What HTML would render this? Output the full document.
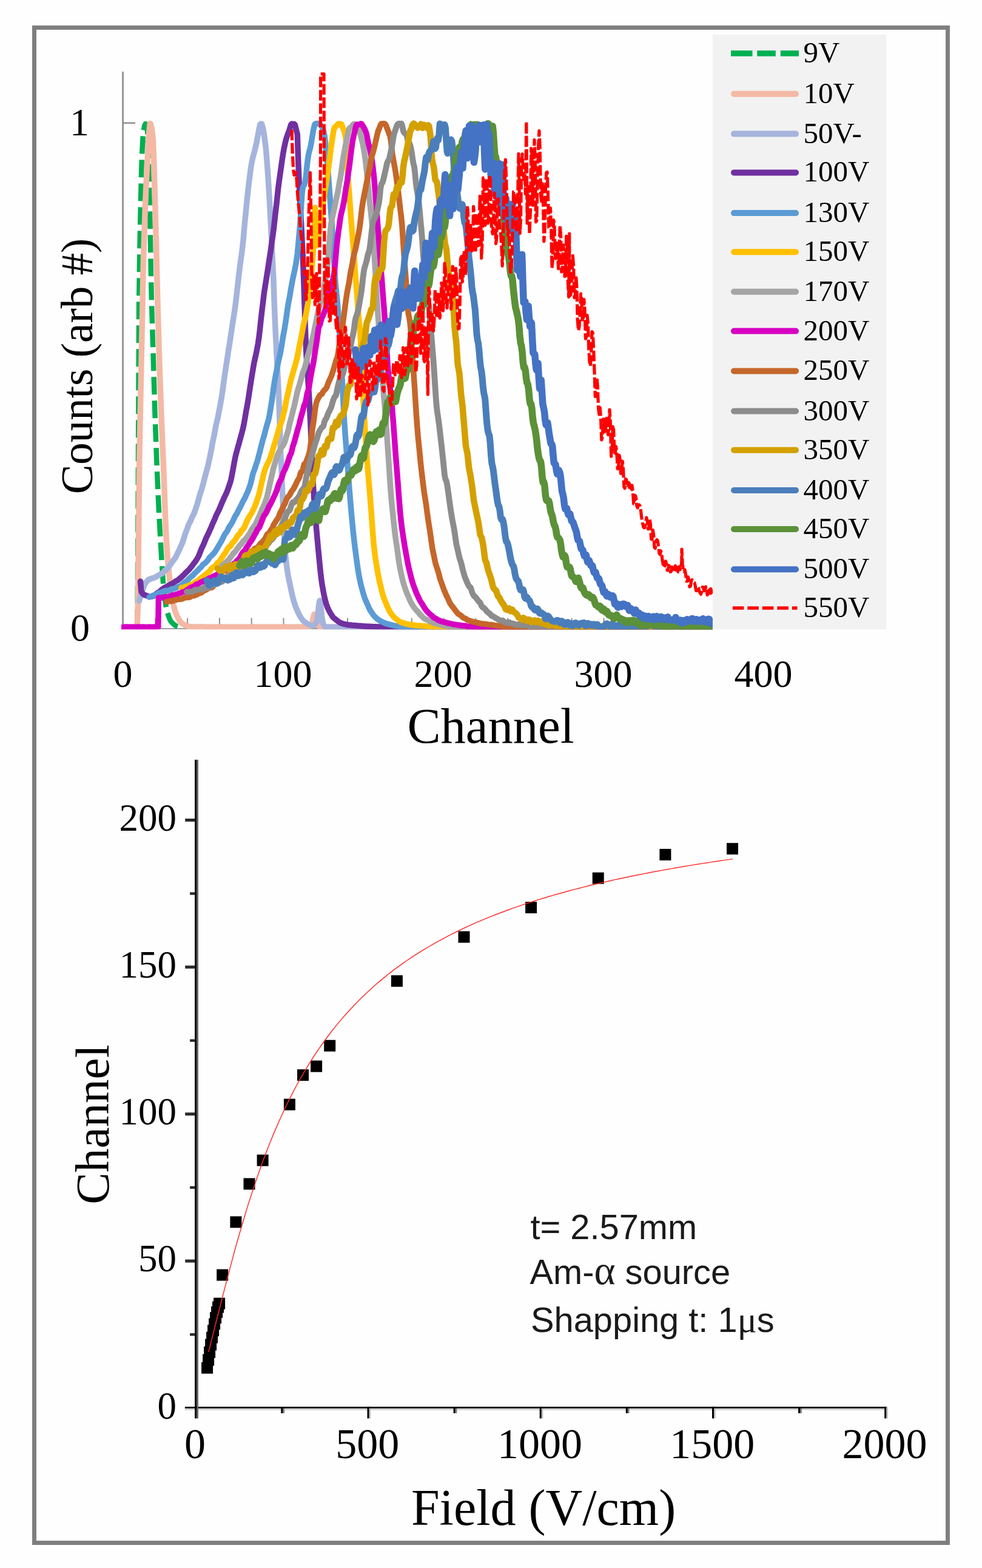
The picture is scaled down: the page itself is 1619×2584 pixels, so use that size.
<!DOCTYPE html>
<html lang="en">
<head>
<meta charset="utf-8">
<title>Normalised pulse-height spectra and channel vs. field</title>
<style>
html,body{margin:0;padding:0;background:#fefefe;}
body{width:1619px;height:2584px;overflow:hidden;}
figure{margin:0;padding:0;width:1619px;height:2584px;position:relative;}
svg{display:block;position:absolute;left:0;top:0;}
svg text{font-family:"Liberation Serif", "DejaVu Serif", serif;fill:#000;}
svg .note text{font-family:"Liberation Sans","DejaVu Sans",sans-serif;fill:#1a1a1a;}
svg .note .sym{font-family:"Liberation Serif","DejaVu Serif",serif;}
</style>
</head>
<body>
<figure>
<svg width="1619" height="2584" viewBox="0 0 1619 2584" role="img">
<defs>
<clipPath id="plotclip"><rect x="200" y="100" width="975" height="937.2"/></clipPath>
</defs>
<rect id="frame" x="56.5" y="45.5" width="1506" height="2497" fill="none" stroke="#7f7f7f" stroke-width="7"/>
<g id="charts">
<g id="spectra-chart">
<g class="axis" fill="none">
<path d="M202.6 118V1037" stroke="#969696" stroke-width="3"/>
<path d="M201.1 1035.9H1176" stroke="#a0a0a0" stroke-width="2"/>
<path d="M202.6 202.7H223" stroke="#8c8c8c" stroke-width="2.4"/>
</g>
<g class="ticks" stroke="#909090" stroke-width="2" fill="none">
<path d="M256.3 1018.4V1035.5M309.1 1018.4V1035.5M361.9 1018.4V1035.5M414.7 1018.4V1035.5M467.5 1018.4V1035.5M520.3 1018.4V1035.5M573.1 1018.4V1035.5M625.9 1018.4V1035.5M678.7 1018.4V1035.5M731.5 1018.4V1035.5M784.3 1018.4V1035.5M837.1 1018.4V1035.5M889.9 1018.4V1035.5M942.7 1018.4V1035.5M995.5 1018.4V1035.5M1048.3 1018.4V1035.5M1101.1 1018.4V1035.5M1153.9 1018.4V1035.5"/>
</g>
<g class="series" fill="none" stroke-linejoin="round" stroke-linecap="butt" clip-path="url(#plotclip)">
<path class="s9v" stroke="#00b050" stroke-width="8.5" stroke-dasharray="29 10" d="M226.5 1033.3L227.8 795.8L228 760L229.1 501.3L229.2 494L230.2 420L230.5 404.8L231.8 340.9L231.8 340L233.1 284.8L233.8 263L234.4 248.8L235.7 224.7L236.6 216L237.1 213.4L238.4 207.2L239.7 204.1L240 204L241 205.4L242.3 210.9L243 215L243.7 225.7L245 268.9L245.3 280L246.3 317.3L247.5 370L247.6 375.8L248.9 450.9L249.6 484L250.3 509.7L251.6 552.7L252.7 588L252.9 594.7L254.2 639.9L255.5 683.1L255.8 691L256.9 721.4L258.2 756.3L258.9 774L259.5 788.2L260.8 817.7L262.1 845.1L262.8 858L263.5 870.4L264.8 893.7L266.1 915.5L266.7 925L267.4 936.4L268.7 956.2L269.4 964L270.1 970.6L271.4 982.7L272.7 992.9L274 1000.9L274.7 1004L275.3 1006.5L276.7 1011.3L278 1015.6L279.3 1019.1L280.6 1022L281.9 1024.2L282.6 1025L283.3 1025.7L284.6 1027L285.9 1028.3L287.2 1029.4L288.5 1030.4L289.9 1031.3L291.2 1032L292.5 1032.6L293.8 1033L295.1 1033.3L296 1033.3"/>
<path class="s10v" stroke="#f4b9a5" stroke-width="9.5" stroke-linecap="round" d="M226 1033.3L227.3 1002.9L227.4 1000L228.6 880.2L229.7 765L230 748L231.3 679.5L232.3 632L232.6 617.1L233.9 552.5L235 500L235.2 488L236.5 427L236.6 424.8L237.9 384L238.2 375L239.2 347.2L240.2 322L240.5 314.7L241.8 287.5L242.8 269L243.2 261.9L244.5 236.8L245 229L245.8 218.2L247.1 204.7L247.6 203.5L248.4 204.3L249.8 209.6L251.1 218.8L252.2 229L252.4 231.5L253.7 265.9L254.6 295L255 309.5L256.4 358.3L256.8 375L257.7 409.2L259 462.1L260 500L260.3 511.5L261.6 557.6L263 600.9L264 632L264.3 639.8L265.6 674.4L266.9 706.1L268.2 737.1L269.4 765L269.6 769L270.9 804.3L272.2 840.7L273.5 873.8L274.7 897L274.8 899.2L276.2 917.2L277.3 930L277.5 931.9L278.8 945.8L280.1 958.8L281.4 970L282.6 978L282.8 979L284.1 986.5L285.4 993.3L286.7 999.4L288 1004.6L289.4 1009L290.5 1012L290.7 1012.4L292 1015.3L293.3 1018L294.6 1020.5L296 1022.6L297.3 1024.5L298.6 1026.1L299.9 1027.3L301 1028L301.2 1028.1L302.6 1028.8L303.9 1029.5L305.2 1030.1L306.5 1030.7L307.8 1031.2L309.2 1031.6L310.5 1032L311.8 1032.4L313.1 1032.6L314.4 1032.8L315.8 1033L317 1033L317.1 1033L318.4 1033L319.7 1033L321 1033L322.4 1033L323.7 1033.1L325 1033.1L326.3 1033.1L327.6 1033.1L329 1033.1L330.3 1033.1L331.6 1033.1L332.9 1033.1L334.2 1033.1L335.6 1033.1L336.9 1033.1L338.2 1033.2L339.5 1033.2L340.8 1033.2L342.2 1033.2L343.5 1033.2L344.8 1033.2L346.1 1033.2L347.4 1033.2L348.8 1033.2L350.1 1033.2L351.4 1033.2L352.7 1033.2L354 1033.2L355.4 1033.2L356.7 1033.2L358 1033.2L359.3 1033.2L360.6 1033.3L362 1033.3L363.3 1033.3L364.6 1033.3L365.9 1033.3L367.2 1033.3L368.6 1033.3L369.9 1033.3L371.2 1033.3L372.5 1033.3L373.8 1033.3L375.2 1033.3L376.5 1033.3L377.8 1033.3L379.1 1033.3L380.4 1033.3L381.8 1033.3L383.1 1033.3L384.4 1033.3L385.7 1033.3L387 1033.3L388.4 1033.3L389.7 1033.3L391 1033.3L392.3 1033.3L393.6 1033.3L395 1033.3L396.3 1033.3L397.6 1033.3L398.9 1033.3L400 1033.3L400.2 1033.3L401.6 1033.3L402.9 1033.3L404.2 1033.3L405.5 1033.3L406.8 1033.3L408.2 1033.3L409.5 1033.3L410.8 1033.3L412.1 1033.3L413.4 1033.3L414.8 1033.3L416.1 1033.3L417.4 1033.3L418.7 1033.3L420 1033.3L421.4 1033.3L422.7 1033.3L424 1033.3L425.3 1033.3L426.6 1033.3L428 1033.3L429.3 1033.3L430.6 1033.3L431.9 1033.3L433.2 1033.3L434.6 1033.3L435.9 1033.3L437.2 1033.3L438.5 1033.3L439.8 1033.3L441.2 1033.3L442.5 1033.3L443.8 1033.3L445.1 1033.3L446.4 1033.3L447.8 1033.3L449.1 1033.3L450.4 1033.3L451.7 1033.3L453 1033.3L454.4 1033.3L455.7 1033.3L457 1033.3L458.3 1033.3L459.6 1033.3L461 1033.3L462.3 1033.3L463.6 1033.3L464.9 1033.3L466.2 1033.3L467.6 1033.3L468.9 1033.3L470.2 1033.3L471.5 1033.3L472.8 1033.3L474.2 1033.3L475.5 1033.3L476.8 1033.3L478.1 1033.3L479.4 1033.3L480.8 1033.3L482.1 1033.3L483.4 1033.3L484.7 1033.3L486 1033.3L487.4 1033.3L488.7 1033.3L490 1033.3L491.3 1033.3L492.6 1033.3L494 1033.3L495.3 1033.3L496.6 1033.3L497.9 1033.3L499.2 1033.3L500.6 1033.3L501.9 1033.3L503.2 1033.3L504.5 1033.3L505.8 1033.3L507.2 1033.3L508 1033.3L508.5 1033.3L509.8 1032.7L511.1 1031.6L512.4 1030.1L513.8 1028.3L514 1028L515.1 1024.8L516.4 1018.4L517.7 1013.1L518.5 1012L519 1012.6L520.4 1017.3L521.7 1023.7L523 1028L524.3 1029.8L525.6 1031.4L527 1032.5L528.3 1033.2L529 1033.3L529.6 1033.3L530.9 1033.3L532.2 1033.3L533.6 1033.3L534.9 1033.3L536.2 1033.3L537.5 1033.3L538.8 1033.3L540.2 1033.3L541.5 1033.3L542.8 1033.3L544.1 1033.3L545.4 1033.3L546.8 1033.3L548.1 1033.3L549.4 1033.3L550.7 1033.3L552 1033.3L553.4 1033.3L554.7 1033.3L556 1033.3L557.3 1033.3L558.6 1033.3L560 1033.3L561.3 1033.3L562.6 1033.3L563.9 1033.3L565.2 1033.3L566.6 1033.3L567.9 1033.3L569.2 1033.3L570.5 1033.3L571.8 1033.3L573.2 1033.3L574.5 1033.3L575.8 1033.3L577.1 1033.3L578.4 1033.3L579.8 1033.3L581.1 1033.3L582.4 1033.3L583.7 1033.3L585 1033.3L586.4 1033.3L587.7 1033.3L589 1033.3L590.3 1033.3L591.6 1033.3L593 1033.3L594.3 1033.3L595.6 1033.3L596.9 1033.3L598.2 1033.3L599.6 1033.3L600.9 1033.3L602.2 1033.3L603.5 1033.3L604.8 1033.3L606.2 1033.3L607.5 1033.3L608.8 1033.3L610.1 1033.3L611.4 1033.3L612.8 1033.3L614.1 1033.3L615.4 1033.3L616.7 1033.3L618 1033.3L619.4 1033.3L620.7 1033.3L622 1033.3L623.3 1033.3L624.6 1033.3L626 1033.3L627.3 1033.3L628.6 1033.3L629.9 1033.3L631.2 1033.3L632.6 1033.3L633.9 1033.3L635.2 1033.3L636.5 1033.3L637.8 1033.3L639.2 1033.3L640.5 1033.3L641.8 1033.3L643.1 1033.3L644.4 1033.3L645.8 1033.3L647.1 1033.3L648.4 1033.3L649.7 1033.3L651 1033.3L652.4 1033.3L653.7 1033.3L655 1033.3L656.3 1033.3L657.6 1033.3L659 1033.3L660.3 1033.3L661.6 1033.3L662.9 1033.3L664.2 1033.3L665.6 1033.3L666.9 1033.3L668.2 1033.3L669.5 1033.3L670.8 1033.3L672.2 1033.3L673.5 1033.3L674.8 1033.3L676.1 1033.3L677.4 1033.3L678.8 1033.3L680.1 1033.3L681.4 1033.3L682.7 1033.3L684 1033.3L685.4 1033.3L686.7 1033.3L688 1033.3L689.3 1033.3L690.6 1033.3L692 1033.3L693.3 1033.3L694.6 1033.3L695.9 1033.3L697.2 1033.3L698.6 1033.3L699.9 1033.3L700 1033.3L701.2 1033.3L702.5 1033.3L703.8 1033.3L705.2 1033.3L706.5 1033.3L707.8 1033.3L709.1 1033.3L710.4 1033.3L711.8 1033.3L713.1 1033.3L714.4 1033.3L715.7 1033.3L717 1033.3L718.4 1033.3L719.7 1033.3L721 1033.3L722.3 1033.3L723.6 1033.3L725 1033.3L726.3 1033.3L727.6 1033.3L728.9 1033.3L730.2 1033.3L731.6 1033.3L732.9 1033.3L734.2 1033.3L735.5 1033.3L736.8 1033.3L738.2 1033.3L739.5 1033.3L740.8 1033.3L742.1 1033.3L743.4 1033.3L744.8 1033.3L746.1 1033.3L747.4 1033.3L748.7 1033.3L750 1033.3L751.4 1033.3L752.7 1033.3L754 1033.3L755.3 1033.3L756.6 1033.3L758 1033.3L759.3 1033.3L760.6 1033.3L761.9 1033.3L763.2 1033.3L764.6 1033.3L765.9 1033.3L767.2 1033.3L768.5 1033.3L769.8 1033.3L771.2 1033.3L772.5 1033.3L773.8 1033.3L775.1 1033.3L776.4 1033.3L777.8 1033.3L779.1 1033.3L780.4 1033.3L781.7 1033.3L783 1033.3L784.4 1033.3L785.7 1033.3L787 1033.3L788.3 1033.3L789.6 1033.3L791 1033.3L792.3 1033.3L793.6 1033.3L794.9 1033.3L796.2 1033.3L797.6 1033.3L798.9 1033.3L800.2 1033.3L801.5 1033.3L802.8 1033.3L804.2 1033.3L805.5 1033.3L806.8 1033.3L808.1 1033.3L809.4 1033.3L810.8 1033.3L812.1 1033.3L813.4 1033.3L814.7 1033.3L816 1033.3L817.4 1033.3L818.7 1033.3L820 1033.3L821.3 1033.3L822.6 1033.3L824 1033.3L825.3 1033.3L826.6 1033.3L827.9 1033.3L829.2 1033.3L830.6 1033.3L831.9 1033.3L833.2 1033.3L834.5 1033.3L835.8 1033.3L837.2 1033.3L838.5 1033.3L839.8 1033.3L841.1 1033.3L842.4 1033.3L843.8 1033.3L845.1 1033.3L846.4 1033.3L847.7 1033.3L849 1033.3L850.4 1033.3L851.7 1033.3L853 1033.3L854.3 1033.3L855.6 1033.3L857 1033.3L858.3 1033.3L859.6 1033.3L860.9 1033.3L862.2 1033.3L863.6 1033.3L864.9 1033.3L866.2 1033.3L867.5 1033.3L868.8 1033.3L870.2 1033.3L871.5 1033.3L872.8 1033.3L874.1 1033.3L875.4 1033.3L876.8 1033.3L878.1 1033.3L879.4 1033.3L880.7 1033.3L882 1033.3L883.4 1033.3L884.7 1033.3L886 1033.3L887.3 1033.3L888.6 1033.3L890 1033.3L891.3 1033.3L892.6 1033.3L893.9 1033.3L895.2 1033.3L896.6 1033.3L897.9 1033.3L899.2 1033.3L900.5 1033.3L901.8 1033.3L903.2 1033.3L904.5 1033.3L905.8 1033.3L907.1 1033.3L908.4 1033.3L909.8 1033.3L911.1 1033.3L912.4 1033.3L913.7 1033.3L915 1033.3L916.4 1033.3L917.7 1033.3L919 1033.3L920.3 1033.3L921.6 1033.3L923 1033.3L924.3 1033.3L925.6 1033.3L926.9 1033.3L928.2 1033.3L929.6 1033.3L930.9 1033.3L932.2 1033.3L933.5 1033.3L934.8 1033.3L936.2 1033.3L937.5 1033.3L938.8 1033.3L940.1 1033.3L941.4 1033.3L942.8 1033.3L944.1 1033.3L945.4 1033.3L946.7 1033.3L948 1033.3L949.4 1033.3L950.7 1033.3L952 1033.3L953.3 1033.3L954.6 1033.3L956 1033.3L957.3 1033.3L958.6 1033.3L959.9 1033.3L961.2 1033.3L962.6 1033.3L963.9 1033.3L965.2 1033.3L966.5 1033.3L967.8 1033.3L969.2 1033.3L970.5 1033.3L971.8 1033.3L973.1 1033.3L974.4 1033.3L975.8 1033.3L977.1 1033.3L978.4 1033.3L979.7 1033.3L981 1033.3L982.4 1033.3L983.7 1033.3L985 1033.3L986.3 1033.3L987.6 1033.3L989 1033.3L990.3 1033.3L991.6 1033.3L992.9 1033.3L994.2 1033.3L995.6 1033.3L996.9 1033.3L998.2 1033.3L999.5 1033.3L1000.8 1033.3L1002.2 1033.3L1003.5 1033.3L1004.8 1033.3L1006.1 1033.3L1007.4 1033.3L1008.8 1033.3L1010.1 1033.3L1011.4 1033.3L1012.7 1033.3L1014 1033.3L1015.4 1033.3L1016.7 1033.3L1018 1033.3L1019.3 1033.3L1020.6 1033.3L1022 1033.3L1023.3 1033.3L1024.6 1033.3L1025.9 1033.3L1027.2 1033.3L1028.6 1033.3L1029.9 1033.3L1031.2 1033.3L1032.5 1033.3L1033.8 1033.3L1035.2 1033.3L1036.5 1033.3L1037.8 1033.3L1039.1 1033.3L1040.4 1033.3L1041.8 1033.3L1043.1 1033.3L1044.4 1033.3L1045.7 1033.3L1047 1033.3L1048.4 1033.3L1049.7 1033.3L1051 1033.3L1052.3 1033.3L1053.6 1033.3L1055 1033.3L1056.3 1033.3L1057.6 1033.3L1058.9 1033.3L1060.2 1033.3L1061.6 1033.3L1062.9 1033.3L1064.2 1033.3L1065.5 1033.3L1066.8 1033.3L1068.2 1033.3L1069.5 1033.3L1070.8 1033.3L1072.1 1033.3L1073.4 1033.3L1074.8 1033.3L1076.1 1033.3L1077.4 1033.3L1078.7 1033.3L1080 1033.3L1081.4 1033.3L1082.7 1033.3L1084 1033.3L1085.3 1033.3L1086.6 1033.3L1088 1033.3L1089.3 1033.3L1090.6 1033.3L1091.9 1033.3L1093.2 1033.3L1094.6 1033.3L1095.9 1033.3L1097.2 1033.3L1098.5 1033.3L1099.8 1033.3L1101.2 1033.3L1102.5 1033.3L1103.8 1033.3L1105.1 1033.3L1106.4 1033.3L1107.8 1033.3L1109.1 1033.3L1110.4 1033.3L1111.7 1033.3L1113 1033.3L1114.4 1033.3L1115.7 1033.3L1117 1033.3L1118.3 1033.3L1119.6 1033.3L1121 1033.3L1122.3 1033.3L1123.6 1033.3L1124.9 1033.3L1126.2 1033.3L1127.6 1033.3L1128.9 1033.3L1130.2 1033.3L1131.5 1033.3L1132.8 1033.3L1134.2 1033.3L1135.5 1033.3L1136.8 1033.3L1138.1 1033.3L1139.4 1033.3L1140.8 1033.3L1142.1 1033.3L1143.4 1033.3L1144.7 1033.3L1146 1033.3L1147.4 1033.3L1148.7 1033.3L1150 1033.3L1151.3 1033.3L1152.6 1033.3L1154 1033.3L1155.3 1033.3L1156.6 1033.3L1157.9 1033.3L1159.2 1033.3L1160.6 1033.3L1161.9 1033.3L1163.2 1033.3L1164.5 1033.3L1165.8 1033.3L1167.2 1033.3L1168.5 1033.3L1169.8 1033.3L1171.1 1033.3L1172.4 1033.3L1173.8 1033.3L1175 1033.3"/>
<path class="s50v" stroke="#a5b4dc" stroke-width="9.5" stroke-linecap="round" d="M229.5 990.2L230.8 985.2L232.1 980.5L233.5 976.4L234 974.9L234.8 972.9L236.1 969.4L237.4 966.1L238.7 963.2L240.1 960.7L241.4 958.9L242.7 957.5L243 957.2L244 956.1L245.3 954.9L246.7 954.5L248 954.2L249.3 953.6L250.6 953L251.9 952.6L253.3 952.3L254.6 951.9L255.9 951.5L256 951.4L257.2 950.7L258.5 949.9L259.9 949L261.2 948.1L262.5 947.4L263.8 946.6L265.1 946.1L266.5 945.4L267.8 944.4L269.1 943.3L269.4 942.9L270.4 941.7L271.7 940.2L273.1 939.4L274.4 938.5L275.7 937.2L277 935.7L278.3 934L279.7 932.2L281 930.4L282.3 928.5L283.6 926.7L284.9 924.9L286.3 923L287.6 921L288.9 919.3L290.2 917.4L291.5 914.4L292.9 911.3L294.2 908.9L295.5 906.5L295.8 905.8L296.8 903.5L298.1 900.1L299.5 897.4L300.8 894.3L302.1 890.2L303.4 886.1L304.7 881.9L306.1 877.8L307.4 874.4L308.7 871.2L309 870.3L310 867.4L311.3 863.7L312.7 861.3L314 858.9L315.3 855.7L316.6 852.5L317.9 850.1L319.3 847.5L320.6 844L321.9 840.4L322.3 839.4L323.2 836.8L324.5 832.9L325.9 828.5L327.2 823.8L328.5 819.1L329.8 814.3L331.1 810.3L332.5 806.2L332.9 804.6L333.8 801.6L335.1 797L336.4 791.8L337.7 786.5L339.1 781.6L340.4 776.5L341.7 771.9L343 766.9L343.4 765.3L344.3 761L345.7 754.7L347 748.3L348.3 741.7L349.6 734.4L350.9 727.2L352.3 721L353.6 714.7L354 712.4L354.9 707.4L356.2 700.5L357.5 695L358.9 689.5L360.2 682.6L361.5 675.6L362.8 668.8L364.1 661.6L364.6 658.9L365.5 653.8L366.8 645.3L368.1 635.6L369.4 625.8L370.7 616.7L372.1 607.8L372.5 604.9L373.4 599.1L374.7 590.5L376 582L377.3 573.5L378.7 565L380 556.4L380.5 552.9L381.3 547.5L382.6 538.9L383.9 530.5L385.3 522L386.6 513.4L387.9 504.3L388 503.5L389.2 493.9L390.5 482.4L391.9 470.2L393.2 458.3L393.7 453.8L394.5 447.3L395.8 437.2L397.1 427.9L398.5 417.9L399 413.7L399.8 407.2L401.1 394.9L402.4 380L403.7 365.1L404.3 359.5L405.1 351.9L406.4 338.3L407.7 325.3L409 313.1L409.6 308.1L410.3 302L411.7 291.4L413 281L414.3 272L414.9 268.6L415.6 265L416.9 259.2L418.3 254.3L419.6 249.6L420.9 244.2L422.2 238.6L422.8 236.1L423.5 232.5L424.9 224.8L426.2 217.6L427.5 211L428.8 205.2L430.1 204L430.2 204L431.5 204.2L432.8 208.5L434.1 214.4L435.4 221.9L436.7 231.6L437.4 236.5L438.1 242.2L439.4 256.7L440.7 274.1L441.3 282L442 292L443.3 312.8L444.7 336.4L445.3 348.2L446 361.2L447.3 388L448 402.4L448.6 414.7L449.9 439.5L450.6 453.9L451.3 471.8L452.3 502.6L452.6 509.7L453.9 540L454.5 552.9L455.2 567.6L456.5 593.1L457.2 605.9L457.9 618.7L459.2 644.7L459.8 658.8L460.5 677.8L461.8 718.7L462.5 738L463.1 754.2L464.5 785.5L465.8 815.2L466.5 831.1L467.1 844.9L468.4 876.3L469.7 903L470.4 912.1L471.1 919L472.4 930.8L473.7 940.3L475 948.3L476.3 955.1L477.7 961.4L478.4 965L479 967.7L480.3 973.8L481.6 979.7L482.9 985.1L484.3 990.1L485.6 994.7L486.9 998.4L488.2 1001.6L489 1003.6L489.5 1004.9L490.9 1008L492.2 1010.7L493.5 1013.2L494.8 1015.7L496.1 1017.9L497.5 1019.9L498.8 1021.6L500.1 1023.1L501.4 1024.3L502.2 1024.9L502.7 1025.2L504.1 1026.1L505.4 1027.1L506.7 1028.1L508 1028.8L509.3 1029.5L510.7 1030L512 1030.4L513.3 1030.8L514.6 1031L515.4 1031L515.9 1030.9L517.3 1030.4L518.6 1029.4L519.9 1028L521.2 1026.3L522 1025.1L522.5 1023.4L523.9 1013.9L525.2 1001.5L526.5 991.9L527.3 989.8L527.8 990.9L529.1 1000.6L530.5 1014.3L531.8 1024.3L532 1025.1L533.1 1028.2L534.4 1031.1L535.7 1032.9L536.6 1033.3L537.1 1033.3L538.4 1033.3L539.7 1033.3L541 1033.3L542.3 1033.3L543.7 1033.3L545 1033.3L546.3 1033.3L547.6 1033.3L548.9 1033.4L550.3 1033.4L551.6 1033.4L552.9 1033.4L554.2 1033.3L555.5 1033.3L556.9 1033.3L558.2 1033.2L559.5 1033.2L560.8 1033.3L562.1 1033.3L563.5 1033.3L564.8 1033.3L566.1 1033.3L567.4 1033.3L568.7 1033.4L570.1 1033.4L571.4 1033.3L572.7 1033.3L574 1033.2L575.3 1033.1L576.7 1033.2L578 1033.3L579.3 1033.3L580.6 1033.3L581.9 1033.2L583.3 1033.2L584.6 1033.3L585.9 1033.3L587.2 1033.4L588.5 1033.4L589.9 1033.4L591.2 1033.4L592.5 1033.4L593.8 1033.4L595.1 1033.4L596.5 1033.4L597.8 1033.4L599.1 1033.3L600 1033.3L600.4 1033.3L601.7 1033.3L603.1 1033.3L604.4 1033.4L605.7 1033.4L607 1033.3L608.3 1033.3L609.7 1033.2L611 1033.3L612.3 1033.4L613.6 1033.3L614.9 1033.2L616.3 1033.3L617.6 1033.4L618.9 1033.4L620.2 1033.4L621.5 1033.3L622.9 1033.3L624.2 1033.3L625.5 1033.4L626.8 1033.3L628.1 1033.2L629.5 1033.2L630.8 1033.2L632.1 1033.3L633.4 1033.4L634.7 1033.3L636.1 1033.3L637.4 1033.3L638.7 1033.3L640 1033.3L641.3 1033.3L642.7 1033.3L644 1033.3L645.3 1033.3L646.6 1033.3L647.9 1033.3L649.3 1033.3L650.6 1033.3L651.9 1033.2L653.2 1033.3L654.5 1033.3L655.9 1033.3L657.2 1033.3L658.5 1033.2L659.8 1033.2L661.1 1033.2L662.5 1033.2L663.8 1033.3L665.1 1033.3L666.4 1033.3L667.7 1033.3L669.1 1033.3L670.4 1033.4L671.7 1033.4L673 1033.3L674.3 1033.3L675.7 1033.3L677 1033.3L678.3 1033.3L679.6 1033.4L680.9 1033.5L682.3 1033.4L683.6 1033.3L684.9 1033.3L686.2 1033.2L687.5 1033.3L688.9 1033.3L690.2 1033.4L691.5 1033.4L692.8 1033.4L694.1 1033.4L695.5 1033.3L696.8 1033.3L698.1 1033.4L699.4 1033.4L700.7 1033.4L702.1 1033.3L703.4 1033.4L704.7 1033.4L706 1033.3L707.3 1033.3L708.7 1033.3L710 1033.3L711.3 1033.3L712.6 1033.3L713.9 1033.3L715.3 1033.2L716.6 1033.2L717.9 1033.2L719.2 1033.2L720.5 1033.2L721.9 1033.2L723.2 1033.2L724.5 1033.3L725.8 1033.4L727.1 1033.3L728.5 1033.3L729.8 1033.3L731.1 1033.3L732.4 1033.3L733.7 1033.3L735.1 1033.3L736.4 1033.3L737.7 1033.3L739 1033.3L740.3 1033.3L741.7 1033.3L743 1033.3L744.3 1033.3L745.6 1033.3L746.9 1033.3L748.3 1033.3L749.6 1033.3L750.9 1033.3L752.2 1033.3L753.5 1033.3L754.9 1033.3L756.2 1033.2L757.5 1033.1L758.8 1033.3L760.1 1033.4L761.5 1033.4L762.8 1033.4L764.1 1033.4L765.4 1033.3L766.7 1033.3L768.1 1033.2L769.4 1033.3L770.7 1033.3L772 1033.3L773.3 1033.3L774.7 1033.3L776 1033.3L777.3 1033.3L778.6 1033.2L779.9 1033.3L781.3 1033.3L782.6 1033.3L783.9 1033.3L785.2 1033.3L786.5 1033.4L787.9 1033.3L789.2 1033.2L790.5 1033.3L791.8 1033.3L793.1 1033.3L794.5 1033.2L795.8 1033.3L797.1 1033.3L798.4 1033.3L799.7 1033.3L801.1 1033.3L802.4 1033.3L803.7 1033.4L805 1033.4L806.3 1033.3L807.7 1033.2L809 1033.2L810.3 1033.2L811.6 1033.2L812.9 1033.2L814.3 1033.3L815.6 1033.4L816.9 1033.3L818.2 1033.3L819.5 1033.3L820.9 1033.4L822.2 1033.3L823.5 1033.2L824.8 1033.2L826.1 1033.3L827.5 1033.3L828.8 1033.3L830.1 1033.3L831.4 1033.3L832.7 1033.3L834.1 1033.3L835.4 1033.4L836.7 1033.4L838 1033.3L839.3 1033.3L840.7 1033.3L842 1033.3L843.3 1033.3L844.6 1033.3L845.9 1033.2L847.3 1033.2L848.6 1033.3L849.9 1033.4L851.2 1033.4L852.5 1033.4L853.9 1033.3L855.2 1033.3L856.5 1033.3L857.8 1033.3L859.1 1033.4L860.5 1033.4L861.8 1033.3L863.1 1033.2L864.4 1033.3L865.7 1033.3L867.1 1033.3L868.4 1033.3L869.7 1033.3L871 1033.2L872.3 1033.2L873.7 1033.3L875 1033.3L876.3 1033.3L877.6 1033.2L878.9 1033.2L880.3 1033.3L881.6 1033.3L882.9 1033.3L884.2 1033.3L885.5 1033.3L886.9 1033.3L888.2 1033.3L889.5 1033.4L890.8 1033.4L892.1 1033.3L893.5 1033.3L894.8 1033.3L896.1 1033.3L897.4 1033.3L898.7 1033.4L900.1 1033.4L901.4 1033.3L902.7 1033.3L904 1033.3L905.3 1033.3L906.7 1033.2L908 1033.2L909.3 1033.3L910.6 1033.3L911.9 1033.3L913.3 1033.3L914.6 1033.3L915.9 1033.3L917.2 1033.3L918.5 1033.3L919.9 1033.3L921.2 1033.3L922.5 1033.3L923.8 1033.4L925.1 1033.3L926.5 1033.3L927.8 1033.2L929.1 1033.2L930.4 1033.3L931.7 1033.3L933.1 1033.3L934.4 1033.2L935.7 1033.3L937 1033.3L938.3 1033.3L939.7 1033.3L941 1033.3L942.3 1033.3L943.6 1033.3L944.9 1033.4L946.3 1033.4L947.6 1033.4L948.9 1033.3L950.2 1033.2L951.5 1033.3L952.9 1033.3L954.2 1033.3L955.5 1033.3L956.8 1033.3L958.1 1033.3L959.5 1033.3L960.8 1033.3L962.1 1033.3L963.4 1033.2L964.7 1033.3L966.1 1033.3L967.4 1033.4L968.7 1033.4L970 1033.4L971.3 1033.3L972.7 1033.3L974 1033.3L975.3 1033.3L976.6 1033.4L977.9 1033.4L979.3 1033.4L980.6 1033.4L981.9 1033.4L983.2 1033.4L984.5 1033.4L985.9 1033.4L987.2 1033.3L988.5 1033.4L989.8 1033.4L991.1 1033.3L992.5 1033.2L993.8 1033.3L995.1 1033.3L996.4 1033.3L997.7 1033.4L999.1 1033.3L1000.4 1033.3L1001.7 1033.3L1003 1033.3L1004.3 1033.3L1005.7 1033.4L1007 1033.3L1008.3 1033.3L1009.6 1033.3L1010.9 1033.3L1012.3 1033.3L1013.6 1033.3L1014.9 1033.3L1016.2 1033.3L1017.5 1033.3L1018.9 1033.3L1020.2 1033.3L1021.5 1033.4L1022.8 1033.3L1024.1 1033.2L1025.5 1033.3L1026.8 1033.3L1028.1 1033.3L1029.4 1033.3L1030.7 1033.3L1032.1 1033.3L1033.4 1033.3L1034.7 1033.3L1036 1033.3L1037.3 1033.3L1038.7 1033.3L1040 1033.3L1041.3 1033.3L1042.6 1033.3L1043.9 1033.3L1045.3 1033.2L1046.6 1033.3L1047.9 1033.3L1049.2 1033.3L1050.5 1033.3L1051.9 1033.4L1053.2 1033.4L1054.5 1033.4L1055.8 1033.4L1057.1 1033.4L1058.5 1033.3L1059.8 1033.3L1061.1 1033.3L1062.4 1033.3L1063.7 1033.3L1065.1 1033.3L1066.4 1033.3L1067.7 1033.2L1069 1033.2L1070.3 1033.2L1071.7 1033.3L1073 1033.3L1074.3 1033.3L1075.6 1033.3L1076.9 1033.3L1078.3 1033.3L1079.6 1033.3L1080.9 1033.3L1082.2 1033.3L1083.5 1033.3L1084.9 1033.2L1086.2 1033.2L1087.5 1033.3L1088.8 1033.3L1090.1 1033.3L1091.5 1033.3L1092.8 1033.3L1094.1 1033.3L1095.4 1033.3L1096.7 1033.3L1098.1 1033.3L1099.4 1033.3L1100.7 1033.3L1102 1033.2L1103.3 1033.2L1104.7 1033.2L1106 1033.3L1107.3 1033.3L1108.6 1033.2L1109.9 1033.2L1111.3 1033.3L1112.6 1033.3L1113.9 1033.3L1115.2 1033.3L1116.5 1033.3L1117.9 1033.3L1119.2 1033.2L1120.5 1033.2L1121.8 1033.3L1123.1 1033.3L1124.5 1033.4L1125.8 1033.3L1127.1 1033.3L1128.4 1033.3L1129.7 1033.4L1131.1 1033.4L1132.4 1033.4L1133.7 1033.3L1135 1033.3L1136.3 1033.3L1137.7 1033.4L1139 1033.3L1140.3 1033.2L1141.6 1033.3L1142.9 1033.3L1144.3 1033.3L1145.6 1033.3L1146.9 1033.3L1148.2 1033.3L1149.5 1033.3L1150.9 1033.3L1152.2 1033.3L1153.5 1033.3L1154.8 1033.3L1156.1 1033.3L1157.5 1033.3L1158.8 1033.3L1160.1 1033.3L1161.4 1033.4L1162.7 1033.3L1164.1 1033.3L1165.4 1033.3L1166.7 1033.4L1168 1033.3L1169.3 1033.3L1170.7 1033.3L1172 1033.3L1173.3 1033.3L1174.6 1033.4L1175 1033.4"/>
<path class="s100v" stroke="#7030a0" stroke-width="9.5" stroke-linecap="round" d="M231.5 958L232.8 974.4L233 975.1L234.1 976.7L235.5 978.3L236.8 979.6L238.1 980.4L239.4 980.8L240.7 981.3L242.1 981.7L243.4 982.3L244.7 982.9L246 983.1L247.3 983L248 983L248.7 983L250 983L251.3 982.7L252.6 982.3L253.9 981.7L255.3 980.9L256.6 979.8L257.9 978.4L259.2 977.4L260.5 976.7L261.9 975.9L263.2 975L264.5 973.8L265.8 972.5L267.1 971.4L268.5 970.4L269.4 969.7L269.8 969.5L271.1 968.7L272.4 968L273.7 967.5L275.1 966.7L276.4 965.8L277.7 965.1L279 964.5L280.3 963.7L281.7 962.7L283 962.1L284.3 961.6L285.6 960.8L286.9 959.8L288.3 958.8L289.6 957.8L290.9 957.1L292.2 956.7L293.5 955.8L294.9 954.6L295.8 953.7L296.2 953.5L297.5 952.4L298.8 951.3L300.1 950.1L301.5 948.8L302.8 947.4L304.1 946L305.4 944.7L306.7 943.4L307.9 942.2L308.1 942.1L309.4 940.8L310.7 939.6L312 938.3L313.3 936.7L314.7 935.1L316 933.5L317.3 931.7L318.6 929.8L319.9 928.1L321.3 926.5L322.3 925.1L322.6 924.6L323.9 922.5L325.2 920.4L326.5 918.2L327.9 915.4L329.2 912.1L330.5 908.7L331.8 905.3L333.1 902.3L334.5 899.6L335.8 896.7L337.1 893.6L338.4 890.3L339.7 887.1L339.7 887L341.1 884.1L342.4 881.6L343.7 878.8L345 875.8L346.3 872.9L347.7 870L349 866.9L350.3 863.7L351.6 860.7L352.9 857.9L354.3 854.8L355.6 851.3L355.6 851.3L356.9 848.4L358.2 845.9L359.5 843.2L360.9 840.5L362.2 837.5L363.5 834.4L364.8 831.3L366.1 828.1L367.5 825.1L368.8 822L369.8 819.8L370.1 819.1L371.4 816.5L372.7 813.7L374.1 810.6L375.4 807.2L376.7 803.4L378 799.7L379.3 795.9L380.5 791.8L380.7 791.2L382 785L383.3 778.2L384.6 771.2L385.9 763.7L387.3 756.4L388.4 751.1L388.6 750.4L389.9 745.5L391.2 740.6L392.5 735.8L393.9 731.1L395.2 726.3L396.5 721.6L397.8 716.7L399 712.3L399.1 711.8L400.5 706.6L401.8 700.5L403.1 693.5L404.4 686L405.7 678.1L407 671.1L407.1 670.8L408.4 663.4L409.7 655.4L411 646.9L412.3 638.2L413.7 629.3L415 621L416.3 613.2L417.5 606.1L417.6 605.4L418.9 597.9L420.3 591.6L421.6 585.9L422.9 579.8L424.2 573L425.4 566.3L425.5 565.4L426.9 556.6L428.2 545.5L429.5 533L430.8 521.2L432.1 510.1L433.4 499.5L433.5 499L434.8 487.8L436 478.9L436.1 478.3L437.4 470.3L438.7 461.9L440.1 453.3L441.4 444.8L442.7 436.2L444 427.7L444 427.6L445.3 419.2L446.7 410L448 400.1L449.3 391.1L450.6 382.5L450.6 382.3L451.9 371.4L453.3 358.8L454.5 348L454.6 347.3L455.9 336.4L457.2 324.1L458.5 311.5L459.8 301.3L459.9 300.8L461.2 291.7L462.5 282.4L463.8 273.2L465.1 263.9L466.5 254.7L467.8 247.1L467.8 247L469.1 240.7L470.4 234.7L471.7 229.4L473.1 225L474.4 221.4L474.4 221.3L475.7 217.9L477 214.4L478.3 210L479.7 205.4L481 204L482.3 204.5L483.6 204.6L484.9 204.3L486.3 205.4L487.6 210.7L488.9 215.8L490.2 221.2L490.3 221.6L491.5 258.6L491.9 270.5L492.9 295.1L494.2 323.4L494.2 323.8L495.5 347.7L496.8 372.4L496.9 374L498.1 398.3L499.5 426.2L499.5 427.2L500.8 463L502.1 503.8L502.2 506.7L503.4 543.6L504.7 578.3L504.8 579.6L506.1 601.7L507.4 620.6L508.7 638.9L510 659.3L510 659.6L511.3 685.9L512.7 716.4L514 748.2L515.3 778.1L516.6 803.2L516.7 804.5L517.9 823.6L519.3 842.1L520.6 858.8L521.9 874.1L523.2 888.8L523.3 889.7L524.5 903.3L525.9 917.4L527.2 930.9L528.5 943.4L529.8 954.7L531.1 963.9L531.3 964.9L532.5 971.6L533.8 978.4L535.1 984.4L536.4 989.9L537.7 994.8L539.1 998.8L539.2 999.1L540.4 1002L541.7 1004.9L543 1007.4L544.3 1009.8L545.7 1012L547 1014.1L548.3 1016.1L549.6 1017.6L549.8 1017.8L550.9 1018.9L552.3 1019.9L553.6 1020.8L554.9 1021.9L556.2 1023L557.5 1024L558.9 1025L560.2 1025.8L561.5 1026.5L562.8 1027L564.1 1027.4L565.5 1027.9L565.7 1027.9L566.8 1028.3L568.1 1028.6L569.4 1028.8L570.7 1029.1L572.1 1029.5L573.4 1029.7L574.7 1029.9L576 1030L577.3 1030L578.7 1030.1L580 1030.4L581.3 1030.5L582.6 1030.6L583.9 1030.7L585.3 1030.7L586.6 1030.8L586.8 1030.8L587.9 1031L589.2 1031.1L590.5 1031.3L591.9 1031.3L593.2 1031.3L594.5 1031.5L595.8 1031.6L597.1 1031.7L598.5 1031.8L599.8 1031.9L601.1 1032L602.4 1032.1L603.7 1032.2L605.1 1032.3L606.4 1032.2L607.7 1032.3L609 1032.3L610.3 1032.4L611.7 1032.6L613 1032.6L614.3 1032.7L615.6 1032.7L616.9 1032.8L618.3 1032.8L619.6 1032.8L620.9 1032.9L622.2 1033L623.5 1033.1L624.9 1033.2L626.2 1033.2L627.5 1033.1L628.8 1033.1L630.1 1033.1L631.5 1033.2L632.8 1033.3L634.1 1033.3L635.4 1033.3L636.7 1033.3L638.1 1033.2L639.4 1033.2L640 1033.2L640.7 1033.2L642 1033.3L643.3 1033.3L644.7 1033.3L646 1033.3L647.3 1033.3L648.6 1033.3L649.9 1033.3L651.3 1033.2L652.6 1033.2L653.9 1033.2L655.2 1033.2L656.5 1033.2L657.9 1033.2L659.2 1033.2L660.5 1033.2L661.8 1033.2L663.1 1033.3L664.5 1033.4L665.8 1033.4L667.1 1033.4L668.4 1033.4L669.7 1033.5L671.1 1033.5L672.4 1033.4L673.7 1033.4L675 1033.4L676.3 1033.3L677.7 1033.2L679 1033.2L680.3 1033.3L681.6 1033.3L682.9 1033.2L684.3 1033.3L685.6 1033.4L686.9 1033.5L688.2 1033.4L689.5 1033.4L690.9 1033.4L692.2 1033.3L693.5 1033.2L694.8 1033.2L696.1 1033.2L697.5 1033.2L698.8 1033.3L700.1 1033.3L701.4 1033.3L702.7 1033.2L704.1 1033.1L705.4 1033.1L706.7 1033.2L708 1033.3L709.3 1033.2L710.7 1033.2L712 1033.2L713.3 1033.2L714.6 1033.3L715.9 1033.3L717.3 1033.3L718.6 1033.3L719.9 1033.2L721.2 1033.2L722.5 1033.3L723.9 1033.3L725.2 1033.3L726.5 1033.3L727.8 1033.3L729.1 1033.3L730.5 1033.3L731.8 1033.3L733.1 1033.3L734.4 1033.3L735.7 1033.2L737.1 1033.2L738.4 1033.3L739.7 1033.4L741 1033.3L742.3 1033.3L743.7 1033.3L745 1033.3L746.3 1033.3L747.6 1033.3L748.9 1033.3L750.3 1033.3L751.6 1033.3L752.9 1033.3L754.2 1033.3L755.5 1033.3L756.9 1033.4L758.2 1033.3L759.5 1033.2L760.8 1033.2L762.1 1033.2L763.5 1033.2L764.8 1033.3L766.1 1033.3L767.4 1033.3L768.7 1033.3L770.1 1033.3L771.4 1033.3L772.7 1033.3L774 1033.3L775.3 1033.4L776.7 1033.3L778 1033.3L779.3 1033.3L780.6 1033.2L781.9 1033.2L783.3 1033.3L784.6 1033.4L785.9 1033.4L787.2 1033.4L788.5 1033.3L789.9 1033.3L791.2 1033.4L792.5 1033.4L793.8 1033.3L795.1 1033.3L796.5 1033.3L797.8 1033.3L799.1 1033.4L800.4 1033.4L801.7 1033.4L803.1 1033.3L804.4 1033.3L805.7 1033.3L807 1033.4L808.3 1033.4L809.7 1033.2L811 1033.2L812.3 1033.2L813.6 1033.3L814.9 1033.3L816.3 1033.3L817.6 1033.3L818.9 1033.2L820.2 1033.2L821.5 1033.2L822.9 1033.3L824.2 1033.3L825.5 1033.2L826.8 1033.3L828.1 1033.4L829.5 1033.3L830.8 1033.2L832.1 1033.2L833.4 1033.3L834.7 1033.3L836.1 1033.2L837.4 1033.3L838.7 1033.4L840 1033.4L841.3 1033.3L842.7 1033.3L844 1033.3L845.3 1033.3L846.6 1033.2L847.9 1033.2L849.3 1033.3L850.6 1033.3L851.9 1033.2L853.2 1033.2L854.5 1033.3L855.9 1033.3L857.2 1033.4L858.5 1033.3L859.8 1033.2L861.1 1033.2L862.5 1033.3L863.8 1033.4L865.1 1033.4L866.4 1033.3L867.7 1033.2L869.1 1033.2L870.4 1033.3L871.7 1033.3L873 1033.3L874.3 1033.3L875.7 1033.2L877 1033.2L878.3 1033.3L879.6 1033.3L880.9 1033.4L882.3 1033.4L883.6 1033.3L884.9 1033.3L886.2 1033.3L887.5 1033.3L888.9 1033.3L890.2 1033.4L891.5 1033.4L892.8 1033.3L894.1 1033.3L895.5 1033.3L896.8 1033.3L898.1 1033.3L899.4 1033.3L900.7 1033.3L902.1 1033.4L903.4 1033.3L904.7 1033.2L906 1033.2L907.3 1033.2L908.7 1033.2L910 1033.2L911.3 1033.2L912.6 1033.3L913.9 1033.3L915.3 1033.2L916.6 1033.2L917.9 1033.3L919.2 1033.4L920.5 1033.4L921.9 1033.3L923.2 1033.3L924.5 1033.3L925.8 1033.3L927.1 1033.3L928.5 1033.3L929.8 1033.3L931.1 1033.3L932.4 1033.3L933.7 1033.3L935.1 1033.3L936.4 1033.2L937.7 1033.2L939 1033.3L940.3 1033.3L941.7 1033.1L943 1033.1L944.3 1033.2L945.6 1033.3L946.9 1033.4L948.3 1033.3L949.6 1033.2L950.9 1033.2L952.2 1033.3L953.5 1033.2L954.9 1033.2L956.2 1033.2L957.5 1033.3L958.8 1033.3L960.1 1033.3L961.5 1033.3L962.8 1033.4L964.1 1033.4L965.4 1033.3L966.7 1033.3L968.1 1033.3L969.4 1033.3L970.7 1033.3L972 1033.3L973.3 1033.2L974.7 1033.2L976 1033.4L977.3 1033.4L978.6 1033.3L979.9 1033.3L981.3 1033.3L982.6 1033.3L983.9 1033.2L985.2 1033.2L986.5 1033.3L987.9 1033.3L989.2 1033.3L990.5 1033.3L991.8 1033.3L993.1 1033.3L994.5 1033.2L995.8 1033.2L997.1 1033.3L998.4 1033.3L999.7 1033.3L1001.1 1033.2L1002.4 1033.2L1003.7 1033.3L1005 1033.3L1006.3 1033.3L1007.7 1033.3L1009 1033.3L1010.3 1033.3L1011.6 1033.4L1012.9 1033.4L1014.3 1033.3L1015.6 1033.3L1016.9 1033.3L1018.2 1033.2L1019.5 1033.2L1020.9 1033.3L1022.2 1033.3L1023.5 1033.3L1024.8 1033.3L1026.1 1033.3L1027.5 1033.3L1028.8 1033.4L1030.1 1033.4L1031.4 1033.3L1032.7 1033.3L1034.1 1033.3L1035.4 1033.3L1036.7 1033.4L1038 1033.4L1039.3 1033.3L1040.7 1033.2L1042 1033.2L1043.3 1033.3L1044.6 1033.4L1045.9 1033.4L1047.3 1033.3L1048.6 1033.2L1049.9 1033.2L1051.2 1033.2L1052.5 1033.3L1053.9 1033.4L1055.2 1033.3L1056.5 1033.3L1057.8 1033.3L1059.1 1033.3L1060.5 1033.3L1061.8 1033.3L1063.1 1033.3L1064.4 1033.3L1065.7 1033.3L1067.1 1033.3L1068.4 1033.3L1069.7 1033.3L1071 1033.3L1072.3 1033.3L1073.7 1033.3L1075 1033.3L1076.3 1033.3L1077.6 1033.3L1078.9 1033.4L1080.3 1033.3L1081.6 1033.3L1082.9 1033.3L1084.2 1033.3L1085.5 1033.3L1086.9 1033.4L1088.2 1033.4L1089.5 1033.3L1090.8 1033.3L1092.1 1033.3L1093.5 1033.3L1094.8 1033.3L1096.1 1033.3L1097.4 1033.3L1098.7 1033.3L1100.1 1033.4L1101.4 1033.3L1102.7 1033.3L1104 1033.2L1105.3 1033.3L1106.7 1033.3L1108 1033.3L1109.3 1033.3L1110.6 1033.3L1111.9 1033.3L1113.3 1033.3L1114.6 1033.3L1115.9 1033.3L1117.2 1033.3L1118.5 1033.4L1119.9 1033.3L1121.2 1033.2L1122.5 1033.2L1123.8 1033.2L1125.1 1033.2L1126.5 1033.2L1127.8 1033.2L1129.1 1033.3L1130.4 1033.2L1131.7 1033.2L1133.1 1033.2L1134.4 1033.3L1135.7 1033.3L1137 1033.3L1138.3 1033.3L1139.7 1033.3L1141 1033.3L1142.3 1033.5L1143.6 1033.5L1144.9 1033.4L1146.3 1033.4L1147.6 1033.4L1148.9 1033.3L1150.2 1033.3L1151.5 1033.3L1152.9 1033.3L1154.2 1033.3L1155.5 1033.4L1156.8 1033.4L1158.1 1033.4L1159.5 1033.3L1160.8 1033.3L1162.1 1033.3L1163.4 1033.3L1164.7 1033.3L1166.1 1033.2L1167.4 1033.2L1168.7 1033.3L1170 1033.4L1171.3 1033.4L1172.7 1033.4L1174 1033.4L1175 1033.4"/>
<path class="s130v" stroke="#5b9bd5" stroke-width="9.5" stroke-linecap="round" d="M246 984.1L247.3 983.3L248.6 982.8L250 982.5L251.3 981.9L252.6 981.1L253.9 980.7L255.2 980.6L256.6 980.3L257.9 979.8L259.2 979L260.5 977.9L261.8 977.2L263.2 977L264.5 976.6L265.8 976.1L267.1 975.6L268.4 975.1L269.4 974.7L269.8 974.5L271.1 974L272.4 973.7L273.7 973.5L275 973.3L276.4 973.2L277.7 973L279 972.7L280.3 972.1L281.6 971.3L283 970.8L284.3 970.5L285.6 970.3L286.9 970.1L288.2 969.8L289.6 969.2L290.9 968.4L292.2 967.5L293.5 966.9L294.8 966.3L295.8 966L296.2 965.9L297.5 965.4L298.8 964.6L300.1 963.7L301.4 962.5L302.8 961.2L304.1 960L305.4 959L306.7 958.1L308 957.4L309.4 956.2L310.7 954.5L312 953.2L313.3 952L314.6 950.8L315.9 949.9L316 949.8L317.3 948.7L318.6 947.4L319.9 946L321.2 944.6L322.6 943.3L323.9 942L325.2 940.8L326.5 939.5L327.8 938.1L329.2 936.6L330.5 935.4L331.7 934.4L331.8 934.3L333.1 932.6L334.4 930.5L335.8 929.3L337.1 928.7L338.4 927.7L339.7 926.5L341 925.1L342.4 923.6L343.7 921.6L345 919.3L346.3 917.8L347.6 916.7L349 915.5L350.3 914.1L351.6 912.8L352.9 911.4L354.2 909.6L355.6 907.6L355.6 907.5L356.9 905.5L358.2 903.4L359.5 901.2L360.8 898.8L362.2 896.6L363.5 894.4L364.8 892.2L366.1 889.8L367.4 887L368.8 884.1L370.1 881.6L371.4 879.5L372.7 877.7L374 876.1L375.4 873.6L376.7 870.5L378 868.1L379.3 866.4L380.6 864.5L382 862.3L383.3 859.9L384.6 857.2L385.9 854.5L387.2 851.6L387.3 851.5L388.6 849.3L389.9 847.4L391.2 845.1L392.5 842.3L393.8 839.7L395.2 837.3L396.5 834.7L397.8 832.1L399.1 829.4L400.4 826.7L401.6 824.4L401.8 824.2L403.1 821.9L404.4 819.3L405.7 816.2L407 813.3L408.4 810.4L409.7 807.1L411 803.5L412.2 800L412.3 799.7L413.6 795.2L415 789.5L416.3 783.4L417.5 779L417.6 778.8L418.9 775.7L420.2 772L421.6 767.6L422.8 763.9L422.9 763.7L424.2 760L425.5 755.4L426.8 750.2L428.2 745L429.5 739.7L430.8 734.5L432.1 729.4L433.4 724.8L433.4 724.6L434.8 720.1L436.1 715.3L437.4 710.2L438.7 705.4L440 700.6L441.4 696.1L442.7 691.6L444 685.7L445.3 678.3L446.6 670.3L448 661.8L449.3 652.4L450.6 642.5L451.9 633.4L453.2 625.3L454.5 618.3L454.6 618L455.9 611.5L457.2 604.8L458.5 597.8L459.8 591.7L461.2 586.3L462.5 580L463.8 572.8L465 565.7L465.1 564.9L466.4 556.3L467.8 548.8L469.1 542L470.4 534L471.7 525.1L473 515.8L474.4 506L475.7 498.3L475.7 498.2L477 492L478.3 484.5L479.6 476.6L481 468.9L481 468.6L482.3 461.7L483.6 455.5L484.9 449.7L486.2 443.3L487.6 436.1L488.9 428.2L489 427.5L490.2 418.6L491.5 405.8L492.8 390.8L494.2 375.8L494.2 375.4L495.5 357.8L496.8 336.1L498.1 317.6L499 310.7L499.4 309L500.8 305.7L502.1 303.2L503 300.5L503.4 298.7L504.7 288.1L506 274.3L507.4 262.6L507.5 261.7L508.7 254.5L510 248.7L511.3 244.6L512.6 238.5L512.7 238.1L514 230.4L515.3 222.2L516.6 214.4L517.9 208.5L519.2 204.5L520.6 204L521.9 203.4L522 203.6L523.2 203.8L524.5 203.5L525.8 203.8L527.2 204.9L528.5 206.2L529.8 207.7L531 209.2L531.1 209.4L532.4 212.5L533.8 217.5L534.4 220.3L535.1 223.9L536.4 235L537.7 249.5L539 263.7L539.7 270.5L540.4 277.7L541.7 294.2L543 311.7L543.7 321L544.3 329.8L545.6 348.5L547 367.1L547.6 376.5L548.3 387.4L549.6 410.2L550.9 433.1L552.2 454.6L553 465L553.6 471.4L554.9 484.6L556.2 497.8L556.9 506.1L557.5 514.2L558.8 533.3L560.2 554.8L561.5 578L562.8 601.3L563.5 613.6L564.1 625.2L565.4 652.3L566.8 679L567.5 691.9L568.1 701L569.4 719.4L570.7 736.4L571.4 745.4L572 754.1L573.4 771.9L574.7 789.1L576 805.9L576.7 814.4L577.3 821.8L578.6 837.3L580 852.5L581.3 866.6L582.6 879.4L583.9 891.3L584.7 897.8L585.2 902.1L586.6 912.5L587.9 922.5L589.2 931.9L590.5 940.7L591.8 948.5L593.2 955.3L594.5 961.4L595.2 964.3L595.8 966.6L597.1 971.6L598.4 976.4L599.8 980.8L601.1 984.9L602.4 988.3L603.7 991.2L605 994.2L605.8 996L606.4 997.2L607.7 1000.3L609 1003.3L610.3 1005.7L611.6 1007.6L613 1009.7L614.3 1011.7L615.6 1013.5L616.9 1014.9L618.2 1016.3L619 1017.1L619.6 1017.6L620.9 1018.9L622.2 1020.3L623.5 1021.3L624.8 1021.9L626.2 1022.7L627.5 1023.4L628.8 1024.2L630.1 1024.9L631.4 1025.5L632.8 1026L634.1 1026.6L635.4 1027.3L636.7 1027.8L637.6 1027.9L638 1028L639.4 1028.3L640.7 1028.7L642 1029L643.3 1029.3L644.6 1029.6L646 1030L647.3 1030.3L648.6 1030.6L649.9 1030.9L651.2 1031.3L652.6 1031.6L653.9 1031.7L655.2 1031.9L656.5 1032.1L657.8 1032.2L659.2 1032.4L660.5 1032.5L661.8 1032.6L663.1 1032.6L664 1032.6L664.4 1032.6L665.8 1032.7L667.1 1032.7L668.4 1032.8L669.7 1032.8L671 1032.8L672.4 1032.9L673.7 1033L675 1033L676.3 1033L677.6 1032.9L679 1032.9L680.3 1032.8L681.6 1032.8L682.9 1032.9L684.2 1033L685.6 1033L686.9 1033L688.2 1033L689.5 1033L690.8 1033.1L692.2 1033.2L693.5 1033.2L694.8 1033.2L696.1 1033.1L697.4 1033.1L698.8 1033.1L700.1 1033.1L701.4 1033.3L702.7 1033.3L704 1033.2L705.4 1033.3L706.7 1033.3L708 1033.3L709.3 1033.2L710.6 1033.3L712 1033.4L713.3 1033.5L714.6 1033.4L715.9 1033.4L717.2 1033.3L718.6 1033.3L719.9 1033.4L720 1033.4L721.2 1033.4L722.5 1033.3L723.8 1033.3L725.2 1033.4L726.5 1033.4L727.8 1033.4L729.1 1033.3L730.4 1033.2L731.8 1033.2L733.1 1033.3L734.4 1033.3L735.7 1033.3L737 1033.2L738.4 1033.2L739.7 1033.2L741 1033.2L742.3 1033.3L743.6 1033.4L745 1033.4L746.3 1033.3L747.6 1033.3L748.9 1033.3L750.2 1033.2L751.6 1033.2L752.9 1033.2L754.2 1033.3L755.5 1033.4L756.8 1033.3L758.2 1033.3L759.5 1033.3L760.8 1033.3L762.1 1033.4L763.4 1033.4L764.8 1033.4L766.1 1033.4L767.4 1033.3L768.7 1033.3L770 1033.3L771.4 1033.3L772.7 1033.2L774 1033.2L775.3 1033.1L776.6 1033.2L778 1033.3L779.3 1033.4L780.6 1033.4L781.9 1033.4L783.2 1033.4L784.6 1033.3L785.9 1033.3L787.2 1033.3L788.5 1033.3L789.8 1033.3L791.2 1033.3L792.5 1033.2L793.8 1033.2L795.1 1033.2L796.4 1033.3L797.8 1033.4L799.1 1033.5L800.4 1033.4L801.7 1033.3L803 1033.2L804.4 1033.2L805.7 1033.2L807 1033.3L808.3 1033.3L809.6 1033.3L811 1033.2L812.3 1033.2L813.6 1033.2L814.9 1033.2L816.2 1033.3L817.6 1033.3L818.9 1033.2L820.2 1033.1L821.5 1033.1L822.8 1033.1L824.2 1033.2L825.5 1033.3L826.8 1033.4L828.1 1033.3L829.4 1033.3L830.8 1033.3L832.1 1033.3L833.4 1033.3L834.7 1033.3L836 1033.2L837.4 1033.2L838.7 1033.2L840 1033.2L841.3 1033.2L842.6 1033.3L844 1033.4L845.3 1033.4L846.6 1033.3L847.9 1033.3L849.2 1033.2L850.6 1033.3L851.9 1033.5L853.2 1033.4L854.5 1033.3L855.8 1033.2L857.2 1033.2L858.5 1033.3L859.8 1033.3L861.1 1033.4L862.4 1033.4L863.8 1033.4L865.1 1033.5L866.4 1033.5L867.7 1033.4L869 1033.4L870.4 1033.4L871.7 1033.3L873 1033.2L874.3 1033.2L875.6 1033.3L877 1033.3L878.3 1033.3L879.6 1033.3L880.9 1033.2L882.2 1033.2L883.6 1033.3L884.9 1033.3L886.2 1033.3L887.5 1033.4L888.8 1033.5L890.2 1033.5L891.5 1033.5L892.8 1033.4L894.1 1033.4L895.4 1033.3L896.8 1033.3L898.1 1033.3L899.4 1033.3L900.7 1033.4L902 1033.4L903.4 1033.4L904.7 1033.2L906 1033.2L907.3 1033.3L908.6 1033.2L910 1033.1L911.3 1033.2L912.6 1033.3L913.9 1033.4L915.2 1033.4L916.6 1033.4L917.9 1033.4L919.2 1033.4L920.5 1033.3L921.8 1033.3L923.2 1033.3L924.5 1033.3L925.8 1033.3L927.1 1033.3L928.4 1033.2L929.8 1033.2L931.1 1033.3L932.4 1033.3L933.7 1033.4L935 1033.3L936.4 1033.1L937.7 1033.1L939 1033.2L940.3 1033.3L941.6 1033.3L943 1033.3L944.3 1033.3L945.6 1033.3L946.9 1033.2L948.2 1033.2L949.6 1033.3L950.9 1033.3L952.2 1033.2L953.5 1033.2L954.8 1033.3L956.2 1033.4L957.5 1033.5L958.8 1033.5L960.1 1033.3L961.4 1033.2L962.8 1033.1L964.1 1033.1L965.4 1033.3L966.7 1033.3L968 1033.3L969.4 1033.3L970.7 1033.3L972 1033.3L973.3 1033.3L974.6 1033.3L976 1033.2L977.3 1033.2L978.6 1033.2L979.9 1033.3L981.2 1033.5L982.6 1033.5L983.9 1033.4L985.2 1033.4L986.5 1033.4L987.8 1033.4L989.2 1033.4L990.5 1033.4L991.8 1033.5L993.1 1033.4L994.4 1033.2L995.8 1033.1L997.1 1033.2L998.4 1033.2L999.7 1033.3L1001 1033.3L1002.4 1033.3L1003.7 1033.3L1005 1033.3L1006.3 1033.3L1007.6 1033.3L1009 1033.3L1010.3 1033.3L1011.6 1033.2L1012.9 1033.2L1014.2 1033.2L1015.6 1033.3L1016.9 1033.3L1018.2 1033.4L1019.5 1033.4L1020.8 1033.3L1022.2 1033.3L1023.5 1033.2L1024.8 1033.2L1026.1 1033.2L1027.4 1033.3L1028.8 1033.4L1030.1 1033.3L1031.4 1033.2L1032.7 1033.2L1034 1033.2L1035.4 1033.3L1036.7 1033.4L1038 1033.4L1039.3 1033.3L1040.6 1033.2L1042 1033.2L1043.3 1033.2L1044.6 1033.3L1045.9 1033.3L1047.2 1033.3L1048.6 1033.3L1049.9 1033.3L1051.2 1033.3L1052.5 1033.3L1053.8 1033.3L1055.2 1033.4L1056.5 1033.4L1057.8 1033.3L1059.1 1033.3L1060.4 1033.4L1061.8 1033.4L1063.1 1033.4L1064.4 1033.4L1065.7 1033.3L1067 1033.3L1068.4 1033.3L1069.7 1033.3L1071 1033.3L1072.3 1033.3L1073.6 1033.3L1075 1033.3L1076.3 1033.4L1077.6 1033.4L1078.9 1033.3L1080.2 1033.4L1081.6 1033.4L1082.9 1033.5L1084.2 1033.4L1085.5 1033.4L1086.8 1033.4L1088.2 1033.4L1089.5 1033.4L1090.8 1033.4L1092.1 1033.4L1093.4 1033.4L1094.8 1033.3L1096.1 1033.3L1097.4 1033.3L1098.7 1033.3L1100 1033.2L1101.4 1033.2L1102.7 1033.3L1104 1033.3L1105.3 1033.3L1106.6 1033.3L1108 1033.2L1109.3 1033.2L1110.6 1033.4L1111.9 1033.4L1113.2 1033.4L1114.6 1033.3L1115.9 1033.2L1117.2 1033.2L1118.5 1033.2L1119.8 1033.2L1121.2 1033.2L1122.5 1033.2L1123.8 1033.4L1125.1 1033.5L1126.4 1033.5L1127.8 1033.5L1129.1 1033.4L1130.4 1033.3L1131.7 1033.2L1133 1033.2L1134.4 1033.2L1135.7 1033.3L1137 1033.4L1138.3 1033.4L1139.6 1033.3L1141 1033.3L1142.3 1033.3L1143.6 1033.3L1144.9 1033.4L1146.2 1033.4L1147.6 1033.2L1148.9 1033.2L1150.2 1033.3L1151.5 1033.3L1152.8 1033.3L1154.2 1033.3L1155.5 1033.2L1156.8 1033.2L1158.1 1033.3L1159.4 1033.3L1160.8 1033.3L1162.1 1033.3L1163.4 1033.3L1164.7 1033.3L1166 1033.3L1167.4 1033.4L1168.7 1033.4L1170 1033.3L1171.3 1033.3L1172.6 1033.3L1174 1033.3L1175 1033.3"/>
<path class="s150v" stroke="#ffc000" stroke-width="9.5" stroke-linecap="round" d="M299 968.6L300.3 968.7L301.6 968.4L303 968L304.3 967.5L305.6 966.8L306.9 966.4L308.2 966L309.6 965.6L310.9 965.2L312.2 964.6L313.5 963.7L314.8 963.2L315.9 962.9L316.2 962.8L317.5 962.5L318.8 962.2L320.1 961.1L321.4 959.6L322.8 958.7L324.1 958.1L325.4 957.5L326.7 957L328 955.7L329.4 954.1L330.7 952.9L332 951.9L333.3 951.1L334.6 950.3L336 949.1L337.3 947.8L338.6 947L339.9 946.3L341.2 945.1L342.6 943.6L343.9 942.5L345.2 941.6L346.5 940L347.6 938.5L347.8 938.1L349.2 936.6L350.5 935.2L351.8 934.6L353.1 934.4L354.4 933L355.8 931.2L357.1 929.6L358.4 928L359.7 926.9L361 925.9L362.4 924.3L363.5 922.6L363.7 922.4L365 920.3L366.3 918.2L367.6 916.2L369 914.3L370.3 912.6L371.6 910.9L372.9 908.6L374.2 906L375.6 903.9L376.9 902L378.2 901.1L379.4 900.6L379.5 900.6L380.8 898.6L382.2 896.1L383.5 894.4L384.8 893L386.1 891.6L387.4 890.2L388.8 888.1L390.1 885.7L391.4 883.7L392.7 881.8L394 880.5L395 879.7L395.4 879.4L396.7 877.1L398 874.3L399.3 873.1L400.6 872.3L402 870.3L403.3 867.9L404.6 864.8L405.9 861.5L407.2 858.5L408.6 855.6L409.9 853.2L411 851.4L411.2 851.1L412.5 849.1L413.8 847.3L415.2 844.9L416.5 842.2L417.8 839.5L419.1 836.7L420.4 833.5L421.8 830.1L423.1 826.5L424.4 822.7L425.4 819.8L425.7 818.8L427 814.4L428.4 809L429.7 803L431 797.3L432.3 791.9L433.6 785.9L435 780.1L436 776.5L436.3 775.7L437.6 772.1L438.9 768.8L440.2 765.8L441.6 763.3L442.9 761L444.2 757.8L445.5 754.2L446.6 751.1L446.8 750.4L448.2 746.4L449.5 742L450.8 737.3L452.1 733.1L453.4 729.1L454.8 724.7L456.1 720.1L457.2 716.2L457.4 715.5L458.7 711L460 706.7L461.4 702.4L462.7 698.8L464 695.4L465.3 690.5L466.6 685L467.8 680.5L468 679.9L469.3 674.8L470.6 668L471.9 660.5L473.2 654.6L474.6 649.5L475.9 643.3L477.2 636.8L478.4 631.5L478.5 631L479.8 625.5L481.2 620.8L482.5 616.4L483.8 611.8L485.1 607.1L486.4 602.6L487.8 597.9L489 593.1L489.1 592.8L490.4 587.2L491.7 580.4L493 573L494.4 566.7L495.7 560.9L497 553.9L498.3 546.6L499.5 540.2L499.6 539.5L501 532.8L502.3 527.4L503.6 522.4L504.9 515.9L506.2 508.5L507.5 501.1L507.6 500.7L508.9 492.1L510.2 481.4L511.5 468.9L512.8 456.5L513 454.9L514.2 442.7L515.5 425.9L516.8 405.7L517 402.4L518.1 371L519.4 342.2L519.5 342L520.8 368.5L522.1 403.5L522.3 404.6L523.4 401L524.7 391.7L526 383.5L526 383.3L527.4 375.8L528.7 366.8L530 357.2L531.3 346.4L532 340.9L532.6 335.9L534 326.6L535.3 317.8L536.6 309.4L537.9 301L539.2 292.2L539.7 289L540.6 282.6L541.9 273.2L543.2 264L544.5 253.2L545 249.3L545.8 242.6L547.2 233L548.5 224.8L549.8 216.8L550.3 214.4L551.1 211L552.4 209L553.8 208.4L555.1 206.9L556.4 205.4L557.7 203.9L559 204L560.4 204.6L560.8 204.7L561.7 204.4L563 204.6L564.3 208.3L565.6 211.4L567 214.9L568.3 219.6L569.6 225.2L570 227.2L570.9 238L572.2 263.6L573.6 288.9L574 295.6L574.9 307.3L576.2 324.7L577.5 342.3L578 348.8L578.8 360.2L580.2 378.3L581.5 395L582 401.4L582.8 411.2L584.1 428.8L585.4 446.8L586 454.2L586.8 463.7L588.1 480.4L589.4 498.1L590 506.1L590.7 514.9L592 528.4L593.4 542.9L594 552L594.7 564.8L596 596.5L597.3 628.9L597.9 641.2L598.6 655.2L600 677.6L601.3 698.3L601.9 708L602.6 719L603.9 739.3L605.2 758.7L605.8 766.4L606.6 776.1L607.9 791.8L609.2 806.9L610.5 822.4L611 828.3L611.8 839.5L613.2 858.4L614.5 877L615.8 893.1L616.4 898.9L617.1 905.1L618.4 915.7L619.8 925.2L621.1 933.6L622.4 941.1L623.7 948.3L624.3 951.3L625 955.1L626.4 961.1L627.7 966.6L629 972.1L630.3 977.3L631.6 981.7L633 985.5L634.3 989L635 990.8L635.6 992.2L636.9 995.4L638.2 998.6L639.6 1001.7L640.9 1004.5L642.2 1007L643.5 1009.2L644.8 1011.3L646.2 1013.1L647.5 1014.7L648 1015.3L648.8 1016.2L650.1 1017.5L651.4 1018.7L652.8 1019.8L654.1 1020.8L655.4 1021.8L656.7 1022.8L658 1023.8L659.4 1024.6L660.7 1025.3L662 1025.9L663.3 1026.3L664 1026.5L664.6 1026.6L666 1027L667.3 1027.5L668.6 1027.9L669.9 1028.2L671.2 1028.5L672.6 1028.7L673.9 1029L675.2 1029.3L676.5 1029.6L677.8 1029.9L679.2 1029.9L680.5 1029.8L681.8 1030L683.1 1030.2L684.4 1030.5L685.8 1030.8L687.1 1030.9L688.4 1030.9L689.7 1031L690.5 1031.1L691 1031.1L692.4 1031.2L693.7 1031.4L695 1031.5L696.3 1031.6L697.6 1031.6L699 1031.6L700.3 1031.7L701.6 1031.9L702.9 1032L704.2 1032.1L705.6 1032.2L706.9 1032.2L708.2 1032.3L709.5 1032.3L710.8 1032.4L712.2 1032.5L713.5 1032.5L714.8 1032.5L716.1 1032.5L717.4 1032.6L718.8 1032.8L720.1 1033L721.4 1033.1L722.7 1033.1L724 1033L725.4 1033L726.7 1033L728 1033L729.3 1033.1L730.6 1033.3L732 1033.3L733.3 1033.3L734.6 1033.3L735.9 1033.3L737.2 1033.3L738.6 1033.4L739.9 1033.3L740 1033.3L741.2 1033.2L742.5 1033.2L743.8 1033.3L745.2 1033.3L746.5 1033.3L747.8 1033.3L749.1 1033.3L750.4 1033.2L751.8 1033.2L753.1 1033.2L754.4 1033.3L755.7 1033.3L757 1033.2L758.4 1033.2L759.7 1033.2L761 1033.3L762.3 1033.4L763.6 1033.3L765 1033.2L766.3 1033.3L767.6 1033.3L768.9 1033.4L770.2 1033.3L771.6 1033.4L772.9 1033.5L774.2 1033.5L775.5 1033.3L776.8 1033.3L778.2 1033.2L779.5 1033.2L780.8 1033.2L782.1 1033.2L783.4 1033.3L784.8 1033.4L786.1 1033.4L787.4 1033.3L788.7 1033.3L790 1033.3L791.4 1033.3L792.7 1033.3L794 1033.4L795.3 1033.4L796.6 1033.4L798 1033.4L799.3 1033.4L800.6 1033.3L801.9 1033.2L803.2 1033.2L804.6 1033.2L805.9 1033.3L807.2 1033.3L808.5 1033.3L809.8 1033.4L811.2 1033.3L812.5 1033.3L813.8 1033.3L815.1 1033.3L816.4 1033.3L817.8 1033.4L819.1 1033.3L820.4 1033.3L821.7 1033.2L823 1033.2L824.4 1033.3L825.7 1033.4L827 1033.4L828.3 1033.3L829.6 1033.3L831 1033.2L832.3 1033.2L833.6 1033.2L834.9 1033.3L836.2 1033.3L837.6 1033.4L838.9 1033.4L840.2 1033.3L841.5 1033.2L842.8 1033.2L844.2 1033.2L845.5 1033.3L846.8 1033.3L848.1 1033.3L849.4 1033.3L850.8 1033.3L852.1 1033.3L853.4 1033.3L854.7 1033.4L856 1033.4L857.4 1033.4L858.7 1033.3L860 1033.3L861.3 1033.4L862.6 1033.4L864 1033.3L865.3 1033.2L866.6 1033.2L867.9 1033.3L869.2 1033.3L870.6 1033.4L871.9 1033.4L873.2 1033.3L874.5 1033.3L875.8 1033.3L877.2 1033.3L878.5 1033.3L879.8 1033.3L881.1 1033.4L882.4 1033.4L883.8 1033.2L885.1 1033.2L886.4 1033.2L887.7 1033.3L889 1033.3L890.4 1033.3L891.7 1033.4L893 1033.4L894.3 1033.4L895.6 1033.3L897 1033.2L898.3 1033.2L899.6 1033.3L900.9 1033.3L902.2 1033.3L903.6 1033.3L904.9 1033.2L906.2 1033.2L907.5 1033.2L908.8 1033.3L910.2 1033.5L911.5 1033.4L912.8 1033.2L914.1 1033.2L915.4 1033.3L916.8 1033.3L918.1 1033.3L919.4 1033.3L920.7 1033.3L922 1033.3L923.4 1033.3L924.7 1033.3L926 1033.3L927.3 1033.2L928.6 1033.2L930 1033.2L931.3 1033.4L932.6 1033.3L933.9 1033.2L935.2 1033.2L936.6 1033.3L937.9 1033.3L939.2 1033.4L940.5 1033.4L941.8 1033.4L943.2 1033.3L944.5 1033.2L945.8 1033.2L947.1 1033.3L948.4 1033.3L949.8 1033.3L951.1 1033.2L952.4 1033.1L953.7 1033.2L955 1033.3L956.4 1033.4L957.7 1033.4L959 1033.4L960.3 1033.3L961.6 1033.4L963 1033.4L964.3 1033.4L965.6 1033.3L966.9 1033.3L968.2 1033.3L969.6 1033.4L970.9 1033.4L972.2 1033.3L973.5 1033.2L974.8 1033.2L976.2 1033.3L977.5 1033.2L978.8 1033.1L980.1 1033.2L981.4 1033.4L982.8 1033.4L984.1 1033.3L985.4 1033.3L986.7 1033.3L988 1033.2L989.4 1033.1L990.7 1033.2L992 1033.4L993.3 1033.4L994.6 1033.4L996 1033.3L997.3 1033.3L998.6 1033.3L999.9 1033.4L1001.2 1033.4L1002.6 1033.4L1003.9 1033.4L1005.2 1033.4L1006.5 1033.4L1007.8 1033.4L1009.2 1033.4L1010.5 1033.4L1011.8 1033.4L1013.1 1033.5L1014.4 1033.5L1015.8 1033.5L1017.1 1033.4L1018.4 1033.3L1019.7 1033.3L1021 1033.3L1022.4 1033.4L1023.7 1033.4L1025 1033.4L1026.3 1033.3L1027.6 1033.3L1029 1033.3L1030.3 1033.3L1031.6 1033.3L1032.9 1033.3L1034.2 1033.4L1035.6 1033.3L1036.9 1033.3L1038.2 1033.3L1039.5 1033.4L1040.8 1033.3L1042.2 1033.2L1043.5 1033.2L1044.8 1033.3L1046.1 1033.4L1047.4 1033.4L1048.8 1033.3L1050.1 1033.2L1051.4 1033.2L1052.7 1033.3L1054 1033.3L1055.4 1033.3L1056.7 1033.2L1058 1033.2L1059.3 1033.2L1060.6 1033.2L1062 1033.2L1063.3 1033.2L1064.6 1033.3L1065.9 1033.3L1067.2 1033.4L1068.6 1033.4L1069.9 1033.4L1071.2 1033.4L1072.5 1033.4L1073.8 1033.3L1075.2 1033.2L1076.5 1033.2L1077.8 1033.3L1079.1 1033.5L1080.4 1033.5L1081.8 1033.4L1083.1 1033.3L1084.4 1033.2L1085.7 1033.2L1087 1033.4L1088.4 1033.3L1089.7 1033.2L1091 1033.2L1092.3 1033.3L1093.6 1033.3L1095 1033.3L1096.3 1033.3L1097.6 1033.3L1098.9 1033.3L1100.2 1033.3L1101.6 1033.3L1102.9 1033.3L1104.2 1033.3L1105.5 1033.4L1106.8 1033.4L1108.2 1033.3L1109.5 1033.3L1110.8 1033.4L1112.1 1033.4L1113.4 1033.5L1114.8 1033.4L1116.1 1033.4L1117.4 1033.3L1118.7 1033.2L1120 1033.2L1121.4 1033.2L1122.7 1033.2L1124 1033.2L1125.3 1033.3L1126.6 1033.3L1128 1033.3L1129.3 1033.3L1130.6 1033.2L1131.9 1033.2L1133.2 1033.2L1134.6 1033.3L1135.9 1033.2L1137.2 1033.2L1138.5 1033.1L1139.8 1033.2L1141.2 1033.2L1142.5 1033.2L1143.8 1033.3L1145.1 1033.4L1146.4 1033.4L1147.8 1033.3L1149.1 1033.3L1150.4 1033.3L1151.7 1033.3L1153 1033.4L1154.4 1033.4L1155.7 1033.4L1157 1033.3L1158.3 1033.3L1159.6 1033.3L1161 1033.2L1162.3 1033.2L1163.6 1033.2L1164.9 1033.2L1166.2 1033.3L1167.6 1033.4L1168.9 1033.4L1170.2 1033.3L1171.5 1033.3L1172.8 1033.3L1174.2 1033.3L1175 1033.3"/>
<path class="s170v" stroke="#a5a5a5" stroke-width="9.5" stroke-linecap="round" d="M366 931.9L367.3 930.8L368.6 929.9L370 928.9L371.3 927.9L371.4 927.8L372.6 926.7L373.9 925.3L375.2 924L376.6 922.9L377.9 921.4L379.2 919.6L380.5 917.8L381.8 916.2L383.2 914.3L384.5 912.2L385.8 910.7L387.1 909.9L388.4 908.4L389.8 906.4L391.1 904.5L392.4 902.9L393.7 901.1L395 899.3L395 899.2L396.4 897.8L397.7 896.8L399 895.2L400.3 893L401.6 891.3L403 890.2L404.3 888.9L405.6 887.3L406.9 885.7L408.2 884L409.6 882.2L410.9 880.2L411 880L412.2 877.9L413.5 875.4L414.8 873L416.2 870.8L417.5 869L418.8 867.7L420.1 865.8L421.4 863.4L422.8 860.7L424.1 857.6L425.4 854.7L426.7 852.1L427 851.6L428 849.3L429.4 846.1L430.7 842.9L432 839.6L433.3 836.6L434.6 834L436 830.9L437.3 827.3L438.6 823.6L439.7 820.4L439.9 819.8L441.2 814.7L442.6 808.4L443.9 802.2L445.2 796.6L446.5 790.6L447.8 784.6L449 779.6L449.2 778.9L450.5 773.1L451.8 768.2L453.1 764.2L454.4 759.9L455.8 755.2L457.1 751.3L457.2 751L458.4 748.2L459.7 745.4L461 742.7L462.4 740.3L463.7 737.9L465 736.1L466.3 734.6L467.6 732.5L469 729.6L470.3 725.8L470.4 725.4L471.6 721L472.9 716.6L474.2 712.8L475.6 707.7L476.9 701.3L478.2 695.6L479.5 691L480.8 685.9L481 685.2L482.2 680.3L483.5 675.1L484.8 670.4L486.1 664.9L487.4 658.4L488.8 652.2L490.1 646.4L491.4 641.4L492.7 637.4L494 633L494.2 632.4L495.4 628.1L496.7 623.2L498 618.1L499.3 613.9L500.6 610.7L502 606.9L503.3 602.5L504.6 597.6L505.9 592.2L507.2 587.2L508.6 582.6L509.9 577.9L510 577.4L511.2 573L512.5 568.2L513.8 563.5L515.2 558.3L516.5 552.7L517.8 546.6L519.1 539.9L520.4 533.4L521.8 527.1L523.1 520.6L524.4 513.8L525 510.7L525.7 508.1L527 503.8L528.4 498.4L529.7 491.7L531 486.6L532.3 483.3L533.6 477.9L535 470.1L536.3 462.5L537.6 454.9L538.9 446.3L539.7 440.6L540.2 435.7L541.6 419.8L542.9 401.9L544.2 384.3L545 375.6L545.5 371.3L546.8 362.6L548.2 356.6L549.5 351L550.8 345.3L552.1 339.2L553 334.7L553.4 332.3L554.8 326.1L556.1 320.5L557.4 313.9L558.7 305.9L560 298.5L560.8 294.5L561.4 291.5L562.7 282.9L564 273.2L565.3 264.1L566.6 256.3L568 248.6L568.8 243.9L569.3 241.3L570.6 234.7L571.9 228.6L573.2 222.1L574.6 215.6L575.9 211.7L576.7 210.9L577.2 210.7L578.5 209.7L579.8 208.4L581.2 206.9L582.5 205L583.8 204.3L585.1 205L586 205.6L586.4 205.7L587.8 207L589.1 208L590.4 208.3L591.7 211.3L593 216.9L594.4 222.4L595.7 227.5L597 232.8L597.9 236.4L598.3 238.1L599.6 245L601 253.6L602.3 263.2L603 268.7L603.6 273.7L604.9 285.4L606.2 297.7L607.6 311.3L608.5 321.5L608.9 325.4L610.2 338.2L611.5 350.2L612.8 363L613.8 373.2L614.2 377.3L615.5 394.7L616.8 414.8L617.7 428.9L618.1 435.5L619.4 457.7L620.8 480.6L622 500.9L622.1 502.2L623.4 522.2L624.7 541.6L626 561.5L627.4 581.7L628.7 600.4L629.6 612.4L630 617.5L631.3 634.3L632.6 650.9L634 666.7L635.3 682.2L636.6 699.1L637.6 713.1L637.9 717.8L639.2 737.1L640.6 756.6L641.9 776.7L643.2 796.4L644.5 814.2L645.5 825.5L645.8 829.1L647.2 842.5L648.5 855L649.8 866.9L651.1 878.4L652.4 888.4L653.4 894.9L653.8 897.3L655.1 906.7L656.4 916.6L657.7 925.5L659 933.4L660.4 940.5L661.4 945.5L661.7 946.7L663 952.4L664.3 957.7L665.6 962.5L667 966.8L668.3 970.7L669.6 974.4L670.9 977.8L672 980.3L672.2 980.8L673.6 983.9L674.9 987L676.2 990L677.5 992.6L678.8 995.1L680.2 997.4L681.5 999.5L682.8 1001.2L684.1 1002.9L685 1003.9L685.4 1004.4L686.8 1006L688.1 1007.4L689.4 1008.9L690.7 1010.4L692 1012L693.4 1013.5L694.7 1014.9L696 1016L697.3 1017.3L698.6 1018.7L700 1019.7L701 1020.1L701.3 1020.3L702.6 1020.8L703.9 1021.4L705.2 1022L706.6 1022.7L707.9 1023.5L709.2 1024.2L710.5 1024.8L711.8 1025.2L713.2 1025.8L714.5 1026.5L715.8 1027L717.1 1027.4L718.4 1027.7L719.6 1027.9L719.8 1027.9L721.1 1028.2L722.4 1028.5L723.7 1028.8L725 1029.1L726.4 1029.5L727.7 1030L729 1030.3L730.3 1030.6L731.6 1030.8L733 1031L734.3 1031.2L735.6 1031.5L736.9 1031.7L738.2 1031.7L739.6 1031.8L740.9 1032.1L742.2 1032.3L743.5 1032.4L744.8 1032.5L746.2 1032.6L747.5 1032.8L748.8 1033L750 1033L750.1 1033L751.4 1032.9L752.8 1032.9L754.1 1033L755.4 1033L756.7 1032.9L758 1032.9L759.4 1033L760.7 1033L762 1032.9L763.3 1033L764.6 1033.1L766 1033.1L767.3 1033L768.6 1033L769.9 1033L771.2 1033.1L772.6 1033.1L773.9 1033.1L775.2 1033.1L776.5 1033.1L777.8 1033.2L779.2 1033.2L780.5 1033.2L781.8 1033.1L783.1 1033.1L784.4 1033.1L785.8 1033.2L787.1 1033.2L788.4 1033.2L789.7 1033.2L791 1033.2L792.4 1033.2L793.7 1033.3L795 1033.3L796.3 1033.2L797.6 1033.2L799 1033.2L800 1033.2L800.3 1033.2L801.6 1033.3L802.9 1033.3L804.2 1033.3L805.6 1033.2L806.9 1033.3L808.2 1033.3L809.5 1033.2L810.8 1033.3L812.2 1033.4L813.5 1033.4L814.8 1033.2L816.1 1033.2L817.4 1033.3L818.8 1033.4L820.1 1033.3L821.4 1033.3L822.7 1033.3L824 1033.3L825.4 1033.5L826.7 1033.5L828 1033.3L829.3 1033.3L830.6 1033.3L832 1033.3L833.3 1033.3L834.6 1033.3L835.9 1033.3L837.2 1033.3L838.6 1033.2L839.9 1033.3L841.2 1033.4L842.5 1033.5L843.8 1033.3L845.2 1033.3L846.5 1033.3L847.8 1033.3L849.1 1033.3L850.4 1033.3L851.8 1033.2L853.1 1033.2L854.4 1033.2L855.7 1033.2L857 1033.4L858.4 1033.4L859.7 1033.3L861 1033.3L862.3 1033.2L863.6 1033.2L865 1033.3L866.3 1033.3L867.6 1033.3L868.9 1033.4L870.2 1033.4L871.6 1033.4L872.9 1033.4L874.2 1033.4L875.5 1033.2L876.8 1033.2L878.2 1033.3L879.5 1033.3L880.8 1033.3L882.1 1033.3L883.4 1033.3L884.8 1033.3L886.1 1033.3L887.4 1033.3L888.7 1033.4L890 1033.3L891.4 1033.2L892.7 1033.3L894 1033.4L895.3 1033.4L896.6 1033.3L898 1033.3L899.3 1033.4L900.6 1033.4L901.9 1033.3L903.2 1033.3L904.6 1033.3L905.9 1033.4L907.2 1033.5L908.5 1033.4L909.8 1033.3L911.2 1033.3L912.5 1033.4L913.8 1033.4L915.1 1033.3L916.4 1033.3L917.8 1033.3L919.1 1033.3L920.4 1033.3L921.7 1033.2L923 1033.2L924.4 1033.3L925.7 1033.3L927 1033.3L928.3 1033.4L929.6 1033.4L931 1033.3L932.3 1033.2L933.6 1033.2L934.9 1033.2L936.2 1033.3L937.6 1033.3L938.9 1033.2L940.2 1033.2L941.5 1033.3L942.8 1033.2L944.2 1033.1L945.5 1033.2L946.8 1033.3L948.1 1033.4L949.4 1033.2L950.8 1033.2L952.1 1033.3L953.4 1033.4L954.7 1033.4L956 1033.4L957.4 1033.4L958.7 1033.3L960 1033.2L961.3 1033.2L962.6 1033.3L964 1033.3L965.3 1033.2L966.6 1033.2L967.9 1033.3L969.2 1033.3L970.6 1033.3L971.9 1033.2L973.2 1033.2L974.5 1033.2L975.8 1033.2L977.2 1033.3L978.5 1033.3L979.8 1033.3L981.1 1033.2L982.4 1033.2L983.8 1033.3L985.1 1033.4L986.4 1033.5L987.7 1033.5L989 1033.4L990.4 1033.3L991.7 1033.4L993 1033.4L994.3 1033.3L995.6 1033.3L997 1033.2L998.3 1033.3L999.6 1033.4L1000.9 1033.4L1002.2 1033.3L1003.6 1033.3L1004.9 1033.3L1006.2 1033.3L1007.5 1033.3L1008.8 1033.3L1010.2 1033.4L1011.5 1033.4L1012.8 1033.3L1014.1 1033.3L1015.4 1033.3L1016.8 1033.3L1018.1 1033.2L1019.4 1033.2L1020.7 1033.3L1022 1033.4L1023.4 1033.3L1024.7 1033.3L1026 1033.3L1027.3 1033.2L1028.6 1033.1L1030 1033.1L1031.3 1033.2L1032.6 1033.3L1033.9 1033.3L1035.2 1033.3L1036.6 1033.4L1037.9 1033.3L1039.2 1033.1L1040.5 1033.1L1041.8 1033.2L1043.2 1033.3L1044.5 1033.3L1045.8 1033.3L1047.1 1033.3L1048.4 1033.3L1049.8 1033.2L1051.1 1033.2L1052.4 1033.3L1053.7 1033.4L1055 1033.4L1056.4 1033.4L1057.7 1033.2L1059 1033.2L1060.3 1033.4L1061.6 1033.5L1063 1033.4L1064.3 1033.3L1065.6 1033.3L1066.9 1033.3L1068.2 1033.4L1069.6 1033.4L1070.9 1033.4L1072.2 1033.4L1073.5 1033.3L1074.8 1033.3L1076.2 1033.3L1077.5 1033.4L1078.8 1033.4L1080.1 1033.3L1081.4 1033.1L1082.8 1033.1L1084.1 1033.3L1085.4 1033.4L1086.7 1033.3L1088 1033.2L1089.4 1033.2L1090.7 1033.2L1092 1033.3L1093.3 1033.3L1094.6 1033.3L1096 1033.3L1097.3 1033.3L1098.6 1033.2L1099.9 1033.1L1101.2 1033.1L1102.6 1033.2L1103.9 1033.3L1105.2 1033.4L1106.5 1033.4L1107.8 1033.4L1109.2 1033.3L1110.5 1033.1L1111.8 1033.2L1113.1 1033.4L1114.4 1033.5L1115.8 1033.4L1117.1 1033.3L1118.4 1033.3L1119.7 1033.3L1121 1033.4L1122.4 1033.3L1123.7 1033.3L1125 1033.3L1126.3 1033.3L1127.6 1033.4L1129 1033.3L1130.3 1033.3L1131.6 1033.3L1132.9 1033.3L1134.2 1033.3L1135.6 1033.3L1136.9 1033.3L1138.2 1033.3L1139.5 1033.2L1140.8 1033.2L1142.2 1033.3L1143.5 1033.3L1144.8 1033.2L1146.1 1033.2L1147.4 1033.3L1148.8 1033.3L1150.1 1033.3L1151.4 1033.3L1152.7 1033.3L1154 1033.3L1155.4 1033.4L1156.7 1033.4L1158 1033.3L1159.3 1033.3L1160.6 1033.4L1162 1033.4L1163.3 1033.4L1164.6 1033.3L1165.9 1033.3L1167.2 1033.3L1168.6 1033.3L1169.9 1033.3L1171.2 1033.1L1172.5 1033.1L1173.8 1033.1L1175 1033.1"/>
<path class="s200v" stroke="#d600c2" stroke-width="9.5" stroke-linecap="round" d="M203 1033.4L204.3 1033.3L205.6 1033.2L207 1033.2L208.3 1033.1L209.6 1033.2L210.9 1033.3L212.2 1033.3L213.6 1033.2L214.9 1033.2L216.2 1033.3L217.5 1033.3L218.8 1033.3L220.2 1033.3L221.5 1033.3L222.8 1033.3L224.1 1033.4L225.4 1033.3L226.8 1033.1L228.1 1033.2L229.4 1033.2L230.7 1033.3L232 1033.4L233.4 1033.3L234.7 1033.1L236 1033.2L237.3 1033.3L238.6 1033.3L240 1033.4L241.3 1033.4L242.6 1033.4L243.9 1033.3L245.2 1033.3L246.6 1033.3L247.9 1033.2L249.2 1033.3L250.5 1033.3L251.8 1033.3L253.2 1033.2L254.5 1033.2L255.8 1033.3L257.1 1033.2L258.4 1033L259.8 1033.1L260.8 1033.1L261.1 1011.4L261.4 985.1L262.4 984.9L263.7 984.9L265 984.9L266.4 985L267.7 984.8L269 984.4L269.4 984.4L270.3 984.4L271.6 984.4L273 983.9L274.3 983.5L275.6 983.7L276.9 983.8L278.2 983.2L279.6 982.6L280.9 982.4L282.2 982.2L283.5 981.4L284.8 980.6L286.2 980.8L287.5 981.1L288.8 980.4L290.1 979.7L291.4 979.4L292.8 979L294.1 978.4L295.4 977.8L295.8 977.7L296.7 977.5L298 977.2L299.4 976.5L300.7 975.8L302 975.6L303.3 975.3L304.6 974.6L306 973.8L307.3 972.9L308.6 972.1L309.9 971.2L311.2 970.3L312.6 969.5L313.9 968.7L315.2 968L316.5 967.4L317.8 967.1L319.2 966.8L320.5 965.7L321.8 964.6L322.3 964.2L323.1 963.6L324.4 962.7L325.8 962.5L327.1 962.3L328.4 961.2L329.7 960.2L331 959.5L332.4 958.8L333.7 958.5L335 958.1L336.3 957.3L337.6 956.6L339 956.2L340.3 955.7L341.6 954.9L342.9 954.1L344.2 953.4L345.6 952.6L346.9 952.3L348.2 952L349.5 951.1L350.8 950.1L352.2 949.5L353.5 948.9L354 948.8L354.8 948.6L356.1 948.3L357.4 947.2L358.8 946.2L360.1 945.7L361.4 945.2L362.7 944.1L364 943L365.4 942.6L366.7 942.2L368 941.4L369.3 940.6L370.6 940.2L372 939.7L373.3 938.3L374.6 936.9L375.9 936.5L377.2 935.9L378.6 934.3L379.9 932.6L381.2 932L382.5 931.4L383.8 930.3L385.2 929.2L386.5 928.5L387.3 928.1L387.8 927.8L389.1 926L390.4 924.2L391.8 923L393.1 921.8L394.4 920.3L395.7 918.7L397 916L398.4 913.3L399.7 911.3L401 909.3L402.3 908.4L403 907.9L403.6 907.5L405 905L406.3 902.5L407.6 900.7L408.9 899L410.2 896.9L411.6 894.8L412.9 893L414.2 891.1L415.5 889.2L416.8 887.2L418.2 884.6L419 882.9L419.5 881.9L420.8 879.9L422.1 877.7L423.4 874.8L424.8 871.9L426.1 870.6L427.4 869.2L428.7 866.1L430 863L431.4 859.4L432.7 855.8L434 852.7L435 850.4L435.3 849.7L436.6 848.1L438 846.5L439.3 843.9L440.6 841.3L441.9 838.4L443.2 835.4L444.6 833L445.9 830.6L447.2 828.1L448.5 825.5L449.8 822.6L450.8 820.4L451.2 819.6L452.5 817L453.8 814.3L455.1 811L456.4 807.6L457.8 803.2L459.1 798.9L460.4 795.9L461.7 793L462.5 791.5L463 790.4L464.4 787.8L465.7 783.4L467 779.1L468.3 776.6L469.6 774L471 770.8L472.3 767.4L473.6 764L474.9 760.4L475.7 757.9L476.2 756.2L477.6 751.9L478.9 749.2L480.2 746.5L481.5 741L482.8 735.5L484.2 731.5L485.5 727.5L486.3 724.5L486.8 722.7L488.1 717.8L489.4 712.9L490.8 707.8L492.1 703.5L493.4 699.1L494.7 693.6L496 688.2L496.9 685.1L497.4 683.4L498.7 678.9L500 673.8L501.3 668.8L502.6 665.3L504 661.7L505.3 654.8L506.6 647.6L507.5 645L507.9 643.7L509.2 639.5L510.6 631.1L511.9 622.5L513.2 615.6L514.5 608.5L515.4 604.4L515.8 602.3L517.2 595.3L518.5 586.4L519.8 577.3L521.1 569.2L522.4 561.4L523.8 550.8L525.1 541.1L526 538.3L526.4 537.2L527.7 534.4L529 529.1L530.4 524.3L531.7 521.5L533 518.7L534.3 515.6L535.6 512L537 507.7L537 507.5L538.3 502.1L539.6 494.6L540.9 487L542.2 481.7L542.3 481.5L543.6 478L544.9 472.1L546.2 466.5L547.5 464.4L548.8 461.5L550.2 455.4L550.3 454.7L551.5 445.8L552.8 431.8L554.1 416.3L555.4 402.3L555.6 400.9L556.8 390.9L558.1 381L559.4 372L560.7 362.6L560.8 362L562 354.4L563.4 348.7L564.7 343.6L566 337.3L567.3 330.8L568.6 322L568.8 320.9L570 312.3L571.3 305L572.6 297.3L573.9 288.3L575.2 279.1L576.6 268.9L576.7 267.9L577.9 258L579.2 247.7L580.5 238.2L581.8 229.7L582 228.9L583.2 223.4L584.5 218L585.8 213L587.1 206.9L588.4 205.2L589.8 205.8L591.1 205.1L591.3 205.2L592.4 205.2L593.7 204.9L595 203.8L596.4 204.4L597.7 206.5L598 207L599 209L600.3 210.9L601.6 213.6L603 217.1L604.3 221L605.6 227.6L605.8 228.6L606.9 234.3L608.2 239.6L609.6 245.4L610.9 251.3L612.2 257.9L613.5 265.9L613.8 267.8L614.8 275.7L616.2 288L617.5 302.2L618.8 318.9L619 321.4L620.1 336.4L621.4 353.8L622.8 371.3L623 374.4L624.1 388.3L625.4 405.3L626.7 424.4L627 428.5L628 443.5L629.4 460L630.7 476.5L631 480.7L632 493.4L633.3 510.1L634.6 527.8L635 532.9L636 547.9L637.3 570.6L638.6 592.8L639.9 610.4L640 611.3L641.2 622.6L642.6 633.7L642.9 636.8L643.9 646.2L645.2 658.9L646.5 672.2L647.8 688.7L648 690.7L649.2 706.4L650.5 724.2L651.8 742.5L653.1 759.3L653.4 762.8L654.4 775.7L655.8 793.2L657.1 810.6L658.4 827.4L659.7 842.9L661 856.6L661.4 859.8L662.4 868L663.7 877.4L665 885.8L666.3 894.3L667.6 902.2L669 909.7L669.3 911.6L670.3 916.8L671.6 924.1L672.9 931.1L674.2 936.9L675.6 942.4L676.9 947.9L678.2 953L679.5 957.7L679.9 959L680.8 962L682.2 965.8L683.5 969.4L684.8 972.9L686.1 976.2L687.4 979.3L688.8 982.2L690.1 985.1L690.5 985.9L691.4 987.8L692.7 990.2L694 992.5L695.4 994.4L696.7 996.3L698 998.7L699.3 1000.9L700.6 1002.9L702 1004.8L703.3 1006.5L704.6 1008L705.9 1009.4L706.3 1009.7L707.2 1010.6L708.6 1011.8L709.9 1013L711.2 1014.1L712.5 1015.1L713.8 1016.5L715.2 1017.8L716.5 1018.4L717.8 1019L719.1 1019.8L720.4 1020.5L721.8 1021.4L723.1 1022.3L724.4 1022.8L724.9 1023L725.7 1023.2L727 1023.7L728.4 1024.2L729.7 1024.5L731 1024.7L732.3 1025.1L733.6 1025.5L735 1025.9L736.3 1026.4L737.6 1026.7L738.9 1027L740.2 1027.2L741.6 1027.4L742.9 1027.8L744.2 1028.1L745.5 1028.4L746.8 1028.7L748.2 1028.9L749.5 1029.1L750.8 1029.3L751.3 1029.4L752.1 1029.6L753.4 1029.8L754.8 1029.9L756.1 1030.1L757.4 1030.2L758.7 1030.5L760 1030.7L761.4 1030.9L762.7 1031L764 1031.1L765.3 1031.3L766.6 1031.3L768 1031.4L769.3 1031.8L770.6 1032.2L771.9 1032.2L773.2 1032.2L774.6 1032.4L775.9 1032.5L777.2 1032.7L778.5 1032.9L779.8 1033L781.2 1033.1L782.5 1033.1L783.8 1033L785.1 1033.2L786.4 1033.3L787.8 1033.2L789.1 1033.1L790 1033.3L790.4 1033.3L791.7 1033.6L793 1033.5L794.4 1033.5L795.7 1033.5L797 1033.4L798.3 1033.4L799.6 1033.4L801 1033.3L802.3 1033.2L803.6 1033.3L804.9 1033.5L806.2 1033.4L807.6 1033.3L808.9 1033.3L810.2 1033.4L811.5 1033.3L812.8 1033.2L814.2 1033.2L815.5 1033.2L816.8 1033.3L818.1 1033.4L819.4 1033.3L820.8 1033.3L822.1 1033.2L823.4 1033.1L824.7 1033.2L826 1033.4L827.4 1033.3L828.7 1033.2L830 1033.3L831.3 1033.3L832.6 1033.3L834 1033.3L835.3 1033.3L836.6 1033.3L837.9 1033.4L839.2 1033.4L840.6 1033.4L841.9 1033.3L843.2 1033.3L844.5 1033.3L845.8 1033.3L847.2 1033.3L848.5 1033.3L849.8 1033.3L851.1 1033.4L852.4 1033.4L853.8 1033.3L855.1 1033.3L856.4 1033.3L857.7 1033.4L859 1033.2L860.4 1033.1L861.7 1033.3L863 1033.4L864.3 1033.4L865.6 1033.4L867 1033.3L868.3 1033.3L869.6 1033.4L870.9 1033.5L872.2 1033.2L873.6 1033L874.9 1033.1L876.2 1033.2L877.5 1033.3L878.8 1033.5L880.2 1033.3L881.5 1033.2L882.8 1033.2L884.1 1033.2L885.4 1033.3L886.8 1033.4L888.1 1033.3L889.4 1033.2L890.7 1033.2L892 1033.2L893.4 1033.2L894.7 1033.3L896 1033.3L897.3 1033.3L898.6 1033.2L900 1033.1L901.3 1033.1L902.6 1033.1L903.9 1033.2L905.2 1033.2L906.6 1033.3L907.9 1033.4L909.2 1033.4L910.5 1033.3L911.8 1033.3L913.2 1033.4L914.5 1033.3L915.8 1033.2L917.1 1033.3L918.4 1033.3L919.8 1033.4L921.1 1033.4L922.4 1033.3L923.7 1033.2L925 1033.3L926.4 1033.4L927.7 1033.4L929 1033.3L930.3 1033.3L931.6 1033.4L933 1033.3L934.3 1033.2L935.6 1033.3L936.9 1033.4L938.2 1033.4L939.6 1033.4L940.9 1033.3L942.2 1033.1L943.5 1033.3L944.8 1033.4L946.2 1033.3L947.5 1033.3L948.8 1033.4L950.1 1033.5L951.4 1033.5L952.8 1033.4L954.1 1033.4L955.4 1033.3L956.7 1033.3L958 1033.3L959.4 1033.2L960.7 1033.2L962 1033.3L963.3 1033.4L964.6 1033.4L966 1033.4L967.3 1033.3L968.6 1033.2L969.9 1033.3L971.2 1033.4L972.6 1033.4L973.9 1033.3L975.2 1033.3L976.5 1033.3L977.8 1033.3L979.2 1033.3L980.5 1033.3L981.8 1033.3L983.1 1033.3L984.4 1033.4L985.8 1033.4L987.1 1033.4L988.4 1033.5L989.7 1033.5L991 1033.5L992.4 1033.5L993.7 1033.3L995 1033.1L996.3 1033.2L997.6 1033.2L999 1033.2L1000.3 1033.3L1001.6 1033.3L1002.9 1033.3L1004.2 1033.4L1005.6 1033.4L1006.9 1033.3L1008.2 1033.3L1009.5 1033.4L1010.8 1033.5L1012.2 1033.3L1013.5 1033.2L1014.8 1033.3L1016.1 1033.4L1017.4 1033.4L1018.8 1033.3L1020.1 1033.4L1021.4 1033.4L1022.7 1033.3L1024 1033.3L1025.4 1033.3L1026.7 1033.3L1028 1033.3L1029.3 1033.2L1030.6 1033.2L1032 1033.2L1033.3 1033.3L1034.6 1033.4L1035.9 1033.4L1037.2 1033.4L1038.6 1033.5L1039.9 1033.6L1041.2 1033.4L1042.5 1033.2L1043.8 1033.3L1045.2 1033.3L1046.5 1033.4L1047.8 1033.5L1049.1 1033.4L1050.4 1033.4L1051.8 1033.4L1053.1 1033.4L1054.4 1033.3L1055.7 1033.2L1057 1033.3L1058.4 1033.4L1059.7 1033.4L1061 1033.4L1062.3 1033.3L1063.6 1033.3L1065 1033.3L1066.3 1033.2L1067.6 1033.3L1068.9 1033.3L1070.2 1033.3L1071.6 1033.3L1072.9 1033.2L1074.2 1033.2L1075.5 1033.3L1076.8 1033.4L1078.2 1033.3L1079.5 1033.3L1080.8 1033.3L1082.1 1033.2L1083.4 1033.3L1084.8 1033.4L1086.1 1033.4L1087.4 1033.4L1088.7 1033.3L1090 1033.2L1091.4 1033.3L1092.7 1033.3L1094 1033.2L1095.3 1033.1L1096.6 1033.2L1098 1033.3L1099.3 1033.3L1100.6 1033.2L1101.9 1033.3L1103.2 1033.3L1104.6 1033.3L1105.9 1033.2L1107.2 1033.2L1108.5 1033.1L1109.8 1033.2L1111.2 1033.3L1112.5 1033.3L1113.8 1033.3L1115.1 1033.4L1116.4 1033.5L1117.8 1033.4L1119.1 1033.2L1120.4 1033.3L1121.7 1033.4L1123 1033.4L1124.4 1033.5L1125.7 1033.4L1127 1033.3L1128.3 1033.3L1129.6 1033.3L1131 1033.2L1132.3 1033.1L1133.6 1033.2L1134.9 1033.4L1136.2 1033.3L1137.6 1033.2L1138.9 1033.3L1140.2 1033.3L1141.5 1033.4L1142.8 1033.4L1144.2 1033.3L1145.5 1033.3L1146.8 1033.4L1148.1 1033.4L1149.4 1033.4L1150.8 1033.3L1152.1 1033.3L1153.4 1033.2L1154.7 1033.3L1156 1033.4L1157.4 1033.3L1158.7 1033.2L1160 1033.4L1161.3 1033.6L1162.6 1033.4L1164 1033.3L1165.3 1033.3L1166.6 1033.4L1167.9 1033.3L1169.2 1033.2L1170.6 1033.3L1171.9 1033.4L1173.2 1033.3L1174.5 1033.2L1175 1033.2"/>
<path class="s250v" stroke="#c5672a" stroke-width="9.5" stroke-linecap="round" d="M274.7 991.6L276 991.4L277.3 991.1L278.7 990.7L280 990.5L281.3 990.7L282.6 990.8L283.9 990.7L285.3 990.3L286.6 989.1L287.9 988.4L289.2 988.6L290.5 988.6L291.9 988L293.2 987.6L294.5 987.6L295.8 987.6L297.1 987.5L298.5 987.3L299.8 987L301.1 986.6L302.4 985.9L303.7 985.3L303.7 985.3L305.1 985L306.4 984.7L307.7 984.4L309 984.3L310.3 984.4L311.7 984.4L313 984L314.3 983.3L315.6 982.1L316.9 981.4L318.3 981.7L319.6 981.7L320.9 981.2L322.2 980.7L323.5 980.3L324.9 979.8L326.2 978.8L327.5 978L328.8 977.7L330.1 977.4L331.5 976.8L332.8 976.1L334.1 975L335.4 974L336.7 973.3L338.1 972.7L339.4 972.1L340 971.9L340.7 971.4L342 970.5L343.3 969.6L344.7 969.1L346 968.7L347.3 968.6L348.6 968.3L349.9 967.6L351.3 966.4L352.6 964.6L353.9 963.1L355.2 962.6L356.5 962.1L357.9 961.4L359.2 960.7L360.5 960.1L361.8 959.4L363.1 958.6L364.5 957.7L365.8 956.5L367.1 955.3L368.4 953.8L369.7 952.6L371.1 951.9L372.4 951.3L373.7 950.9L375 950.1L376.3 948.5L377.7 946.9L379 945.2L380 944L380.3 944L381.6 943.7L382.9 943.1L384.3 941.7L385.6 940.4L386.9 939.5L388.2 938.2L389.5 936.3L390.9 934.5L392.2 933.1L393.5 931.6L394.8 929.8L396.1 927.9L397.5 926L398.8 924.3L400.1 922.9L401.4 921.6L402.7 920.4L404.1 918.9L405.4 916.9L406.7 915.3L408 914.6L409.3 913.8L410.7 912.8L412 911.5L413.3 909.5L414 908.4L414.6 908L415.9 907.5L417.3 906.8L418.6 905.5L419.9 904.4L421.2 903.6L422.5 903.1L423.9 903.1L425.2 902.4L426.5 900L427 899.1L427.8 897.9L429.1 896.2L430.5 894.7L431.8 893.9L433.1 892.7L434.4 891L435.7 889.3L437.1 887.5L438.4 885.3L439.7 882.1L441 880L442.3 880.1L442.9 880.1L443.7 879.2L445 876.1L446.3 873.6L447.6 872.3L448.9 870.3L450.3 866.9L451.6 864L452.9 862.2L454.2 860.2L455.5 857.9L456.9 855.8L458.2 853.9L458.7 853.2L459.5 851.5L460.8 847.8L462.1 844.5L463.5 842.3L464.8 839.8L466.1 836.6L467.4 833.7L468.7 831.6L470.1 829.1L471.4 825.5L472.7 822.3L474 820L474.6 819.1L475.3 818.1L476.7 816.9L478 815.2L479.3 812.3L480.6 809.9L481.9 808.3L483.3 806.5L484.6 804.2L485.9 801.7L487.2 799.2L488.5 796.4L489 795.4L489.9 793.4L491.2 790.8L492.5 789.1L493.8 786.3L495.1 781.1L496.5 777.4L497.8 777.3L499.1 775.2L500 771L500.4 769L501.7 764.6L503.1 763.7L504.4 762.1L505.7 758.7L507 755.2L508.3 751.5L509.7 747.1L510.6 743.2L511 741.3L512.3 731.6L513.6 719.6L514.9 707.8L515.9 701.4L516.3 699.3L517.6 690.4L518.9 679.5L520.2 670.2L521.5 663.8L522 662.2L522.9 660L524.2 657.2L525.5 654.7L526.8 652.3L528.1 650.7L529.5 650.2L530.8 649.2L532.1 646.6L533.4 644.4L534.7 643.1L536.1 641.7L537.4 640.3L538.7 638.1L539.7 635.3L540 634.4L541.3 630.8L542.7 627.7L544 624.8L545.3 622.1L546.6 619L547.9 614.9L549.3 610.7L550.6 606.4L551.9 601.8L553 598L553.2 597.2L554.5 592.8L555.9 589.6L557.2 584.2L558.5 574.8L559.8 566L561.1 559.2L562.5 551.8L563.5 545.1L563.8 543.3L565.1 534.1L566.4 524.7L567.7 514.6L569.1 504L570.4 494.1L571.4 487.4L571.7 485.5L573 477.9L574.3 471.6L575.7 464.4L577 455.1L578.3 447L579.4 442.1L579.6 441.2L580.9 434.6L582.3 426.2L583.6 419.2L584.9 415.1L586.2 410.3L587.3 404.9L587.5 403.7L588.9 397.2L590.2 390.4L591.5 383.4L592.6 377.2L592.8 375.9L594.1 366L595.5 354L596.8 342.7L597.9 335.3L598.1 334.1L599.4 326.9L600.7 320.1L602.1 313.6L603.4 306.7L604.7 299.9L605.8 294.2L606 293L607.3 286.4L608.7 280.6L610 273.9L611.3 265.4L612.6 258.4L613.8 254.9L613.9 254.5L615.3 250.3L616.6 244.9L617.9 239.4L619.2 233.8L620.5 228.1L621.7 222.6L621.9 221.8L623.2 216.5L624.5 213.5L625.8 210.2L627.1 206.5L628.5 204.1L629.6 203.7L629.8 203.8L631.1 203.9L632.4 203.8L633.7 203.7L635.1 204.4L636.4 206.6L637.7 210.2L639 213.7L640 216.1L640.3 217L641.7 220.9L643 224.1L644.3 230.8L645.6 242.8L646.9 253.8L648 260.3L648.3 261.9L649.6 269.3L650.9 276L652.2 283.7L653.4 292.3L653.5 293.3L654.9 303L656.2 313L657.5 323.4L658.7 333.7L658.8 334.8L660.1 346.2L661.5 357L662.7 369.7L662.8 370.7L664.1 389.9L665.4 410.2L666.7 428.3L666.7 428.8L668.1 446.1L669.4 463L670.6 479.9L670.7 481.5L672 504.3L672.3 507.9L673.3 516.7L674.7 523.3L676 531.7L676 531.9L677.3 545.6L678.6 563.4L679.9 584L681.3 604.8L682.5 623.2L682.6 624.3L683.9 643.9L685.2 664.6L686.5 684.8L687.8 702.6L687.9 703.4L689.2 719.3L690.5 732.2L691.8 745.2L693 758.1L693.1 759.5L694.5 772.5L695.8 783.3L697.1 793.9L698.4 804.3L699.7 813.9L701 821.8L701.1 822.2L702.4 830.8L703.7 840.6L705 850.1L706.3 859.4L707.7 868.2L709 876.5L709 876.6L710.3 885.5L711.6 895.2L712.9 904L714.3 910.7L714.3 910.8L715.6 916.7L716.9 923.6L718.2 929.3L719.5 933.3L720.9 937.3L722.2 941.3L723.5 945.7L724.8 951.2L724.9 951.5L726.1 956L727.5 959.4L728.8 963L730.1 966.8L731.4 970.4L732.7 973.7L734.1 976.9L735.4 980L736.7 982.9L738 985.5L738 985.5L739.3 988.2L740.7 991.4L742 994.1L743.3 996.1L744.6 997.9L745.9 999.5L747.3 1001.1L748.6 1003L749.9 1004.8L751.2 1006.5L752.5 1008.2L753.9 1010L754 1010.2L755.2 1011.4L756.5 1012.3L757.8 1013.1L759.1 1013.8L760.5 1014.7L761.8 1016.2L763.1 1017.3L764.4 1018.1L765.7 1018.7L767.1 1019.2L768.4 1019.9L769.7 1021L771 1021.9L772.3 1022.2L773.7 1022.6L775 1023.1L776.3 1023.6L777.6 1024L777.8 1024.1L778.9 1024.4L780.3 1024.8L781.6 1025.1L782.9 1025.2L784.2 1025.5L785.5 1025.9L786.9 1026.3L788.2 1026.5L789.5 1026.7L790.8 1027.1L792.1 1027.5L793.5 1027.8L794.8 1028L796.1 1028.1L797.4 1028.2L798.7 1028.3L800.1 1028.5L801.4 1028.6L802.7 1028.8L804 1029.1L805.3 1029.3L806.7 1029.4L808 1029.5L809.3 1029.5L810.6 1029.6L811.9 1029.8L813.3 1030.1L814.6 1030.5L815.9 1030.7L817.2 1030.9L817.5 1030.9L818.5 1031L819.9 1031.1L821.2 1031.3L822.5 1031.5L823.8 1031.6L825.1 1031.6L826.5 1031.7L827.8 1032L829.1 1032.2L830.4 1032.3L831.7 1032.3L833.1 1032.5L834.4 1032.6L835.7 1032.5L837 1032.5L838.3 1032.6L839.7 1032.8L841 1033L842.3 1033.1L843.6 1033L844.9 1033L846.3 1033.2L847.6 1033.3L848.9 1033.3L850 1033.3L850.2 1033.3L851.5 1033.4L852.9 1033.4L854.2 1033.4L855.5 1033.4L856.8 1033.5L858.1 1033.5L859.5 1033.4L860.8 1033.3L862.1 1033.3L863.4 1033.3L864.7 1033.1L866.1 1033.1L867.4 1033.3L868.7 1033.5L870 1033.4L871.3 1033.3L872.7 1033.3L874 1033.2L875.3 1033.2L876.6 1033.3L877.9 1033.6L879.3 1033.7L880.6 1033.5L881.9 1033.4L883.2 1033.5L884.5 1033.5L885.9 1033.4L887.2 1033.4L888.5 1033.3L889.8 1033.3L891.1 1033.5L892.5 1033.5L893.8 1033.3L895.1 1033.2L896.4 1033.1L897.7 1033.1L899.1 1033.2L900.4 1033.2L901.7 1033.3L903 1033.4L904.3 1033.4L905.7 1033.4L907 1033.1L908.3 1032.9L909.6 1033.1L910.9 1033.3L912.3 1033.4L913.6 1033.4L914.9 1033.5L916.2 1033.6L917.5 1033.6L918.9 1033.5L920.2 1033.4L921.5 1033.3L922.8 1033.2L924.1 1033.2L925.5 1033.3L926.8 1033.4L928.1 1033.3L929.4 1033.2L930.7 1033.3L932.1 1033.3L933.4 1033.3L934.7 1033.3L936 1033.3L937.3 1033.3L938.7 1033.1L940 1033L941.3 1033L942.6 1033L943.9 1033L945.3 1033L946.6 1033L947.9 1033L949.2 1033.3L950.5 1033.5L951.9 1033.3L953.2 1033.2L954.5 1033.4L955.8 1033.5L957.1 1033.4L958.5 1033.3L959.8 1033.4L961.1 1033.4L962.4 1033.3L963.7 1033.2L965.1 1033.2L966.4 1033.3L967.7 1033.4L969 1033.4L970.3 1033.2L971.7 1033.2L973 1033.3L974.3 1033.4L975.6 1033.2L976.9 1033.2L978.3 1033.3L979.6 1033.4L980.9 1033.2L982.2 1033.1L983.5 1033.3L984.9 1033.4L986.2 1033.6L987.5 1033.6L988.8 1033.5L990.1 1033.4L991.5 1033.4L992.8 1033.4L994.1 1033.2L995.4 1033.1L996.7 1033.2L998.1 1033.3L999.4 1033.2L1000.7 1033.2L1002 1033.3L1003.3 1033.4L1004.7 1033.4L1006 1033.4L1007.3 1033.4L1008.6 1033.4L1009.9 1033.4L1011.3 1033.5L1012.6 1033.5L1013.9 1033.4L1015.2 1033.2L1016.5 1033.1L1017.9 1033.2L1019.2 1033.3L1020.5 1033.3L1021.8 1033.4L1023.1 1033.5L1024.5 1033.5L1025.8 1033.5L1027.1 1033.4L1028.4 1033.3L1029.7 1033.2L1031.1 1033.3L1032.4 1033.3L1033.7 1033.3L1035 1033.3L1036.3 1033.2L1037.7 1033.2L1039 1033.1L1040.3 1033.1L1041.6 1033.4L1042.9 1033.5L1044.3 1033.3L1045.6 1033.2L1046.9 1033.3L1048.2 1033.4L1049.5 1033.4L1050.9 1033.4L1052.2 1033.4L1053.5 1033.4L1054.8 1033.4L1056.1 1033.4L1057.5 1033.3L1058.8 1033.3L1060.1 1033.1L1061.4 1033.1L1062.7 1033.2L1064.1 1033.3L1065.4 1033.4L1066.7 1033.4L1068 1033.3L1069.3 1033.2L1070.7 1033.1L1072 1033.1L1073.3 1033.1L1074.6 1033.1L1075.9 1033.2L1077.3 1033.2L1078.6 1033.3L1079.9 1033.4L1081.2 1033.5L1082.5 1033.6L1083.9 1033.5L1085.2 1033.5L1086.5 1033.6L1087.8 1033.7L1089.1 1033.6L1090.5 1033.5L1091.8 1033.3L1093.1 1033.3L1094.4 1033.5L1095.7 1033.6L1097.1 1033.6L1098.4 1033.7L1099.7 1033.6L1101 1033.5L1102.3 1033.4L1103.7 1033.3L1105 1033L1106.3 1032.9L1107.6 1033.1L1108.9 1033.3L1110.3 1033.3L1111.6 1033.3L1112.9 1033.3L1114.2 1033.3L1115.5 1033.4L1116.9 1033.5L1118.2 1033.5L1119.5 1033.5L1120.8 1033.4L1122.1 1033.4L1123.5 1033.3L1124.8 1033.3L1126.1 1033.3L1127.4 1033.2L1128.7 1033.2L1130.1 1033.2L1131.4 1033.4L1132.7 1033.4L1134 1033.3L1135.3 1033.2L1136.7 1033.2L1138 1033.3L1139.3 1033.4L1140.6 1033.4L1141.9 1033.4L1143.3 1033.4L1144.6 1033.4L1145.9 1033.3L1147.2 1033.2L1148.5 1033.2L1149.9 1033.2L1151.2 1033.3L1152.5 1033.4L1153.8 1033.4L1155.1 1033.2L1156.5 1033.1L1157.8 1033.3L1159.1 1033.4L1160.4 1033.4L1161.7 1033.3L1163.1 1033.2L1164.4 1033.1L1165.7 1033.1L1167 1033.2L1168.3 1033.2L1169.7 1033.3L1171 1033.3L1172.3 1033.3L1173.6 1033.6L1174.9 1033.6L1175 1033.6"/>
<path class="s300v" stroke="#8c8c8c" stroke-width="9.8" stroke-linecap="round" d="M308 975.3L309.3 975.2L310.6 975.7L312 975.7L313.3 975.3L314.6 975.1L315.9 975L317.2 974.7L318.6 974.3L319.9 973.4L321.2 972.2L322.5 971.9L323.8 972.3L325.2 972.4L326.5 972.1L327.8 971.6L329.1 970.9L330.4 970.5L331.8 970.3L333.1 970.6L334.4 971.4L335.7 970.3L337 967.7L338.4 967.1L339.7 968.2L341 968.8L342.3 968.9L343.6 968.5L345 967.9L346 967.1L346.3 966.8L347.6 965.4L348.9 964.5L350.2 964L351.6 963.8L352.9 963.7L354.2 963.1L355.5 961.9L356.8 961.3L358.2 961.2L359.5 960.9L360.8 960.4L362.1 959.9L363.4 959.3L364.8 958.9L366.1 958.6L367.4 957.4L368.7 955.5L370 954.3L371.4 953.8L372.7 953.1L374 952.2L375.3 950.9L376.6 949.4L378 948.7L379.3 948.7L380.6 948.4L381.9 947.7L383.2 946.9L384.6 946L385.9 944.4L387.2 942.3L388.5 941.4L389.8 941.4L391.2 940.7L392.5 939.4L393.8 938.3L395.1 937.6L396.4 937.4L397.8 937.7L399.1 937L400 935.8L400.4 935.4L401.7 934.2L403 933.4L404.4 933.1L405.7 933.1L407 932L408.3 929.9L409.6 929.1L411 929.4L412.3 927.4L413.6 923.3L414.9 921.6L416.2 921.7L417.6 920.8L418.9 919L420.2 918.5L421.5 919L422.8 918.6L424.2 917.6L425.5 915.8L426.8 913.5L428.1 912.6L429.4 912.9L430.8 911L432.1 907.3L433.4 905.3L434.7 904.8L436 903.8L437.4 902.4L438.7 900.5L440 898.2L441.3 896.5L442.6 895.3L444 893.4L445.3 890.7L446.6 889.4L447.9 889.4L449.2 888.2L450.6 886.2L451.9 883.8L453.2 881.2L454.5 879.1L455.8 877.5L457.2 876.2L458.5 875.1L459.8 873.6L461.1 871.7L462.4 869.2L463.8 866.3L465.1 863.5L466 861.7L466.4 860.8L467.7 858.5L469 856.5L470.4 853.2L471.7 848.9L473 845.7L474.3 843.4L475.6 842.1L477 841.6L478.3 839.1L479.6 834.7L480.9 831.2L481 831L482.2 828.3L483.6 827.3L484.9 827.8L486.2 826.9L487.5 824.7L488.8 823L490 821.8L490.2 821.6L491.5 820L492.8 818.2L494.1 815.7L495.4 812.5L496.8 809.8L498.1 807.4L499.4 805.8L500.7 804.8L502 802.3L502 802.1L503.4 795.5L504.7 787.7L505.3 784.9L506 782.4L507.3 776.9L508.6 770.8L510 765.2L511.3 760L512.6 755.4L513.9 751.3L515.2 746.8L515.9 744.3L516.6 741.8L517.9 737.1L519.2 732.6L520.5 728.6L521.8 725L523.2 720.6L524.5 715.7L525.8 712.2L526.5 711L527.1 710L528.4 707.7L529.8 705.4L531.1 704L532.4 703.3L533.7 700.2L535 694.9L536.4 691.6L537.7 690L539 687.1L539.7 685.1L540.3 683.2L541.6 680L543 677.5L544.3 674.9L545.6 672.2L546.9 668.3L548.2 663.3L549.6 659.1L550.9 655.6L552.2 653.4L553 652.8L553.5 652.4L554.8 648L556.2 640.7L557.5 634.7L558.8 629.8L560.1 625.3L561.4 621.1L562.8 619.1L564.1 618.8L565.4 615.9L566 613.6L566.7 610.7L568 605.1L569.4 599.1L570.7 594L572 589.6L573.3 586.1L574.6 583.3L576 579.2L576.7 576.5L577.3 574.2L578.6 568.1L579.9 561.2L581.2 554.8L582.6 549L583.9 540.6L584.7 534.1L585.2 530.2L586.5 523.6L587.8 520.2L589.2 515.9L590.5 510.7L591.8 504.2L593.1 496.5L594.4 489L595 485.8L595.8 480.8L597.1 469.8L598.4 458L599.7 447.8L600.5 443.6L601 441.4L602.4 436.6L603.7 432.4L605 427.3L606.3 420.9L607.6 416.4L608.5 414.1L609 412.3L610.3 403.7L611.6 392.4L612.9 380.3L613.8 373.1L614.2 370.1L615.6 364.3L616.9 361.2L618.2 358.4L619.5 355.3L620.8 351.4L621.7 348.1L622.2 346.1L623.5 340L624.8 333.9L626.1 323.2L627 314L627.4 309.7L628.8 303L630.1 301.8L631.4 298.5L632.7 293.4L634 287.7L635 283.2L635.4 281.5L636.7 275.4L638 269.4L639.3 265.9L640.6 264.5L642 260.7L642.9 256.4L643.3 254.6L644.6 248.6L645.9 242.6L647.2 234.9L648.6 225.9L649.9 219.7L650.8 217.3L651.2 216.3L652.5 212.5L653.8 208.3L655.2 205.4L656.5 204.1L657.8 203.6L658.7 203.9L659.1 204.3L660.4 204.3L661.8 203.6L663.1 207.1L664.4 213.9L665.7 217.9L667 219.3L668.4 220.5L668.6 220.7L669.7 221.2L671 225L672.3 231.3L673.6 234.7L675 235.8L676.3 239.4L677.6 245.1L678.9 252.4L679.7 257.4L680.2 261.7L681.6 269.7L682.9 274.5L682.9 274.6L684.2 285.1L685.5 299.9L685.6 300.7L686.8 310.2L688.2 317.6L689.5 326.1L690.6 334.9L690.8 336.5L692.1 349.4L693.4 364.7L694.5 376.4L694.8 378.9L696.1 395.2L697.4 414.8L698.4 428.5L698.7 432.3L700 447.1L701.4 460.6L702.7 473.7L703.7 483.6L704 486.4L705.3 495.3L706.6 502.1L707 504.3L708 514.2L709.3 530.1L710.6 545.8L711.9 561.3L713.2 577.6L714.3 591.2L714.6 594.7L715.9 613.7L717.2 633.6L718.5 653.5L719.6 667.3L719.8 669.9L721.2 681.1L722.5 689.3L723.8 698.6L724.9 707.8L725.1 709.7L726.4 721.3L727.8 732.9L729.1 745L730.4 757.3L731.7 770.1L732.8 780.6L733 782.9L734.4 789.8L735.7 792.2L737 797.8L738.3 806.2L739.6 815.5L740.7 823.7L741 825.8L742.3 835.2L743.6 843.8L744.9 852L746 857.9L746.2 859.2L747.6 866.3L748.9 873.4L750.2 881.8L751.5 891.2L752.8 898.6L754.2 904.3L755.5 910.3L756.8 916.3L758.1 921.2L759.3 924.5L759.4 924.9L760.8 929.7L762.1 935.4L763.4 940.6L764.7 945.3L766 949.5L767.4 953.2L768.7 956.5L770 959.5L771.3 962.4L772.5 965L772.6 965.3L774 966.9L775.3 967.5L776.6 970.2L777.9 974.7L779.2 978.2L780.6 980.8L781.9 982.5L783.2 983.3L784.5 984.7L785.8 986.5L787.2 988.3L788.4 990.1L788.5 990.2L789.8 991.6L791.1 992.5L792.4 994.8L793.8 998.1L795.1 1000.1L796.4 1001L797.7 1002L799 1003L800.4 1004.5L801.7 1006.3L803 1007.8L804.3 1009.1L805.6 1010.1L806.9 1010.8L807 1010.8L808.3 1012.1L809.6 1014L810.9 1015L812.2 1015.4L813.6 1016.1L814.9 1016.9L816.2 1017.7L817.5 1018.6L818.8 1019.3L820.2 1020L821.5 1020.8L822.8 1021.8L824.1 1022.4L825.4 1022.7L826.8 1022.7L828.1 1022.4L829.4 1023L830.7 1024.4L832 1025.3L833.3 1025.6L833.4 1025.7L834.7 1026.2L836 1026.8L837.3 1026.5L838.6 1025.5L840 1025.7L841.3 1026.8L842.6 1027.3L843.9 1027.2L845.2 1027.5L846.6 1028.1L847.9 1028.4L849.2 1028.6L850.5 1029.2L851.8 1030.1L853.2 1030L854.5 1029L855.8 1028.9L857.1 1029.6L858.4 1030.1L859.8 1030.5L861.1 1030.2L862.4 1029.2L863.7 1029.3L865 1030.2L866.4 1030.6L867.7 1030.6L869 1030.7L870.3 1031L870.4 1031L871.6 1031.5L873 1032.3L874.3 1032.1L875.6 1031.2L876.9 1031.3L878.2 1032L879.6 1032.6L880.9 1032.9L882.2 1032.8L883.5 1032.4L884.8 1032.2L886.2 1032.3L887.5 1032.9L888.8 1033.8L890.1 1033.8L891.4 1032.8L892.8 1032.7L894.1 1033.1L895.4 1033.4L896.7 1033.8L898 1033.7L899.4 1033.3L900 1033.1L900.7 1033.7L902 1034L903.3 1034L904.6 1033.7L906 1033.1L907.3 1033.1L908.6 1033.1L909.9 1033.1L911.2 1033.4L912.6 1034L913.9 1034L915.2 1034L916.5 1034L917.8 1034L919.2 1034L920.5 1032.6L921.8 1031.5L923.1 1030.8L924.4 1031.3L925.8 1032.9L927.1 1033.7L928.4 1033.8L929.7 1033.5L931 1032.8L932.4 1032.7L933.7 1033.1L935 1033.3L936.3 1033.5L937.6 1033.6L939 1033.5L940.3 1033.3L941.6 1033L942.9 1033L944.2 1033.3L945.6 1033L946.9 1032.4L948.2 1032L949.5 1031.9L950.8 1032.3L952.2 1033L953.5 1033.3L954.8 1033.2L956.1 1033.4L957.4 1033.8L958.8 1033.4L960.1 1032.2L961.4 1032.1L962.7 1032.9L964 1033.5L965.4 1033.9L966.7 1033.5L968 1032.3L969.3 1031.7L970.6 1031.7L972 1031.4L973.3 1030.9L974.6 1031L975.9 1031.5L977.2 1031.8L978.6 1032.1L979.9 1032.1L981.2 1032L982.5 1032.7L983.8 1034L985.2 1033.9L986.5 1032.5L987.8 1032.1L989.1 1032.5L990.4 1032.7L991.8 1032.8L993.1 1032.8L994.4 1032.7L995.7 1032.5L997 1032.4L998.4 1032.6L999.7 1033.1L1001 1033.4L1002.3 1033.5L1003.6 1033.5L1005 1033.3L1006.3 1033.2L1007.6 1033.3L1008.9 1033.5L1010.2 1033.9L1011.6 1034L1012.9 1034L1014.2 1034L1015.5 1034L1016.8 1034L1018.2 1033.1L1019.5 1032.9L1020.8 1033.8L1022.1 1033.7L1023.4 1032.7L1024.8 1032.5L1026.1 1032.8L1027.4 1032.6L1028.7 1031.9L1030 1031.9L1031.4 1032.3L1032.7 1032.4L1034 1032.2L1035.3 1032.8L1036.6 1034L1038 1034L1039.3 1034L1040.6 1034L1041.9 1033.9L1043.2 1034L1044.6 1034L1045.9 1034L1047.2 1034L1048.5 1034L1049.8 1034L1051.2 1033.8L1052.5 1033.4L1053.8 1033.8L1055.1 1034L1056.4 1034L1057.8 1033.7L1059.1 1033.3L1060.4 1033.5L1061.7 1033.2L1063 1032.7L1064.4 1032.8L1065.7 1033.6L1067 1033.8L1068.3 1033.4L1069.6 1032.7L1071 1031.7L1072.3 1031.8L1073.6 1032.6L1074.9 1032.5L1076.2 1031.6L1077.6 1031.8L1078.9 1033L1080.2 1033.3L1081.5 1033L1082.8 1033.1L1084.2 1033.7L1085.5 1033.9L1086.8 1033.7L1088.1 1034L1089.4 1034L1090.8 1034L1092.1 1033.4L1093.4 1033.3L1094.7 1034L1096 1034L1097.4 1033.2L1098.7 1033.3L1100 1034L1101.3 1034L1102.6 1033.4L1104 1032.7L1105.3 1032.1L1106.6 1032.6L1107.9 1034L1109.2 1034L1110.6 1033.7L1111.9 1033.9L1113.2 1034L1114.5 1034L1115.8 1034L1117.2 1033.6L1118.5 1033.4L1119.8 1033.7L1121.1 1034L1122.4 1034L1123.8 1034L1125.1 1033.3L1126.4 1032.4L1127.7 1031.8L1129 1031.6L1130.4 1031.8L1131.7 1032.4L1133 1032.8L1134.3 1033L1135.6 1033.4L1137 1034L1138.3 1033.8L1139.6 1033.1L1140.9 1033.2L1142.2 1033.8L1143.6 1034L1144.9 1034L1146.2 1034L1147.5 1034L1148.8 1034L1150.2 1034L1151.5 1034L1152.8 1033.9L1154.1 1033.4L1155.4 1032.8L1156.8 1032.6L1158.1 1032.7L1159.4 1033L1160.7 1033.6L1162 1033.8L1163.4 1033.8L1164.7 1034L1166 1034L1167.3 1033.9L1168.6 1032.6L1170 1032.5L1171.3 1033.4L1172.6 1033.2L1173.9 1031.9L1175 1031.8"/>
<path class="s350v" stroke="#d4a000" stroke-width="10.5" stroke-linecap="round" d="M358.7 936.6L360 937.9L361.3 939.4L362.7 940.6L364 941.7L365.3 942L366.6 942.3L367.9 939.7L369.3 937L370.6 935.3L371.9 933.6L373.2 934.9L374.5 936.2L375 936.7L375.9 937.7L377.2 939.3L378.5 935.5L379.8 931.5L381.1 932.5L382.5 933.7L383.8 935.1L385.1 936.6L386.4 933.4L387.7 930L389.1 932.1L390.4 934.4L391.7 932.2L393 929.7L394.3 928.8L395 928.4L395.7 927.9L397 929.1L398.3 930.1L399.6 928.1L400.9 925.8L402.3 921.1L403.6 916.3L404.9 915.2L406.2 914.5L407.5 914.9L408 915.1L408.9 915.6L410.2 916.3L411.5 917L412.8 913L414.1 908.8L415.5 908.3L416.8 908L418.1 911L419.4 914.1L420.7 910.9L422.1 907.4L423.4 906.3L424.7 905.3L426 904.2L427.3 903.1L428 904.2L428.7 905.4L430 907.8L431.3 907L432.6 905.9L433.9 904.3L435.3 902.6L436.6 901.3L437.9 900L439.2 897.7L440.5 895.3L441.9 892L443 889.2L443.2 888.7L444.5 886L445.8 883.2L447.1 884.8L448.5 886.6L449.8 883.1L451.1 879.3L452.4 877.1L453.7 875L455.1 877.4L456.4 880.1L457.7 876.1L458.7 872.8L459 871.8L460.3 874.3L461.7 877.3L463 873.4L464.3 869.1L465.6 870L466.9 871.2L468.3 868.9L469.6 866.5L470.9 864.9L472.2 863.4L473.5 865.3L474.9 867.3L476.2 864.1L477.5 860.6L478.8 860.9L480.1 861.3L481 859L481.5 857.7L482.8 853.7L484.1 852.6L485.4 851.4L486.7 850.9L488.1 850.3L489.4 845.7L490.5 841.5L490.7 840.8L492 841.4L493.3 841.9L494.7 834.3L496 826.3L497.3 824.4L498.6 823.2L499.5 821.3L499.9 820.5L501.3 818L502.6 813L503.9 808L505.2 808.5L506.5 809.4L507.9 807.9L509.2 806.2L510.5 801.6L511.8 796.7L513.1 797.5L514.5 798.4L515.4 793.2L515.8 790.8L517.1 781.7L518.4 781L519.7 780.3L521.1 774.2L522.4 768.1L523.7 759.7L525 751.9L526.3 750.7L526.5 750.6L527.7 750.8L529 746.2L530.3 741.7L531.6 745L532.9 748.8L534.3 742.2L535.6 735.1L536.9 735.8L538.2 736.9L539.5 731.2L539.7 730.4L540.9 724.9L542.2 723.4L543.5 722L544.8 722.6L546.1 723.3L547.5 714.4L548.8 704.9L550.1 704.6L551.4 704.9L552.7 700L554.1 694.9L555 696.6L555.4 697.5L556.7 700.8L558 695.7L559.3 690L560.7 687.7L560.8 687.5L562 684.9L563.3 684.9L564.6 684.4L565.9 681L567.3 677.1L568.6 672.5L569.9 667.7L571.2 656.2L572.5 644.4L573.9 639.7L574 639.3L575.2 635.5L576.5 634.7L577.8 634L579.1 625.4L580.5 616.6L581.8 614.1L583.1 612.1L584.4 607.7L585 605.8L585.7 603.6L587.1 600.5L588.4 597.7L589.7 591.7L591 585.5L592.3 582.2L593.7 579L595 575.7L596.3 572L597.6 569.6L597.9 569L598.9 566.2L600.3 562.3L601.6 557.5L602.9 545.8L604.2 534.1L605.5 529.5L605.8 528.9L606.9 526.6L608.2 522.5L609.5 518.7L610.8 514.5L612.1 509.8L613.5 509L613.8 508.7L614.8 505.9L616.1 487.5L617.4 468L618.7 459.3L619 458.3L620.1 455.6L621.4 456.8L622.7 458.9L624 452.5L625.3 445.7L626.7 444.7L628 443.2L629.3 443.6L629.6 443.5L630.6 440L631.9 419.7L633.3 397.4L634.6 384.8L635 382.8L635.9 380.3L637.2 378.6L638.5 377.2L639.9 374.7L640 374.3L641.2 367.2L642.5 354.1L643 349.8L643.8 343.4L645.1 340.7L646.5 339.4L647.8 328.8L648 327.2L649.1 319.9L650.4 320.8L651.7 322.7L653.1 315.8L654.4 308.4L655.7 309.1L655.9 309.2L657 310L658.3 305.3L659.7 300.2L661 300.6L662.3 300.6L663.6 291L663.8 289.5L664.9 275.5L666.3 265.9L667 262.7L667.6 261.9L668.9 254.9L670.2 248.6L671.5 242.2L671.7 241.3L672.9 234.4L674.2 226.8L675.5 219.8L676.8 214.5L678 213L678.1 213L679.5 207.3L680.8 204.8L682.1 203.7L683.4 204.7L684.7 206.1L686.1 207.2L687.4 209.2L688 209.9L688.7 210.5L690 209.6L691.3 208.1L692.7 206.3L694 204.5L695 206.9L695.3 207.6L696.6 210.9L697.9 206.2L699.3 205.7L700.6 207.3L701.9 208.5L703.2 210.3L703.5 210.7L704.5 210.9L705.9 206.3L707.2 207.5L708.5 215.8L709.8 225.2L709.8 225.3L711.1 246.7L711.5 252.2L712.5 263.8L713.8 270.1L714.6 273L715.1 274.5L716.4 285.7L717.7 296.6L719 298.1L719.1 298.2L720.4 300L721.7 309.3L722.5 315.2L723 319L724.3 330.5L724.9 335.6L725.7 343.1L727 356L728.3 369.3L729.6 373L730 373.8L730.9 375.3L732.3 388L733.6 401.1L734.9 406.5L735.4 408.7L736.2 412.8L737.5 429.3L738.9 446.4L740.2 452.9L740.7 454.9L741.5 457.4L742.8 467.7L744.1 478.7L744.7 481.2L745.5 485L746.8 493.4L747.4 502.4L748.1 513.9L749.4 537.9L750.7 551.7L751.3 556.4L752.1 561.9L753.4 581.7L754.7 600.9L756 607.8L757.3 614.4L758 622.4L758.7 631L760 648.3L761.3 659L762.6 669.4L763.9 685.8L764.5 692.8L765.3 702.3L766.6 718.3L767.9 734L769.2 741.1L769.8 743.6L770.5 746.5L771.9 759.2L773.2 771.5L774.5 778.1L775.8 784.4L777.1 793.3L777.8 797.9L778.5 802.5L779.8 813.5L781.1 824.4L782.4 831L783.7 837.2L785.1 843.8L785.7 846.9L786.4 849.9L787.7 856.4L789 862.5L790.3 872L791.7 881.4L793 884L794.3 886.5L795.6 893.1L796.3 896.8L796.9 900.5L798.3 911L799.6 921.6L800.9 925.6L801 925.8L802.2 927.8L803.5 934.1L804.9 940.2L806.2 943.8L807.5 947.3L808.8 951.2L809.5 953.5L810.1 955.8L811.5 961.5L812.8 967.1L814.1 969.8L814.4 970.1L815.4 970.9L816.7 972.4L818.1 973.7L819.4 977.8L820.7 981.9L822 983.5L823.3 984.9L824.7 987.5L825.4 989.1L826 990.5L827.3 992.3L828.6 994.2L829.9 996.1L831.3 997.8L832.6 1001.1L833 1002L833.9 1004L835.2 1004.7L836.5 1005.1L837.9 1003.9L839.2 1002.5L840.5 1004.8L841.8 1007.2L843.1 1005.9L844 1005L844.5 1004.6L845.8 1006.5L847.1 1008.5L848.4 1009.3L849.7 1010L851.1 1011.4L852.4 1012.7L853.7 1015.1L854 1015.6L855 1017.5L856.3 1018.3L857.7 1019.1L859 1020.2L860.3 1021.3L861.6 1019.8L862.9 1018.2L864.3 1019L865.6 1019.9L866.9 1021.6L868.2 1023.3L869.5 1022.3L870.4 1021.5L870.9 1021.1L872.2 1021.2L873.5 1021.4L874.8 1023.4L876.1 1025.5L877.5 1025.1L878.8 1024.5L880.1 1023.5L881.4 1022.5L882.7 1023.8L884.1 1025.3L885.4 1024.1L885.8 1023.7L886.7 1022.9L888 1024L889.3 1025.3L890.7 1026.2L892 1027L893.3 1025.4L894.6 1023.7L895.9 1025.8L897.3 1028.1L898.6 1028.6L899.9 1029L901.2 1027.9L902.5 1026.7L903.9 1028.7L905.2 1030.9L906.5 1028.8L907.8 1026.5L909.1 1027.2L910.5 1028L911.8 1029.4L912 1029.6L913.1 1030.7L914.4 1029.5L915.7 1028.2L917.1 1029.9L918.4 1031.7L919.7 1030.2L921 1028.5L922.3 1030.6L923.7 1032.8L925 1031.8L926.3 1030.6L927.6 1030.2L928.9 1029.9L930.3 1031.8L931.6 1033.7L932.9 1034L934.2 1034L935.5 1032.5L936.9 1030.4L938.2 1031.1L939.5 1032L940.8 1033.4L942.1 1034L943.5 1032.8L944.8 1030.7L946.1 1030.5L947.4 1030.3L948.7 1032.3L950 1034L950.1 1034L951.4 1033L952.7 1031.4L954 1031.8L955.3 1032.3L956.7 1033.4L958 1034L959.3 1034L960.6 1034L961.9 1033.1L963.3 1031.9L964.6 1032.9L965.9 1034L967.2 1033.3L968.5 1032.5L969.9 1032.1L971.2 1031.7L972.5 1033.1L973.8 1034L975.1 1033L976.5 1031.2L977.8 1033.2L979.1 1034L980.4 1033.4L981.7 1031.3L983.1 1033.7L984.4 1034L985.7 1034L987 1034L988.3 1034L989.7 1032.5L991 1032.3L992.3 1032.1L993.6 1033.2L994.9 1034L996.3 1034L997.6 1034L998.9 1034L1000.2 1032L1001.5 1030.4L1002.9 1028.9L1004.2 1031.5L1005.5 1034L1006.8 1034L1008.1 1034L1009.5 1034L1010.8 1034L1012.1 1034L1013.4 1034L1014.7 1033L1016.1 1031.6L1017.4 1031.5L1018.7 1031.5L1020 1033.1L1021.3 1034L1022.7 1034L1024 1034L1025.3 1034L1026.6 1034L1027.9 1032.9L1029.3 1031.1L1030.6 1034L1031.9 1034L1033.2 1034L1034.5 1034L1035.9 1034L1037.2 1034L1038.5 1034L1039.8 1032.3L1041.1 1033.5L1042.5 1034L1043.8 1033.4L1045.1 1031.7L1046.4 1032.9L1047.7 1034L1049.1 1032.8L1050.4 1031.3L1051.7 1033.6L1053 1034L1054.3 1034L1055.7 1034L1057 1034L1058.3 1034L1059.6 1032.9L1060.9 1031.1L1062.3 1033.3L1063.6 1034L1064.9 1033.3L1066.2 1030.7L1067.5 1032.4L1068.9 1034L1070.2 1034L1071.5 1034L1072.8 1032.9L1074.1 1031.5L1075.5 1031.4L1076.8 1031.3L1078.1 1033L1079.4 1034L1080.7 1032.7L1082.1 1030.5L1083.4 1032.9L1084.7 1034L1086 1033.9L1087.3 1032L1088.7 1031.7L1090 1031.4L1091.3 1032.9L1092.6 1034L1093.9 1033.1L1095.3 1031.5L1096.6 1031.7L1097.9 1032L1099.2 1032.2L1100.5 1032.4L1101.9 1033.7L1103.2 1034L1104.5 1033.2L1105.8 1031.2L1107.1 1031.4L1108.5 1031.7L1109.8 1033L1111.1 1034L1112.4 1033.4L1113.7 1032.3L1115.1 1032.2L1116.4 1032.2L1117.7 1033.6L1119 1034L1120.3 1033.8L1121.7 1032.3L1123 1033.2L1124.3 1034L1125.6 1032.8L1126.9 1031.2L1128.3 1033.2L1129.6 1034L1130.9 1033.9L1132.2 1032.2L1133.5 1033.2L1134.9 1034L1136.2 1032.2L1137.5 1029.8L1138.8 1028.6L1140.1 1027.5L1141.5 1031L1142.8 1034L1144.1 1033.5L1145.4 1032.1L1146.7 1031.7L1148.1 1031.4L1149.4 1034L1150.7 1034L1152 1033.1L1153.3 1029.4L1154.7 1032.2L1156 1034L1157.3 1033.9L1158.6 1032.3L1159.9 1031.3L1161.3 1030.3L1162.6 1032.4L1163.9 1034L1165.2 1033.3L1166.5 1031.7L1167.9 1031.5L1169.2 1031.4L1170.5 1033.5L1171.8 1034L1173.1 1033.8L1174.5 1031.7L1175 1032.6"/>
<path class="s400v" stroke="#4a7ebb" stroke-width="11" stroke-linecap="round" d="M341 956.5L342.3 959.5L343.6 962.2L345 964.7L346.3 963.8L347.6 960L348.9 959.3L350.2 961.3L351.6 960.3L352.9 956.9L354.2 956.9L355.5 959.8L356.8 961.2L358.2 961.4L359.5 959.7L360 958.4L360.8 956.4L362.1 953.4L363.4 950.7L364.8 950.5L366.1 952.5L367.4 953.2L368.7 952.8L370 952.6L371.4 952.6L372.7 953.6L374 955.5L375.3 956.2L376.6 955.6L378 955.1L379.3 954.6L380 954L380.6 952.2L381.9 948.2L383.2 948.6L384.6 952.8L385.9 952.2L387.2 947.8L388.5 945L389.8 943.6L391.2 945.1L392.5 949L393.8 948.7L395.1 945L396.4 944.5L397.8 946.7L399.1 947.5L400 947.4L400.4 947.4L401.7 945.7L403 942.7L404.4 940.9L405.7 939.9L407 940.8L408.3 943.2L409.6 944.4L411 944.6L412.3 942.8L413.6 939.3L414.9 939.1L416.2 941.6L417.6 942.4L418.9 941.8L420 941.1L420.2 941L421.5 939.9L422.8 937.1L424.2 932.8L425.5 931.1L426.8 931.5L428.1 933L429.4 935.3L430.8 934.3L432.1 930.5L433.4 930.4L434.7 933.2L436 932.2L437.4 928L438.7 926.2L440 926.2L441.3 924.8L442.6 922.2L444 920.8L445.3 920.4L446.6 922.9L447.9 928L449.2 928.5L450.6 925.2L451.9 926.3L453.2 931.1L454.5 929.5L455 927.1L455.8 922.8L457.2 921.5L458.5 924.6L459.8 923.5L461.1 919L462.4 917.4L463.8 918.2L465.1 919.6L466.4 921.3L467 922.1L467.7 916.8L469 896.6L470 888.3L470.4 888.1L471.7 887.8L473 884.7L474.3 879.3L475.6 879.8L477 885.1L478.3 884.7L479.6 879.5L480.9 875.7L481 875.5L482.2 873.1L483.6 874.8L484.9 879.7L486.2 881.2L487.3 879.9L487.5 879.6L488.8 875.5L490.2 869L491.5 863.9L492.8 860L494.1 855.8L495.4 851.6L496.8 850.6L498.1 852.8L498.4 853.5L499.4 851.7L500.7 847.3L502 845L503.4 844.1L504.7 845.1L506 847.4L507 847L507.3 845.9L508.6 841.1L510 840.4L511.3 843.3L512.6 841L513 839L513.9 834.5L515.2 830.9L516.6 829.7L517.9 832.6L519.2 838.9L520.5 839.1L521.8 834.2L522 833.5L523.2 827.6L524.5 819.6L525.8 815.2L526.5 814.7L527.1 814.4L528.4 815.3L529.8 817.5L531.1 814.8L532.4 808.2L533.7 805.5L534 805.6L535 806.1L536.4 805.7L537.7 804.5L539 801L539.7 798.1L540.3 795.5L541.6 791.6L543 788.8L544.3 785.6L545.6 782L546.9 779.7L548.2 778.4L549.6 779.4L550.9 782.3L552.2 779.1L553 774L553.5 770.7L554.8 768.7L556.2 772L557.5 774.1L558.8 775.1L560 773.9L560.1 773.5L561.4 769.7L562.8 766.8L564.1 764.5L565.4 760.1L566 757.2L566.7 753.8L568 753L569.4 756.9L570.7 758.3L572 757.6L573.3 754.6L574.6 749.8L576 748.5L577.3 750.1L578.6 746.2L579.4 741L579.9 737.6L581.2 735.4L582.6 738.4L583.9 738L585.2 734.7L586.5 728.2L587 724.9L587.8 718.7L589.2 716.1L590.5 719.8L591.8 716.6L592.6 711.3L593.1 707.9L594.4 698.4L595.8 688L597.1 684.6L598.4 687.3L599.7 683.2L601 673.3L602.4 666.5L603.7 662.4L605 660.6L605.8 660.7L606.3 660.9L607.6 657.2L609 650.3L610.3 647.3L611.6 647.6L612.9 647L614.2 645.7L615.6 645.4L616.9 646.1L618.2 640.2L619 633.4L619.5 629L620.8 624.4L622.2 625.5L623.5 624.6L624.8 622L626.1 613.8L627 605.1L627.4 600.7L628.8 598.6L630.1 605.8L631.4 602.5L632.7 590.3L634 584.3L635.4 583.5L636.7 579.9L638 574.1L639.3 570.3L640 569.3L640.6 568.2L642 561.8L643.3 551.7L644.6 542.3L645.9 533.6L647.2 523.1L648.6 511.3L649.9 503L650 502.5L651.2 497.9L652.5 493.6L653.8 489.8L655.2 485.2L656.5 479.5L657.8 478.3L658.7 480L659.1 480.7L660.4 474.8L661.8 461.8L663.1 454.9L664 453.6L664.4 452.8L665.7 443.7L667 429.2L668.4 419.1L669.7 414.4L670 413.7L671 410L672.3 405.1L673.6 395.5L675 381.4L676.3 374.9L676.5 374.8L677.6 374.1L678.9 376L680.2 380.9L681.3 379.5L681.6 377.3L682.9 366.8L684.2 359.4L685.5 354.4L686.8 348.8L687.6 345.3L688.2 342.4L689.5 332.3L690.8 319.4L692.1 312.8L693.4 312.3L694 312.5L694.8 307.6L696.1 299.3L697.4 292.9L698.7 287.4L700 280.7L700 280.5L701.4 267.4L702.7 259.1L703.5 261.1L704 263.9L705.3 262.8L706.6 254.6L708 250.1L709.3 248.6L710.6 247.5L711.4 246.8L711.9 246.3L713.2 241.2L714.6 232.9L715.9 234.8L717.2 245.1L718.5 243.2L719.6 233.3L719.8 231L721.2 227.4L722.5 230.8L722.5 230.9L723.8 222.5L725.1 204.1L726.4 213.2L727.8 214.2L728 213.7L729.1 205.6L730.4 215.3L731.7 215.9L733 205.4L734.4 210.7L735 219.4L735.7 230.7L737 249L738 252.7L738.3 252.2L739.6 248.9L741 244.8L742.3 237.8L743 233.1L743.6 230.1L744.9 232.7L746.2 243.3L747.6 260.3L748 267.2L748.9 282.8L750.2 298.1L751 299.9L751.5 299.6L752.8 307.3L754.2 321.4L755.5 331.9L756.8 339.6L757.5 343L758.1 343.5L759.4 343.7L760.8 341.1L762.1 336.8L763.4 342.7L763.8 347.1L764.7 358.4L766 367L767.2 367.9L767.4 368.1L768.7 376.7L770 390.4L771.3 403.3L772.6 417.7L773.3 425.7L774 430.7L775.3 444.2L775.5 445L776.6 455.9L777.9 472.5L779.2 481.8L780.4 487.2L780.6 488.3L781.9 499.3L782.6 504.9L783.2 509.5L784.5 527.2L785.7 546.2L785.8 548.2L787.2 559.9L788.5 565.3L789.8 576.4L790.6 586.5L791.1 593.2L792.4 604.6L793.7 611.2L793.8 611.5L795.1 622.8L796.4 637.9L797.7 647.7L799 653.4L799.8 658.3L800.4 666.2L801.7 685.2L803 699.9L803.8 706.3L804.3 710L805.6 714.9L806.5 716.8L807 718.3L808.3 731.3L809.6 751L810.9 763.5L811.7 766.9L812.2 768.7L813.6 776.8L814.4 784.1L814.9 788.2L816.2 798.4L817.5 807.4L818.8 817L820.2 827.1L821.5 832.7L822.3 833.8L822.8 834.5L824.1 841.4L825.4 852.4L826.8 856.5L828.1 855.2L829.4 858.3L830.7 865.1L832 874.7L833 883.3L833.4 886.5L834.7 892.4L836 893.5L837.3 897.3L838.6 903.2L840 910.2L841.3 917.9L842.6 923.9L843.5 927L843.9 928.4L845.2 931.4L846.6 933.2L847.9 938.5L849.2 946.7L850.5 952L851.8 954.9L853.2 956.7L854.5 957.7L855.8 962.2L856.7 967.2L857.1 969.5L858.4 972.4L859.8 971.5L861.1 971.3L862.4 971.7L863.7 976.2L865 984L866.4 986.2L867.7 983.8L869 984.3L870 986.6L870.3 987.3L871.6 989L873 989.7L874.3 992.9L875.6 998.2L876.9 1000.3L878.2 999.7L879.6 1001.2L880.9 1004.4L882.2 1005.4L883.5 1004.6L884.8 1003.9L885.8 1003.4L886.2 1003.2L887.5 1005.4L888.8 1009.8L890.1 1011L891.4 1009.5L892.8 1009.8L894.1 1011.4L895.4 1012.2L896.7 1012.6L898 1015.2L899.4 1019.7L900.7 1019.8L902 1016.1L903.3 1015.1L904.6 1016.3L906 1018.1L907 1020L907.3 1020.5L908.6 1022.1L909.9 1023L911.2 1023.5L912.6 1023.8L913.9 1024L915.2 1024.3L916.5 1023.7L917.8 1022.5L919.2 1022.2L920.5 1022.8L921.8 1024.2L923.1 1026.4L924.4 1026L925.8 1023.6L927.1 1024L928.4 1026.9L929.7 1028.6L931 1029.3L932.4 1028.6L933.7 1026.7L935 1025.8L936.3 1025.5L937.6 1027.1L938.7 1029.6L939 1030.2L940.3 1030.2L941.6 1027.6L942.9 1028L944.2 1031L945.6 1030.7L946.9 1027.7L948.2 1026.4L949.5 1026.5L950.8 1027.6L952.2 1029.6L953.5 1030.4L954.8 1030.4L956.1 1029.4L957.4 1027.4L958.8 1026.9L960.1 1027.6L961.4 1027.4L962.7 1026.3L964 1027.8L965.4 1031.3L966.7 1031L968 1027.4L969.3 1027.2L970.6 1029.9L972 1030.3L973.3 1028.6L974.6 1028.9L975.9 1030.7L977.2 1030.5L978.6 1028.7L979.9 1029L981.2 1031.2L982.5 1031.1L983.8 1029L985.2 1029.3L986.5 1031.4L987.8 1033.2L989.1 1034L990.4 1034L991.6 1033.9L991.8 1033.7L993.1 1033.5L994.4 1034L995.7 1033L997 1030.6L998.4 1028.9L999.7 1027.9L1001 1028L1002.3 1029L1003.6 1030.4L1005 1032L1006.3 1031.4L1007.6 1028.9L1008.9 1028.3L1010.2 1029.3L1011.6 1030.7L1012.9 1032.5L1014.2 1032.4L1015.5 1030.8L1016.8 1031.5L1018.2 1034L1019.5 1033.1L1020.8 1029.2L1022.1 1029.3L1023.4 1032.7L1024.8 1033.5L1026.1 1032.1L1027.4 1030.8L1028.7 1029.6L1030 1031L1031.4 1034L1032.7 1034L1034 1034L1035.3 1034L1036.6 1034L1038 1034L1039.3 1034L1040.6 1033.9L1041.9 1032.5L1043.2 1032.7L1044.6 1034L1045.9 1034L1047.2 1034L1048.5 1034L1049.8 1034L1050 1034L1051.2 1034L1052.5 1034L1053.8 1034L1055.1 1032.8L1056.4 1031.6L1057.8 1030.6L1059.1 1031.9L1060.4 1034L1061.7 1034L1063 1034L1064.4 1034L1065.7 1031.9L1067 1030.6L1068.3 1030.7L1069.6 1029.8L1071 1028L1072.3 1027.9L1073.6 1029.2L1074.9 1030.2L1076.2 1030.8L1077.6 1031.2L1078.9 1031.4L1080.2 1031.4L1081.5 1031.2L1082.8 1032.4L1084.2 1034L1085.5 1034L1086.8 1033L1088.1 1033.3L1089.4 1034L1090.8 1034L1092.1 1031.1L1093.4 1031.8L1094.7 1034L1096 1034L1097.4 1034L1098.7 1034L1100 1031.3L1101.3 1030.6L1102.6 1033.5L1104 1034L1105.3 1034L1106.6 1034L1107.9 1031.9L1109.2 1030.6L1110.6 1031.3L1111.9 1032.9L1113.2 1034L1114.5 1034L1115.8 1030L1117.2 1030.3L1118.5 1034L1119.8 1034L1121.1 1034L1122.4 1033.3L1123.8 1031L1125.1 1029.4L1126.4 1028.6L1127.7 1030.4L1129 1034L1130.4 1034L1131.7 1031.3L1133 1031.4L1134.3 1034L1135.6 1034L1137 1032.2L1138.3 1032.8L1139.6 1034L1140.9 1034L1142.2 1032.6L1143.6 1032.6L1144.9 1034L1146.2 1034L1147.5 1032.6L1148.8 1032.5L1150.2 1034L1151.5 1034L1152.8 1032.7L1154.1 1032.8L1155.4 1034L1156.8 1034L1158.1 1032.7L1159.4 1031.5L1160.7 1030.4L1162 1031.4L1163.4 1034L1164.7 1034L1166 1034L1167.3 1034L1168.6 1034L1170 1033.8L1171.3 1032L1172.6 1030.8L1173.9 1030.2L1175 1029.8"/>
<path class="s450v" stroke="#5b9138" stroke-width="11.5" stroke-linecap="round" d="M395 932.1L396.3 931.5L397.6 925.9L399 925L400.3 929.5L401.6 931.9L402.9 931.9L404.2 929.7L405.6 925L406.9 924.3L408.2 928.3L409.5 928.7L410.8 924.8L412.2 924.4L413.5 928.3L414.8 927.9L416.1 922.1L417.4 919.4L418.8 920.2L419 920.4L420.1 919.8L421.4 917.7L422.7 918L424 921.1L425.4 920.5L426.7 915.5L428 914.2L429.3 917.3L430.6 916.8L432 912L433.3 911.3L434.6 915.4L435.9 915.7L437.2 911.6L438 909.6L438.6 910.8L439.9 913.7L441.2 914.3L442.5 912L443.8 912.4L445.2 916.2L446.5 917L447.8 914.2L449.1 914.9L450.4 919.8L450.8 921.1L451.8 920.4L453.1 915.9L454.4 914.1L455.7 915.5L457 914.1L458.4 909.3L459.7 908L461 910.8L462.3 910.1L463.6 905.2L465 904.6L466.3 909.3L466.7 910.8L467.6 909L468.9 902.6L470.2 900.9L471.6 904.8L472.9 906.4L474.2 905.3L475.5 904.7L476.8 904.8L478.2 903.1L479.5 899.2L480.8 898.7L482.1 902.3L482.5 903.3L483.4 902.2L484.8 897.9L486.1 896.2L487.4 897.9L488.7 896.9L490 892.7L491.4 891L492.7 892.1L494 890.1L495.3 884.2L496.6 880.8L498 880.5L498.4 880.4L499.3 881.6L500.6 884.2L501.9 882L503.2 874.1L504.6 868.7L505.9 866.4L507.2 862.8L508.5 857.8L509.8 856.5L511.2 859.6L512.5 861.1L513 860.9L513.8 860.7L515.1 857.3L516.4 850.5L517.8 849.1L519.1 854.2L520.4 854.7L521.7 849.4L523 849.9L524.4 857.5L525.7 857.8L527 849.5L528.3 844.8L529.6 844.5L530 844.4L531 842.7L532.3 838.6L533.6 838.2L534.9 842.7L536.2 843.2L537.6 839L538.9 833.5L539.7 829.2L540.2 826.7L541.5 823.9L542.8 826.1L544.2 825.4L545.5 821.2L546.8 820L548.1 822.3L549.4 820.7L550.8 814.4L552.1 813.2L553.4 818.2L554.7 821L556 821.4L557.4 821.7L558.7 822L560 818.2L560.8 812.9L561.3 809.5L562.6 806.1L564 809.2L565.3 806.8L566.6 797.7L567.9 792.3L569.2 791.3L570.6 791.6L571.9 793.6L573.2 791.8L574.5 785.5L575.8 782.6L577.2 784L578.5 783.7L579.4 782.2L579.8 781.5L581.1 778.4L582.4 774L583.8 773L585.1 776.2L586.4 775.4L587.7 769.7L589 768.7L590.4 773.3L591.7 772.4L592.6 767.1L593 764.8L594.3 757.7L595.6 751.4L597 750.3L598.3 755.9L599.6 754.2L600.9 743.7L602.2 737.5L603.6 736.6L604.9 733.3L605.8 728.8L606.2 727L607.5 721.8L608.8 717.5L610.2 716.3L611.5 718.5L612.8 721.7L614.1 726.1L615.4 727.7L616.8 725.8L618.1 721.2L619 715.5L619.4 713L620.7 711.2L622 716.9L623.4 716.5L624.7 708.7L626 708.1L627.3 716L628.6 715L630 703L631.3 697.5L632 698.8L632.6 699.6L633.9 697.2L635.2 690.5L636.6 680.7L637.9 668.4L639.2 662.5L640 663.8L640.5 665L641.8 663L643.2 654.6L644.5 653.8L645.8 661.9L647.1 663.3L648.4 656.8L649.8 656L650.8 660.7L651.1 662L652.4 661.8L653.7 654.4L655 648L656.4 643.2L657.7 639.4L658.7 637.6L659 637.1L660.3 632.1L661.6 623.2L663 617.9L664.3 616.7L665.6 618.6L666.9 623.9L668.2 623.3L669.6 615.4L670.9 610.8L671.7 610.5L672.2 609.8L673.5 603.4L674.8 592.7L676.2 576.9L677.5 557.4L678 550.7L678.8 549.3L680.1 552.3L681.4 548.7L682.8 537L684.1 532.1L685.4 535.3L686 536.8L686.7 532.5L688 522.7L689.4 519.7L690.7 524.7L692 525.9L693.3 522.4L694.6 515L696 503L697.3 497.9L698.6 501.3L698.7 501.6L699.9 497.6L701.2 485.2L702.6 475.7L703.9 470L705.2 468L706.5 470.5L706.7 470.9L707.8 466.1L709.2 453.2L710.5 444.5L711.8 441.2L713.1 439.2L714.4 438.7L714.6 438.7L715.8 433.3L717.1 421.8L718.4 414.2L719.7 411L721 412.3L722.4 418.9L722.5 419.6L723.7 414.8L725 398L726.3 389.7L727.6 391.5L728.9 387.8L729 387.3L730.3 376.6L731.6 372.4L732.9 374.9L734.2 366.5L735 354L735.6 339.1L736.8 308.2L736.9 308.1L738.2 307.7L739.5 310.1L740.8 314.3L742.2 312.2L743 305.5L743.5 300.7L744.8 290.1L746.1 288.3L746.3 288.6L747.4 286.7L748.8 280.9L750.1 272.2L751.4 260L752.7 255.5L754 260.2L755.4 257.5L756.7 245.9L757 243L758 242.3L759.3 248.6L760.6 246.3L762 233.6L763.3 229.7L764.6 236.2L765.9 233.7L767.2 220.3L768.6 217.2L769.9 226.5L770 227.4L771.2 230L772.5 226.3L773.8 218.6L775.2 206.1L776.5 205.1L777.8 207.3L779.1 209.9L780.4 208.8L781.8 205.3L782.9 207.1L783.1 207.9L784.4 208.2L785.7 205.3L787 205.4L788.4 209.4L789.7 214.8L791 216.9L792.3 216.9L793.6 214.4L795 213.3L796.3 213.9L797.6 215.7L798.7 218.2L798.9 218.7L800.2 214.5L801.6 205.5L802.9 209.7L804.2 203.7L805.5 204L806.8 213.9L808.2 217.2L809.5 212.5L810.8 209L811.4 208.1L812.1 207.7L813.4 218.5L814.8 242L816.1 256.5L817 258.1L817.4 258.6L818.7 267.9L820 285.9L821.4 301L822 306.6L822.7 312.6L824 324.5L825.3 336.8L826.6 343.7L828 344.2L828 344.2L829.3 349.7L830.6 361.1L831.9 377L833.2 397.8L834.6 410.9L835.6 414.2L835.9 414.9L837.2 418.6L838.5 422.8L839.8 431.6L841.2 446.4L842.5 454.4L843.5 454.6L843.8 454.7L845.1 461.9L846.4 476.9L847.8 490L849.1 500.6L850 507.1L850.4 508.3L851.7 513.4L853 519.5L854 524.2L854.4 525.8L855.7 536.8L857 554L858.3 565.1L859.6 569.4L861 579.7L862 593.3L862.3 597L863.6 605.9L864.9 605L866.2 610.3L867.6 623.2L868.9 631.1L870.2 633.1L871.5 641.4L872.6 654.1L872.8 656.9L874.2 665.4L875.5 665.6L876.8 672.5L878.1 687L879.4 697.1L880.5 701L880.8 701.9L882.1 707.8L883.4 715L884.7 724.9L886 738.1L887.4 748.3L888.5 754L888.7 755L890 759.1L891.3 760.1L892.6 768.9L894 786.4L895.3 795.3L896.4 794.4L896.6 794.1L897.9 800.1L899.2 815L900.6 823.7L901.9 825.5L903.2 825.9L904.5 825.1L905.8 829L907 837.4L907.2 838.6L908.5 845.1L909.8 847.9L911.1 852.9L912.3 859.6L912.4 860.4L913.8 865.2L915.1 867.4L916.4 872.4L917.6 880L917.7 880.8L919 885.6L920.4 886.1L921.7 887.5L923 889.8L924.3 895.9L925.6 906.5L927 914L928 917.2L928.3 918L929.6 918.6L930.9 915.4L932.2 918.4L933.6 928.4L934.9 934.2L936.2 934.8L937.5 934.9L938.8 934.3L940.2 937.5L941.5 945.2L942.8 949.6L944 950.1L944.1 950.1L945.4 951.1L946.8 952.7L948.1 955.1L949.4 958.4L950.7 958L952 953.2L953.4 952.4L954.7 956.3L956 961L957.3 966.9L958.6 969.4L959.9 967.9L960 967.8L961.3 969.1L962.6 973.8L963.9 977.1L965.2 979L966.6 980.4L967.9 981.1L969.2 981L970.5 980L971.8 981L973.2 984.2L974.5 985.3L975.8 984L977.1 984.2L978.4 986.1L979.8 989.5L981.1 994.4L982.4 997.1L983.7 997L985 998L986.4 1000.3L987.7 1000.7L989 998.8L990.3 999.9L991.6 1004.4L991.6 1004.5L993 1005.8L994.3 1003.3L995.6 1003.7L996.9 1007.6L998.2 1008.8L999.6 1006.9L1000.9 1007.6L1002.2 1011.2L1003.5 1013.4L1004.8 1013.9L1006.2 1014.2L1007.5 1014.1L1008.8 1015.2L1010.1 1017.5L1011.4 1019L1012.8 1019.4L1012.8 1019.4L1014.1 1017.9L1015.4 1014.3L1016.7 1013.3L1018 1015.4L1019.4 1017.5L1020.7 1019.5L1022 1020.2L1023.3 1019.3L1024.6 1019.9L1026 1022.2L1027.3 1022.9L1028.6 1021.7L1029.9 1022.4L1031.2 1025.5L1031.3 1025.7L1032.6 1025.9L1033.9 1023.1L1035.2 1022.8L1036.5 1025.2L1037.8 1025.6L1039.2 1023.6L1040.5 1022.6L1041.8 1023L1043.1 1022.8L1044.4 1022L1045.8 1023L1047.1 1026.2L1048.4 1026.9L1049.7 1024.6L1051 1023.6L1052.4 1024.1L1053.7 1026.2L1055 1030.3L1056.3 1031L1057.6 1027.7L1057.8 1027.3L1059 1026.1L1060.3 1026.5L1061.6 1028L1062.9 1030.7L1064.2 1030.9L1065.6 1028.1L1066.9 1027.6L1068.2 1029.9L1069.5 1030L1070.8 1027.4L1072.2 1026.3L1073.5 1027L1074.8 1026.9L1076.1 1025.8L1077.4 1026.8L1078.8 1030.2L1080.1 1030.2L1081.4 1026.1L1082.7 1025.7L1084 1029.8L1085.4 1030.3L1086.7 1026.5L1088 1026.3L1089.3 1030.4L1090.6 1031.6L1092 1029.3L1093.3 1028.3L1094.6 1028.6L1095.9 1030.3L1097.2 1033.7L1097.5 1034L1098.6 1034L1099.9 1034L1101.2 1034L1102.5 1034L1103.8 1033.4L1105.2 1030.8L1106.5 1030L1107.8 1031.5L1109.1 1033.4L1110.4 1034L1111.8 1034L1113.1 1030.4L1114.4 1030.1L1115.7 1034L1117 1034L1118.4 1034L1119.7 1034L1121 1031.6L1122.3 1031.8L1123.6 1034L1125 1034L1126.3 1031L1127.6 1030L1128.9 1032.4L1130.2 1033.8L1131.6 1034L1132.9 1032.9L1134.2 1029.9L1135.5 1029.7L1136.8 1032.8L1138.2 1033.4L1139.5 1030.8L1140.8 1028.8L1142.1 1027.7L1143.4 1029L1144.8 1033.3L1146.1 1034L1147.4 1034L1148.7 1034L1150 1034L1151.4 1034L1152.7 1032.5L1154 1032.4L1155.3 1034L1156.6 1034L1158 1030.5L1159.3 1029.8L1160.6 1032.8L1161.9 1033.5L1163.2 1031.3L1164.6 1031L1165.9 1032.8L1167.2 1033L1168.5 1031.3L1169.8 1031.7L1171.2 1034L1172.5 1034L1173.8 1032.3L1175 1031.5"/>
<path class="s500v" stroke="#4472c4" stroke-width="11.5" stroke-linecap="round" d="M586 576.3L587.3 589.4L587.6 588.9L588.6 586.2L590 604.8L591.3 617.7L592.6 599.1L593.9 585.1L595.2 597L596.6 604.4L597.9 586.5L599.2 573.9L600.5 591.1L601.8 603.7L603.2 590.6L603.5 587.2L604.5 578.7L605.8 574.7L607.1 571.9L608.4 580.7L609.8 585.5L611.1 567.6L612.4 554.1L613.7 568.5L615 578.3L616.4 558.1L617.7 543.9L619 561.9L619.4 567.7L620.3 575.2L621.6 556.1L623 542L624.3 555.8L625.6 565L626.9 547.7L628.2 535.6L629.6 553L630.9 565.4L632.2 550.2L633.5 539.3L634.8 553.6L635 555.3L636.2 564.7L637.5 558.9L638.8 551.7L640.1 538.8L641.4 529.4L642.8 542.6L644.1 552.8L645.4 545.6L646.7 536.8L648 519.8L649.4 506.3L650.7 514.3L651 516.3L652 522.4L653.3 529.8L654.6 534.7L656 524.9L657.3 513.7L658.6 494L659 488.2L659.9 480.2L661.2 496.5L662.6 508.2L663.9 492.5L665.2 481.3L666.5 494.8L667.8 504.3L669.2 491.4L670.5 482.3L671.8 494.6L673.1 502.9L674.4 489.1L675 483.1L675.8 476.8L677.1 474.4L678.4 474.8L679.7 495.4L681 507.9L682.4 472.4L683 455.3L683.7 446.5L685 472.8L686.3 492.3L687.6 471.7L689 457L690.3 476.4L690.8 484L691.6 491.7L692.9 484.9L694.2 475.1L695.6 453.2L696.9 436.2L698.2 449.7L698.7 455.2L699.5 457.3L700.8 424.6L702.2 400.6L703.5 425.8L704.8 444.1L706.1 423L706.7 413.3L707.4 405.4L708.8 415.9L710 423.9L710.1 422.5L711.4 400.6L712.7 384.2L714 398.2L715.4 407L716.7 383.6L718 361.6L719.3 350.3L719.4 349.6L720.6 343.7L722 366.8L723.3 382.8L724.6 355.8L725.9 331.7L727.2 328.8L728.6 327.5L728.9 330L729.9 335.5L731.2 336.2L732 316.9L732.5 306L733.8 287.8L735.2 317.5L736.5 339.7L737.8 319.1L739.1 305.9L740.4 333.7L741.6 355.4L741.8 352.3L743.1 325.7L744.4 305.2L745.7 328.4L747 344.1L748.4 318.4L749.7 294.4L751 283.2L752.3 275.9L753.6 296.3L755 312.1L756.3 298.2L757.5 286.4L757.6 284.9L758.9 265.1L760.2 251L761.6 266.8L762.9 277.1L763.8 263L764.2 256.7L765.5 236.8L766.8 223.2L768.2 215.3L769.5 242.4L770.8 260.5L772.1 224.9L773.3 211L773.4 207.7L774.8 229.9L776.1 252.3L777.4 225.2L778.7 207L780 240.1L781.4 267.5L782.7 259.2L782.9 257.8L784 247.7L785.3 217.3L786.6 212L788 217.3L789.2 234.1L789.3 232.1L790.6 206.2L791.9 230.9L793.2 229.3L794.6 226.1L795.9 218.5L797 212.6L797.2 205.7L798.5 247L799.8 279L801.2 237.7L802.5 205.3L803.8 219.4L805 228.9L805.1 225.3L806.4 220.4L807.8 257L809.1 284.5L810.4 304.1L811.7 282L812 277.4L813 268.2L814.4 298.8L815.7 320.1L817 292.8L818.3 275L819.6 307.8L820 316.7L821 329.8L822.3 293.3L823.6 269.7L824.9 313.6L826.2 343.5L827.6 300.2L828.9 271.5L830 313L830.2 320.3L831.5 358.1L832.8 339.1L834.2 327L835.5 351.6L836.8 369.2L838.1 349L839.4 336.2L840.8 362.8L842.1 381.2L843 362.9L843.4 355.1L844.7 337.4L846 365.3L847.4 385.8L848.7 366.3L850 357.9L851.3 402.6L851.4 405.3L852.6 445.1L854 435.9L854 435.4L855.3 424.3L856.6 444.1L857.9 455.7L859.2 432L860.6 419.5L861.9 461.3L862 465.2L863.2 498.5L864.5 496.7L865.8 497L866 499.4L867.2 515.1L868.5 526.8L869.8 513.2L871.1 504.4L872.4 523.1L873.8 538.1L875 531L875.1 530.6L876.4 532.5L877.7 559L879 581.6L880.4 583.2L880.5 583L881.7 583.7L883 598.9L884.3 609.6L885.6 601.6L887 598.6L888.3 622.1L889.6 640.3L890.9 629.6L891 629.1L892.2 626.3L893.6 647.1L894.9 666.2L896.2 671.9L897.5 678.3L898.8 692.1L899 693.4L900.2 700.2L901.5 697.6L902.8 696.5L904.1 705.3L904.3 706.6L905.4 715L906.8 723.3L908.1 731L909.4 731.5L909.6 731.6L910.7 735L912 750.2L913.4 763L914.7 764.7L914.9 764.6L916 765.5L917.3 774.6L918.6 781.1L920 777.4L921.3 774.9L922.6 778L923.9 783.1L924 783.8L925.2 795.8L926.6 809.3L927.9 814.2L929.2 820.4L930.5 831.9L930.8 833.7L931.8 838.7L933.2 837.9L934.5 837.9L935.8 843.6L937.1 848.1L938.4 846.8L939.8 846.9L941.1 853L941.4 854.5L942.4 858.5L943.7 859.4L945 861L946.4 865.3L947.7 869.5L949 872.8L950.3 876.7L951.6 884.3L952 886.2L953 890.4L954.3 890.8L955.6 892.2L956.9 898.9L958.2 904.6L959.6 905.2L960.9 906.5L962.2 912.1L962.5 913.4L963.5 916.4L964.8 914.9L966.2 914.4L967.5 921L968.8 926.2L970.1 924.5L971.4 923.8L972.8 928.3L974.1 932.1L975.4 931.6L975.8 931.5L976.7 932.3L978 938.4L979.4 943.5L980.7 942.9L982 943.2L983.3 948.3L984.6 952.5L986 952.5L987.3 953.3L988.6 958.3L989 959.8L989.9 962.7L991.2 963.5L992.6 965.3L993.9 971.3L995.2 976.2L996.5 975.6L997.8 975.4L999.2 979.6L999.6 980.9L1000.5 982.4L1001.8 980.7L1003.1 979.5L1004.4 982.2L1005.8 984.2L1007.1 982.9L1008.4 981.8L1009.7 981.7L1010 981.7L1011 983L1012.4 989.7L1013.7 995.8L1015 995.1L1016.3 994.9L1017.6 999L1018 999.9L1019 1001L1020.3 998.3L1021.6 996.2L1022.9 998.4L1024.2 999.8L1025.6 997.4L1026.9 995.3L1028.2 995.4L1028.7 995.5L1029.5 995.9L1030.8 997.8L1032.2 999.5L1033.5 998L1034.8 997.6L1036.1 1002.3L1037.4 1006L1038.8 1004.3L1039 1004L1040.1 1002.9L1041.4 1003.8L1042.7 1005L1044 1008.1L1045.4 1010.3L1046.7 1007.2L1048 1005.1L1049.3 1008.9L1049.8 1010.2L1050.6 1011.9L1052 1010.6L1053.3 1010.1L1054.6 1013.2L1055.9 1015.6L1057.2 1014L1058.6 1013.2L1059.9 1016.9L1060.4 1018.2L1061.2 1019.3L1062.5 1016.9L1063.8 1015.3L1065.2 1018.1L1066.5 1020.1L1067.8 1017.5L1069.1 1015.4L1070.4 1016.3L1071.8 1017.3L1073.1 1019.4L1074.4 1020.8L1075.7 1018L1077 1016.1L1078.4 1019.1L1079.7 1021.2L1081 1017.9L1081.6 1016.5L1082.3 1015.6L1083.6 1018.5L1085 1020.7L1086.3 1018.8L1087.6 1017.1L1088.9 1016.6L1090.2 1016.6L1091.6 1019.2L1092.9 1021.1L1094.2 1019.3L1095.5 1018L1096.8 1019.6L1098.2 1020.7L1099.5 1018.4L1100.8 1016.8L1102.1 1019.4L1103.4 1021.6L1104.8 1021.5L1105.4 1021.4L1106.1 1021.4L1107.4 1021.7L1108.7 1022.1L1110 1022.3L1111.4 1022.1L1112.7 1019.4L1114 1017.4L1115.3 1019.7L1116.6 1021.9L1118 1023.7L1119.3 1025L1120.6 1023.2L1121.9 1022L1123.2 1024.8L1124 1026.4L1124.6 1026.8L1125.9 1024.4L1127.2 1022.6L1128.5 1024.5L1129.8 1025.6L1131.2 1022.9L1132.5 1020.7L1133.8 1021L1135.1 1021.5L1136.4 1022.8L1137 1023.4L1137.8 1023.7L1139.1 1021.5L1140.4 1019.6L1141.7 1019.6L1143 1020L1144.4 1022.5L1145.7 1024.2L1147 1022.2L1148.3 1020.7L1149.6 1022.6L1151 1023.9L1152.3 1022.7L1153.6 1021.9L1154.9 1023.5L1156.2 1024.4L1157.6 1021.7L1158.9 1019.6L1160.2 1020.9L1161.5 1022.3L1162.8 1024.2L1164.2 1025.3L1165.5 1022.7L1166 1021.6L1166.8 1020.4L1168.1 1020.2L1169.4 1020.6L1170.8 1024.5L1172.1 1027.8L1173.4 1028L1174.7 1027.9L1175 1027.6"/>
<path class="s550v" stroke="#ff0000" stroke-width="5.2" stroke-dasharray="17.5 4.5" d="M481 213.6L482.3 254L483.6 278.9L483.7 279.5L485 288.5L486.3 288.5L487.6 284.3L488.9 292.7L489 293.8L490.2 314.3L491.6 332.7L492.9 344.8L493 345.6L494.2 360.4L495.5 379.7L495.6 380.9L496.8 391.6L498.2 398.7L499.5 414.8L499.5 415.2L500.8 439.2L502.1 452.2L502.2 452.2L503.4 448.6L504.8 493.6L506 474.9L506.1 473.8L507.4 430.2L508.7 369.7L510 322.1L511.4 285.6L511.4 284.6L512.7 344.3L514 463.9L515.3 490.7L516 472.6L516.6 453.8L518 462.9L519.3 501.8L520.6 491.2L520.7 488.1L521.9 450.7L523.2 472.5L524.6 532.2L525.9 518.8L526.4 494.8L527.2 391.7L528.5 259.2L528.6 121.8L529.8 121.8L531.2 121.8L532.5 121.8L533.8 121.8L534 121.8L535.1 458.1L536.2 506.4L536.4 499.8L537.8 461.8L539.1 440.7L540 431.3L540.4 426.3L541.7 460.9L543 528.9L544.4 528.4L545.7 483.1L547 485L548 510.3L548.3 518.7L549.6 497.5L551 442.8L552.3 463.1L553.6 529L554.9 542.9L556 527.1L556.2 523.4L557.6 556.8L558.9 623.4L560.2 609.6L561.5 545.4L562.8 546.9L564 584.4L564.2 589.5L565.5 604.5L566.8 601.9L568.1 577.4L569.4 539.2L570.8 552.8L572 596.5L572.1 599.3L573.4 594.3L574.7 556.7L576 575.7L577.4 630.3L578.7 629.2L580 592.5L581.3 594.9L582.6 622.4L584 620.8L585.3 600.5L586.6 617.2L587.9 657.5L589.2 647.8L590 623.6L590.6 605.9L591.9 614.3L593.2 655.1L594.5 651.4L595.8 618.8L597.2 618.5L598.5 639.1L599.8 647.8L600 648L601.1 648.8L602.4 631.2L603.8 601.3L605.1 618.8L606.4 667.3L607.7 658.3L609 611.5L610 594.3L610.4 595.3L611.7 598.5L613 615.8L614.3 642.5L615.6 631.6L617 596L618.3 600.4L619 617.4L619.6 631.6L620.9 622.4L622.2 586.5L623.6 590.1L624.9 619.5L626.2 605.2L627.5 562.2L628.8 574.4L630 616.8L630.2 622.7L631.5 642.9L632.8 644.9L634.1 612.5L635.4 557.9L636.8 566.1L638.1 615L639.4 632.6L640.7 630L642 641.8L643 657.1L643.4 662.9L644.7 668.2L646 663.3L647.3 638.5L648.6 600.8L650 598L651.3 617.9L652.6 613.6L653.9 593.6L655 594L655.2 597.5L656.6 616.8L657.9 610L659.2 586L660.5 593.8L661.8 622.5L663.2 611L664.5 572.9L665.8 580.3L667 614.1L667.1 617.5L668.4 610.1L669.8 573.3L671.1 575.3L672.4 602.9L673.7 589.5L675 550.4L675 549.2L676.4 557.8L677.7 598.5L679 587.4L680.3 542.6L681.6 535L683 551.8L684.3 579.4L685.6 614L686.9 602.1L688.2 559.5L689.6 528.6L690.9 505.1L691 502.9L692.2 528.5L693.5 582.5L694.8 565L696.2 499.8L697.5 518.1L698.8 592.4L700 596.2L700.1 591.7L701.4 541.4L702.8 540.4L704.1 572.1L705.4 650L706.7 474.7L708 480.8L709.4 536.2L710.7 543.3L712 518.4L713.3 522.4L714.6 544.6L714.6 545.3L716 525.8L717.3 478.1L718.6 483.6L719.9 524.4L721.2 519.7L722 499.7L722.6 485.1L723.9 491.3L725.2 524.1L726.5 510.5L727.8 466.3L729.2 472.8L730 497.9L730.5 512.2L731.8 492.5L733.1 434.2L734.4 444.9L735.8 500.6L737.1 507.5L738 489.9L738.4 482.3L739.7 464.9L741 452.5L742.4 470.9L743.7 509.4L745 492.6L746 452.2L746.3 439.1L747.6 444.4L749 488.2L750.3 482L751.6 442.4L752.9 461.3L754 508.6L754.2 519.2L755.6 542L756.9 541.3L758.2 498.1L759.5 426.3L760.8 422.6L762 459.6L762.2 464.7L763.5 456.1L764.8 413.4L766.1 417.8L767.4 453.6L768.8 419.9L770 344.7L770.1 339.8L771.4 346.6L772.7 411.1L774 412.3L775.4 371.4L776.7 376.9L778 413.4L779.3 395.1L780 367L780.6 340.4L782 355.5L783.3 416.7L784.6 407.2L785.9 350.9L787.2 357.2L788.6 404.9L789.9 386L790 380.3L791.2 323.3L792.5 346.3L793.8 425.5L795.2 395.1L796.5 293L797.8 293.3L799.1 360.6L800 371.3L800.4 351.9L801.8 293.6L803.1 307.2L804.4 367.8L805.7 352.9L807 288.7L808.4 297.5L809.7 353.8L810 367.5L811 379.6L812.3 385.5L813.6 361.5L815 318.1L816.3 338.8L817.6 401.4L818.9 389.6L820 340.4L820.2 329.4L821.6 327.8L822.9 364.2L824.2 381L825.5 385L826.8 406.2L828.2 438.4L829.5 402.4L830 370.6L830.8 321.7L832.1 279.9L833.4 263.2L834.8 298.1L836.1 366.5L837.4 388.2L838.7 379.4L840 403.2L841.4 448.3L842.7 447.7L844 417.1L845.3 371.5L846.6 316L848 316.3L849.3 353L850.6 373.1L851.9 382.5L853.2 344.7L854.6 276.1L855 253.3L855.9 300.2L857.2 384.6L858.5 362L859.8 269.7L861.2 253.8L862.5 287.6L863.8 295.5L865.1 286.4L866.4 319.6L867.8 200L869.1 367.8L870 325.7L870.4 307.3L871.7 322L873 385.6L874.4 348.1L875.7 244.7L877 254.7L878.3 338.5L879.6 318.3L881 230.4L882.3 259.7L883.6 365.7L884.9 363.2L886.2 289L887.6 242.7L888.9 215.7L890 237.5L890.2 248.3L891.5 321.4L892.8 331.8L894.2 302.5L895.5 332L896.8 397.7L898.1 381.1L899 335.1L899.4 312.1L900.8 284.5L902.1 283.5L903.4 318.2L904.7 375.3L906 376.6L907.4 342.5L908.7 372.3L910 442.3L911.3 429L912 394.7L912.6 362.7L914 369.1L915.3 421.4L916.6 426.1L917.9 400.3L919.2 410.4L920.6 443L921.9 424.2L922.9 383.8L923.2 371.7L924.5 387.5L925.8 448L927.2 446.2L928.5 403.9L929.8 413L931.1 455.6L932.4 440.9L933.8 389L935.1 405L936.4 465.2L937.7 489.5L938.7 385L939 490.6L940.4 486.6L941.7 480.4L943 457.6L944 430.4L944.3 421.3L945.6 438.8L947 490.6L948.3 489.1L949.6 454.2L950.9 473.6L952.2 527.4L953.6 544.7L954.6 540.4L954.9 539.3L956.2 516.8L957.5 484L958.8 493.6L960.2 529.4L961.5 524.2L962.5 500.3L962.8 493.3L964.1 510.7L965.4 558.2L966.8 554.9L968.1 519.7L969.4 532.5L970.7 575.4L972 596.2L973.4 603.2L974.7 583L975.8 552L976 546.6L977.3 548.7L978.6 575L980 611.4L981.3 653.5L982.6 650.9L983.7 626.5L983.9 621.9L985.2 635.1L986.6 672.8L987.9 682.8L989 673.8L989.2 671.7L990.5 688.6L991.8 724.8L993.2 720.7L994.5 690.8L995.8 691.3L997.1 711.3L998.4 707.9L999.8 689.4L1001.1 695L1002.4 716.4L1003.7 705.8L1005 675L1006.4 696.8L1007.5 744.7L1007.7 752.2L1009 746.1L1010.3 703L1011.6 708.4L1012.8 737.6L1013 741.4L1014.3 746.9L1015.6 735.8L1016.9 747.3L1018.2 772.7L1019.6 770.1L1020.9 750.3L1022.2 757L1023.4 778.3L1023.5 780.4L1024.8 778.1L1026.2 760.1L1027.5 772.3L1028.8 802.5L1030.1 804.8L1031.3 791L1031.4 789.3L1032.8 790.5L1034.1 802.3L1035.4 802.5L1036.7 795.4L1038 798.7L1039.4 808.8L1040.7 807.8L1042 799.9L1043.3 809.4L1044.5 827.9L1044.6 830.1L1046 829.8L1047.3 816.7L1048.6 820.4L1049.9 834.1L1051.2 836.9L1052.5 832.7L1052.6 832.5L1053.9 831.9L1055.2 834L1056.5 841.7L1057.8 852.9L1059.2 861.2L1060.5 867.6L1061.8 869.8L1063.1 869.3L1064.4 862.9L1065.7 853.4L1065.8 852.9L1067.1 857.8L1068.4 871.8L1069.7 868.6L1071 854.6L1072.4 864.2L1073.7 888.7L1075 888.7L1076.3 873.8L1076.3 873.5L1077.6 880.9L1079 902.2L1080.3 903.5L1081.6 892.6L1082.9 889.4L1084.2 891L1085.6 899.6L1086.9 912.2L1088.2 913.6L1089.5 908L1090.8 912.9L1092 922.7L1092.2 924L1093.5 930.9L1094.8 935.4L1096.1 932.5L1097.4 924.9L1098.8 929L1100.1 940L1101.4 939.6L1102.7 931.8L1104 933.9L1105.4 942.2L1105.4 942.4L1106.7 941.3L1108 934.5L1109.3 936.1L1110.6 943L1112 940.7L1113.3 932.4L1114.6 934.9L1115.9 944.6L1117.2 943.1L1118.6 934.4L1119.9 933.9L1121.2 938.8L1122.5 935.4L1123.8 926.6L1124 905L1125.2 929.2L1126.5 940L1127.8 942L1129.1 938.9L1130.4 945.5L1131.8 957.8L1133.1 958L1134.4 950.8L1135.7 955.5L1137 966.7L1137 967L1138.4 965.9L1139.7 957.2L1141 955.5L1142.3 958.2L1143.6 959.8L1145 960.6L1146.3 965.6L1147.6 973.4L1148.9 973.3L1150.2 968.3L1150.4 967.7L1151.6 969.2L1152.9 974L1154.2 977.2L1155.5 979.2L1156.8 975.3L1158.2 967.5L1159.5 967.8L1160.8 973.4L1162.1 972.5L1163.4 967.5L1163.6 966.9L1164.8 971.1L1166.1 980.4L1167.4 978L1168.7 968.2L1170 969.4L1171.4 977.7L1172.7 977L1174 970.5L1175 970.2"/>
</g>
<g id="legend">
<rect x="1175" y="57" width="286.5" height="980" fill="#f2f2f2"/>
<path d="M1205 88 H1317" stroke="#00b050" stroke-width="9.5" stroke-dasharray="35.5 7.8 30.5 8 30.2 0" fill="none"/>
<text x="1324.5" y="103" font-size="49">9V</text>
<path d="M1210 154.7 H1312" stroke="#f4b9a5" stroke-width="10" stroke-linecap="round" fill="none"/>
<text x="1324.5" y="169.7" font-size="49">10V</text>
<path d="M1210 220.6 H1312" stroke="#a5b4dc" stroke-width="10" stroke-linecap="round" fill="none"/>
<text x="1324.5" y="235.6" font-size="49">50V-</text>
<path d="M1210 284.4 H1312" stroke="#7030a0" stroke-width="10" stroke-linecap="round" fill="none"/>
<text x="1324.5" y="299.4" font-size="49">100V</text>
<path d="M1210 351.1 H1312" stroke="#5b9bd5" stroke-width="10" stroke-linecap="round" fill="none"/>
<text x="1324.5" y="366.1" font-size="49">130V</text>
<path d="M1210 415.3 H1312" stroke="#ffc000" stroke-width="10" stroke-linecap="round" fill="none"/>
<text x="1324.5" y="430.3" font-size="49">150V</text>
<path d="M1210 480.8 H1312" stroke="#a5a5a5" stroke-width="10" stroke-linecap="round" fill="none"/>
<text x="1324.5" y="495.8" font-size="49">170V</text>
<path d="M1210 545.6 H1312" stroke="#d600c2" stroke-width="10" stroke-linecap="round" fill="none"/>
<text x="1324.5" y="560.6" font-size="49">200V</text>
<path d="M1210 611.4 H1312" stroke="#c5672a" stroke-width="10" stroke-linecap="round" fill="none"/>
<text x="1324.5" y="626.4" font-size="49">250V</text>
<path d="M1210 677.5 H1312" stroke="#8c8c8c" stroke-width="10" stroke-linecap="round" fill="none"/>
<text x="1324.5" y="692.5" font-size="49">300V</text>
<path d="M1210 741.7 H1312" stroke="#d4a000" stroke-width="10" stroke-linecap="round" fill="none"/>
<text x="1324.5" y="756.7" font-size="49">350V</text>
<path d="M1210 808 H1312" stroke="#4a7ebb" stroke-width="10" stroke-linecap="round" fill="none"/>
<text x="1324.5" y="823" font-size="49">400V</text>
<path d="M1210 872 H1312" stroke="#5b9138" stroke-width="10" stroke-linecap="round" fill="none"/>
<text x="1324.5" y="887" font-size="49">450V</text>
<path d="M1210 938.3 H1312" stroke="#4472c4" stroke-width="10" stroke-linecap="round" fill="none"/>
<text x="1324.5" y="953.3" font-size="49">500V</text>
<path d="M1207.8 1002 H1314.5" stroke="#ff0000" stroke-width="5.6" stroke-dasharray="18.6 5.9" fill="none"/>
<text x="1324.5" y="1017" font-size="49">550V</text>
</g>
<g class="labels" font-size="64">
<text x="147" y="222.5" text-anchor="end">1</text>
<text x="148" y="1056" text-anchor="end">0</text>
<text x="202.5" y="1132" text-anchor="middle">0</text>
<text x="466.5" y="1132" text-anchor="middle">100</text>
<text x="730.5" y="1132" text-anchor="middle">200</text>
<text x="994.5" y="1132" text-anchor="middle">300</text>
<text x="1258.5" y="1132" text-anchor="middle">400</text>
</g>
<text x="809" y="1224" text-anchor="middle" font-size="82.6">Channel</text>
<text transform="translate(152 603.5) rotate(-90)" text-anchor="middle" font-size="73">Counts (arb #)</text>
</g>
<g id="field-chart">
<g class="axis">
<rect x="305.2" y="2075.6" width="16.3" height="5" fill="#2a2a2a"/>
<rect x="305.2" y="1833.4" width="16.3" height="5" fill="#2a2a2a"/>
<rect x="305.2" y="1591.2" width="16.3" height="5" fill="#2a2a2a"/>
<rect x="305.2" y="1349" width="16.3" height="5" fill="#2a2a2a"/>
<rect x="313.1" y="2197.1" width="8.4" height="4.3" fill="#2a2a2a"/>
<rect x="313.1" y="1954.8" width="8.4" height="4.3" fill="#2a2a2a"/>
<rect x="313.1" y="1712.6" width="8.4" height="4.3" fill="#2a2a2a"/>
<rect x="313.1" y="1470.4" width="8.4" height="4.3" fill="#2a2a2a"/>
<rect x="304.9" y="2320.9" width="1156.3" height="3" fill="#d2d2d2"/>
<rect x="608.5" y="2318.3" width="2.6" height="19.2" fill="#bdbdbd"/>
<rect x="605.5" y="2318.3" width="3" height="19.2" fill="#000"/>
<rect x="892.7" y="2318.3" width="2.6" height="19.2" fill="#bdbdbd"/>
<rect x="889.7" y="2318.3" width="3" height="19.2" fill="#000"/>
<rect x="1177" y="2318.3" width="2.6" height="19.2" fill="#bdbdbd"/>
<rect x="1174" y="2318.3" width="3" height="19.2" fill="#000"/>
<rect x="1461.2" y="2318.3" width="2.6" height="19.2" fill="#bdbdbd"/>
<rect x="1458.2" y="2318.3" width="3" height="19.2" fill="#000"/>
<rect x="466.3" y="2320" width="2.7" height="8.9" fill="#7a7a7a"/>
<rect x="463.3" y="2320" width="3" height="8.9" fill="#000"/>
<rect x="750.6" y="2320" width="2.7" height="8.9" fill="#7a7a7a"/>
<rect x="747.6" y="2320" width="3" height="8.9" fill="#000"/>
<rect x="1034.8" y="2320" width="2.7" height="8.9" fill="#7a7a7a"/>
<rect x="1031.8" y="2320" width="3" height="8.9" fill="#000"/>
<rect x="1319.1" y="2320" width="2.7" height="8.9" fill="#7a7a7a"/>
<rect x="1316.1" y="2320" width="3" height="8.9" fill="#000"/>
<rect x="304.9" y="2318.3" width="1156.3" height="2.6" fill="#000"/>
<rect x="324.4" y="1252" width="2.6" height="1085.5" fill="#666"/>
<rect x="321.1" y="1252" width="3.3" height="1085.5" fill="#000"/>
</g>
<g class="points" fill="#000">
<rect x="332.1" y="2244.7" width="19" height="19"/>
<rect x="334.1" y="2231.6" width="19" height="19"/>
<rect x="336.1" y="2218.9" width="19" height="19"/>
<rect x="338.1" y="2206.5" width="19" height="19"/>
<rect x="340.1" y="2194.6" width="19" height="19"/>
<rect x="342.1" y="2183.2" width="19" height="19"/>
<rect x="344.1" y="2172.4" width="19" height="19"/>
<rect x="346.1" y="2162.2" width="19" height="19"/>
<rect x="348.1" y="2152.8" width="19" height="19"/>
<rect x="350.1" y="2144.6" width="19" height="19"/>
<rect x="352.1" y="2138.6" width="19" height="19"/>
<rect x="357.2" y="2091.6" width="19" height="19"/>
<rect x="379.4" y="2004.4" width="19" height="19"/>
<rect x="401.5" y="1941.5" width="19" height="19"/>
<rect x="423.6" y="1902.7" width="19" height="19"/>
<rect x="467.9" y="1810.7" width="19" height="19"/>
<rect x="490" y="1762.2" width="19" height="19"/>
<rect x="512.1" y="1747.7" width="19" height="19"/>
<rect x="534.2" y="1713.8" width="19" height="19"/>
<rect x="644.9" y="1607.2" width="19" height="19"/>
<rect x="755.5" y="1534.6" width="19" height="19"/>
<rect x="866.1" y="1486.1" width="19" height="19"/>
<rect x="976.7" y="1437.7" width="19" height="19"/>
<rect x="1087.4" y="1398.9" width="19" height="19"/>
<rect x="1198" y="1389.2" width="19" height="19"/>
</g>
<path class="fit" d="M343.9 2227.9L351.1 2199.1L358.4 2170.3L365.7 2141.8L372.9 2113.6L380.2 2086.1L387.4 2059.3L394.7 2033.5L402 2008.7L409.2 1984.9L416.5 1962.3L423.8 1940.7L431 1920.1L438.3 1900.6L445.5 1882.1L452.8 1864.4L460.1 1847.7L467.3 1831.8L474.6 1816.6L481.9 1802.2L489.1 1788.5L496.4 1775.4L503.7 1762.9L510.9 1751L518.2 1739.7L525.4 1728.8L532.7 1718.5L540 1708.5L547.2 1699L554.5 1689.9L561.8 1681.1L569 1672.7L576.3 1664.7L583.5 1656.9L590.8 1649.5L598.1 1642.3L605.3 1635.4L612.6 1628.7L619.9 1622.3L627.1 1616.1L634.4 1610.1L641.6 1604.3L648.9 1598.7L656.2 1593.3L663.4 1588.1L670.7 1583L678 1578.1L685.2 1573.4L692.5 1568.8L699.7 1564.3L707 1560L714.3 1555.8L721.5 1551.7L728.8 1547.8L736.1 1543.9L743.3 1540.2L750.6 1536.5L757.8 1533L765.1 1529.5L772.4 1526.2L779.6 1522.9L786.9 1519.7L794.2 1516.6L801.4 1513.6L808.7 1510.6L816 1507.8L823.2 1505L830.5 1502.2L837.7 1499.5L845 1496.9L852.3 1494.4L859.5 1491.9L866.8 1489.4L874.1 1487.1L881.3 1484.7L888.6 1482.4L895.8 1480.2L903.1 1478L910.4 1475.9L917.6 1473.8L924.9 1471.8L932.2 1469.7L939.4 1467.8L946.7 1465.9L953.9 1464L961.2 1462.1L968.5 1460.3L975.7 1458.5L983 1456.8L990.3 1455.1L997.5 1453.4L1004.8 1451.8L1012 1450.1L1019.3 1448.5L1026.6 1447L1033.8 1445.5L1041.1 1444L1048.4 1442.5L1055.6 1441L1062.9 1439.6L1070.1 1438.2L1077.4 1436.8L1084.7 1435.5L1091.9 1434.1L1099.2 1432.8L1106.5 1431.6L1113.7 1430.3L1121 1429L1128.3 1427.8L1135.5 1426.6L1142.8 1425.4L1150 1424.3L1157.3 1423.1L1164.6 1422L1171.8 1420.9L1179.1 1419.8L1186.4 1418.7L1193.6 1417.6L1200.9 1416.6L1208.1 1415.6" stroke="#ff2a2a" stroke-width="1.45" fill="none"/>
<g class="labels" font-size="63">
<text x="291" y="2337.6" text-anchor="end">0</text>
<text x="291" y="2095.4" text-anchor="end">50</text>
<text x="291" y="1853.2" text-anchor="end">100</text>
<text x="291" y="1611" text-anchor="end">150</text>
<text x="291" y="1368.8" text-anchor="end">200</text>
</g>
<g class="labels" font-size="70">
<text x="321.4" y="2403" text-anchor="middle">0</text>
<text x="605.7" y="2403" text-anchor="middle">500</text>
<text x="890" y="2403" text-anchor="middle">1000</text>
<text x="1174.3" y="2403" text-anchor="middle">1500</text>
<text x="1458.6" y="2403" text-anchor="middle">2000</text>
</g>
<text x="896" y="2513" text-anchor="middle" font-size="84">Field (V/cm)</text>
<text transform="translate(179 1853) rotate(-90)" text-anchor="middle" font-size="79">Channel</text>
<g class="note" font-size="57.8">
<text x="874.5" y="2042">t= 2.57mm</text>
<text x="873.5" y="2116">Am-<tspan class="sym" font-size="67">α</tspan> source</text>
<text x="875" y="2194.5">Shapping t: 1<tspan class="sym" font-size="60">μ</tspan>s</text>
</g>
</g>
</g>
</svg>
</figure>
</body>
</html>
